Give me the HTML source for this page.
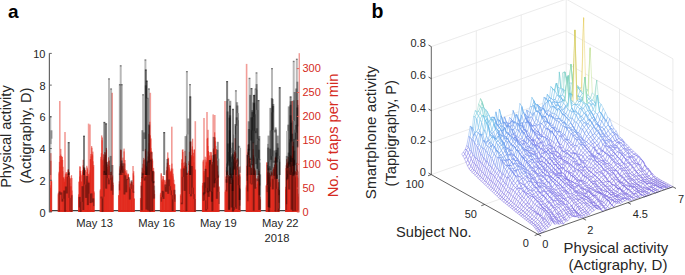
<!DOCTYPE html>
<html><head><meta charset="utf-8"><style>
html,body{margin:0;padding:0;background:#fff;width:685px;height:275px;overflow:hidden}
svg{display:block;font-family:"Liberation Sans", sans-serif}
</style></head><body>
<svg width="685" height="275" viewBox="0 0 685 275">
<rect width="685" height="275" fill="#fff"/>
<line x1="50.0" y1="210.6" x2="298.6" y2="210.6" stroke="#000" stroke-opacity="0.75" stroke-width="1.3"/>
<g fill="#e2261a" fill-opacity="0.62">
<rect x="49.78" y="187.8" width="1.2" height="24.2"/>
<rect x="49.56" y="185.2" width="1.2" height="26.8"/>
<rect x="50.29" y="153.1" width="1.2" height="58.9"/>
<rect x="50.32" y="160.8" width="1.2" height="51.2"/>
<rect x="50.91" y="181.6" width="1.2" height="30.4"/>
<rect x="50.95" y="180.7" width="1.2" height="31.3"/>
<rect x="57.70" y="194.3" width="1.2" height="17.7"/>
<rect x="57.74" y="192.8" width="1.2" height="19.2"/>
<rect x="58.53" y="171.7" width="1.2" height="40.3"/>
<rect x="58.49" y="173.4" width="1.2" height="38.6"/>
<rect x="58.88" y="172.1" width="1.2" height="39.9"/>
<rect x="58.82" y="161.9" width="1.2" height="50.1"/>
<rect x="59.36" y="166.6" width="1.2" height="45.4"/>
<rect x="59.40" y="156.0" width="1.2" height="56.0"/>
<rect x="60.17" y="154.6" width="1.2" height="57.4"/>
<rect x="60.19" y="148.9" width="1.2" height="63.1"/>
<rect x="60.56" y="160.0" width="1.2" height="52.0"/>
<rect x="60.93" y="156.0" width="1.2" height="56.0"/>
<rect x="61.57" y="156.8" width="1.2" height="55.2"/>
<rect x="61.51" y="156.9" width="1.2" height="55.1"/>
<rect x="62.06" y="160.0" width="1.2" height="52.0"/>
<rect x="62.19" y="171.2" width="1.2" height="40.8"/>
<rect x="62.45" y="166.8" width="1.2" height="45.2"/>
<rect x="62.52" y="177.3" width="1.2" height="34.7"/>
<rect x="63.13" y="177.5" width="1.2" height="34.5"/>
<rect x="63.06" y="177.6" width="1.2" height="34.4"/>
<rect x="63.76" y="182.2" width="1.2" height="29.8"/>
<rect x="63.91" y="179.2" width="1.2" height="32.8"/>
<rect x="64.23" y="181.6" width="1.2" height="30.4"/>
<rect x="64.60" y="176.5" width="1.2" height="35.5"/>
<rect x="64.86" y="174.1" width="1.2" height="37.9"/>
<rect x="64.98" y="177.1" width="1.2" height="34.9"/>
<rect x="65.36" y="172.7" width="1.2" height="39.3"/>
<rect x="65.73" y="172.1" width="1.2" height="39.9"/>
<rect x="66.38" y="173.9" width="1.2" height="38.1"/>
<rect x="66.33" y="174.0" width="1.2" height="38.0"/>
<rect x="67.01" y="175.6" width="1.2" height="36.4"/>
<rect x="66.76" y="176.4" width="1.2" height="35.6"/>
<rect x="67.48" y="171.9" width="1.2" height="40.1"/>
<rect x="67.51" y="169.5" width="1.2" height="42.5"/>
<rect x="67.85" y="169.3" width="1.2" height="42.7"/>
<rect x="67.88" y="170.7" width="1.2" height="41.3"/>
<rect x="68.73" y="172.0" width="1.2" height="40.0"/>
<rect x="68.62" y="177.3" width="1.2" height="34.7"/>
<rect x="69.13" y="176.2" width="1.2" height="35.8"/>
<rect x="69.25" y="183.2" width="1.2" height="28.8"/>
<rect x="69.62" y="178.1" width="1.2" height="33.9"/>
<rect x="69.55" y="178.8" width="1.2" height="33.2"/>
<rect x="70.36" y="186.2" width="1.2" height="25.8"/>
<rect x="70.15" y="186.5" width="1.2" height="25.5"/>
<rect x="71.23" y="178.0" width="1.2" height="34.0"/>
<rect x="70.91" y="175.2" width="1.2" height="36.8"/>
<rect x="71.39" y="190.5" width="1.2" height="21.5"/>
<rect x="71.35" y="194.7" width="1.2" height="17.3"/>
<rect x="78.04" y="194.3" width="1.2" height="17.7"/>
<rect x="77.99" y="196.8" width="1.2" height="15.2"/>
<rect x="78.51" y="181.5" width="1.2" height="30.5"/>
<rect x="78.57" y="181.9" width="1.2" height="30.1"/>
<rect x="79.17" y="166.3" width="1.2" height="45.7"/>
<rect x="79.11" y="176.5" width="1.2" height="35.5"/>
<rect x="79.67" y="166.7" width="1.2" height="45.3"/>
<rect x="79.59" y="170.8" width="1.2" height="41.2"/>
<rect x="80.09" y="173.5" width="1.2" height="38.5"/>
<rect x="80.17" y="171.0" width="1.2" height="41.0"/>
<rect x="80.70" y="181.6" width="1.2" height="30.4"/>
<rect x="81.12" y="181.5" width="1.2" height="30.5"/>
<rect x="81.30" y="175.4" width="1.2" height="36.6"/>
<rect x="81.72" y="174.8" width="1.2" height="37.2"/>
<rect x="82.02" y="171.7" width="1.2" height="40.3"/>
<rect x="82.19" y="170.1" width="1.2" height="41.9"/>
<rect x="82.50" y="165.3" width="1.2" height="46.7"/>
<rect x="82.61" y="159.8" width="1.2" height="52.2"/>
<rect x="83.28" y="169.3" width="1.2" height="42.7"/>
<rect x="83.08" y="167.1" width="1.2" height="44.9"/>
<rect x="83.79" y="168.8" width="1.2" height="43.2"/>
<rect x="84.06" y="168.3" width="1.2" height="43.7"/>
<rect x="84.42" y="170.2" width="1.2" height="41.8"/>
<rect x="84.67" y="170.2" width="1.2" height="41.8"/>
<rect x="85.08" y="176.5" width="1.2" height="35.5"/>
<rect x="85.16" y="175.6" width="1.2" height="36.4"/>
<rect x="85.66" y="178.8" width="1.2" height="33.2"/>
<rect x="85.67" y="181.5" width="1.2" height="30.5"/>
<rect x="86.20" y="165.8" width="1.2" height="46.2"/>
<rect x="86.35" y="171.9" width="1.2" height="40.1"/>
<rect x="86.74" y="167.6" width="1.2" height="44.4"/>
<rect x="87.02" y="169.4" width="1.2" height="42.6"/>
<rect x="87.30" y="181.0" width="1.2" height="31.0"/>
<rect x="87.70" y="173.8" width="1.2" height="38.2"/>
<rect x="87.89" y="185.4" width="1.2" height="26.6"/>
<rect x="87.99" y="180.6" width="1.2" height="31.4"/>
<rect x="88.47" y="174.4" width="1.2" height="37.6"/>
<rect x="88.53" y="176.5" width="1.2" height="35.5"/>
<rect x="89.40" y="172.4" width="1.2" height="39.6"/>
<rect x="89.48" y="170.3" width="1.2" height="41.7"/>
<rect x="89.96" y="159.2" width="1.2" height="52.8"/>
<rect x="89.74" y="159.2" width="1.2" height="52.8"/>
<rect x="90.41" y="156.4" width="1.2" height="55.6"/>
<rect x="90.31" y="154.0" width="1.2" height="58.0"/>
<rect x="91.04" y="146.1" width="1.2" height="65.9"/>
<rect x="91.32" y="147.8" width="1.2" height="64.2"/>
<rect x="91.65" y="154.1" width="1.2" height="57.9"/>
<rect x="91.95" y="155.4" width="1.2" height="56.6"/>
<rect x="92.42" y="161.3" width="1.2" height="50.7"/>
<rect x="92.28" y="151.6" width="1.2" height="60.4"/>
<rect x="92.74" y="166.8" width="1.2" height="45.2"/>
<rect x="93.12" y="165.0" width="1.2" height="47.0"/>
<rect x="93.38" y="192.7" width="1.2" height="19.3"/>
<rect x="93.47" y="191.4" width="1.2" height="20.6"/>
<rect x="99.78" y="189.2" width="1.2" height="22.8"/>
<rect x="99.61" y="190.5" width="1.2" height="21.5"/>
<rect x="100.64" y="158.8" width="1.2" height="53.2"/>
<rect x="100.27" y="156.8" width="1.2" height="55.2"/>
<rect x="100.80" y="153.2" width="1.2" height="58.8"/>
<rect x="101.12" y="135.4" width="1.2" height="76.6"/>
<rect x="101.77" y="137.5" width="1.2" height="74.5"/>
<rect x="101.48" y="140.2" width="1.2" height="71.8"/>
<rect x="102.08" y="159.8" width="1.2" height="52.2"/>
<rect x="102.04" y="161.5" width="1.2" height="50.5"/>
<rect x="102.80" y="154.3" width="1.2" height="57.7"/>
<rect x="102.70" y="165.3" width="1.2" height="46.7"/>
<rect x="103.58" y="157.2" width="1.2" height="54.8"/>
<rect x="103.52" y="158.9" width="1.2" height="53.1"/>
<rect x="104.03" y="152.1" width="1.2" height="59.9"/>
<rect x="104.04" y="160.2" width="1.2" height="51.8"/>
<rect x="104.37" y="154.6" width="1.2" height="57.4"/>
<rect x="104.58" y="155.0" width="1.2" height="57.0"/>
<rect x="104.99" y="154.7" width="1.2" height="57.3"/>
<rect x="105.13" y="152.4" width="1.2" height="59.6"/>
<rect x="105.79" y="147.9" width="1.2" height="64.1"/>
<rect x="105.92" y="149.8" width="1.2" height="62.2"/>
<rect x="106.31" y="161.6" width="1.2" height="50.4"/>
<rect x="106.31" y="164.4" width="1.2" height="47.6"/>
<rect x="107.18" y="168.9" width="1.2" height="43.1"/>
<rect x="106.90" y="167.0" width="1.2" height="45.0"/>
<rect x="107.35" y="170.3" width="1.2" height="41.7"/>
<rect x="107.46" y="164.6" width="1.2" height="47.4"/>
<rect x="108.10" y="161.1" width="1.2" height="50.9"/>
<rect x="108.05" y="157.3" width="1.2" height="54.7"/>
<rect x="108.84" y="160.5" width="1.2" height="51.5"/>
<rect x="108.92" y="165.9" width="1.2" height="46.1"/>
<rect x="109.61" y="178.8" width="1.2" height="33.2"/>
<rect x="109.45" y="179.7" width="1.2" height="32.3"/>
<rect x="110.12" y="172.0" width="1.2" height="40.0"/>
<rect x="110.19" y="174.4" width="1.2" height="37.6"/>
<rect x="110.70" y="171.6" width="1.2" height="40.4"/>
<rect x="110.44" y="177.7" width="1.2" height="34.3"/>
<rect x="111.22" y="177.8" width="1.2" height="34.2"/>
<rect x="111.32" y="181.4" width="1.2" height="30.6"/>
<rect x="111.79" y="177.2" width="1.2" height="34.8"/>
<rect x="111.97" y="175.4" width="1.2" height="36.6"/>
<rect x="112.43" y="185.0" width="1.2" height="27.0"/>
<rect x="112.48" y="182.6" width="1.2" height="29.4"/>
<rect x="118.30" y="195.8" width="1.2" height="16.2"/>
<rect x="117.98" y="195.0" width="1.2" height="17.0"/>
<rect x="118.69" y="181.3" width="1.2" height="30.7"/>
<rect x="118.78" y="184.2" width="1.2" height="27.8"/>
<rect x="119.29" y="166.3" width="1.2" height="45.7"/>
<rect x="119.44" y="168.5" width="1.2" height="43.5"/>
<rect x="119.96" y="149.6" width="1.2" height="62.4"/>
<rect x="119.90" y="164.0" width="1.2" height="48.0"/>
<rect x="120.42" y="150.2" width="1.2" height="61.8"/>
<rect x="120.43" y="149.8" width="1.2" height="62.2"/>
<rect x="121.16" y="163.6" width="1.2" height="48.4"/>
<rect x="121.31" y="162.9" width="1.2" height="49.1"/>
<rect x="121.80" y="166.2" width="1.2" height="45.8"/>
<rect x="121.57" y="166.2" width="1.2" height="45.8"/>
<rect x="122.36" y="157.6" width="1.2" height="54.4"/>
<rect x="122.43" y="165.9" width="1.2" height="46.1"/>
<rect x="122.90" y="172.2" width="1.2" height="39.8"/>
<rect x="123.01" y="168.5" width="1.2" height="43.5"/>
<rect x="123.48" y="151.4" width="1.2" height="60.6"/>
<rect x="123.47" y="148.6" width="1.2" height="63.4"/>
<rect x="124.35" y="160.0" width="1.2" height="52.0"/>
<rect x="124.21" y="163.5" width="1.2" height="48.5"/>
<rect x="124.49" y="169.2" width="1.2" height="42.8"/>
<rect x="124.78" y="171.1" width="1.2" height="40.9"/>
<rect x="125.44" y="177.4" width="1.2" height="34.6"/>
<rect x="125.12" y="174.3" width="1.2" height="37.7"/>
<rect x="125.96" y="172.6" width="1.2" height="39.4"/>
<rect x="126.13" y="170.2" width="1.2" height="41.8"/>
<rect x="126.66" y="178.8" width="1.2" height="33.2"/>
<rect x="126.46" y="185.2" width="1.2" height="26.8"/>
<rect x="127.32" y="173.7" width="1.2" height="38.3"/>
<rect x="127.02" y="175.3" width="1.2" height="36.7"/>
<rect x="127.72" y="173.8" width="1.2" height="38.2"/>
<rect x="127.77" y="174.8" width="1.2" height="37.2"/>
<rect x="128.41" y="179.1" width="1.2" height="32.9"/>
<rect x="128.30" y="178.2" width="1.2" height="33.8"/>
<rect x="128.98" y="187.9" width="1.2" height="24.1"/>
<rect x="128.67" y="187.4" width="1.2" height="24.6"/>
<rect x="129.41" y="183.4" width="1.2" height="28.6"/>
<rect x="129.27" y="186.8" width="1.2" height="25.2"/>
<rect x="130.31" y="184.4" width="1.2" height="27.6"/>
<rect x="130.00" y="183.7" width="1.2" height="28.3"/>
<rect x="130.57" y="180.8" width="1.2" height="31.2"/>
<rect x="130.73" y="182.0" width="1.2" height="30.0"/>
<rect x="131.29" y="185.7" width="1.2" height="26.3"/>
<rect x="131.18" y="189.5" width="1.2" height="22.5"/>
<rect x="131.65" y="182.2" width="1.2" height="29.8"/>
<rect x="131.72" y="184.4" width="1.2" height="27.6"/>
<rect x="132.63" y="173.3" width="1.2" height="38.7"/>
<rect x="132.43" y="166.0" width="1.2" height="46.0"/>
<rect x="133.00" y="175.5" width="1.2" height="36.5"/>
<rect x="133.09" y="171.2" width="1.2" height="40.8"/>
<rect x="133.71" y="198.9" width="1.2" height="13.1"/>
<rect x="133.52" y="198.2" width="1.2" height="13.8"/>
<rect x="140.24" y="199.6" width="1.2" height="12.4"/>
<rect x="139.90" y="198.0" width="1.2" height="14.0"/>
<rect x="140.56" y="185.7" width="1.2" height="26.3"/>
<rect x="140.58" y="182.0" width="1.2" height="30.0"/>
<rect x="141.42" y="178.5" width="1.2" height="33.5"/>
<rect x="141.10" y="176.8" width="1.2" height="35.2"/>
<rect x="141.67" y="167.7" width="1.2" height="44.3"/>
<rect x="141.60" y="171.9" width="1.2" height="40.1"/>
<rect x="142.65" y="168.9" width="1.2" height="43.1"/>
<rect x="142.41" y="163.8" width="1.2" height="48.2"/>
<rect x="143.09" y="157.9" width="1.2" height="54.1"/>
<rect x="142.93" y="160.2" width="1.2" height="51.8"/>
<rect x="143.36" y="170.7" width="1.2" height="41.3"/>
<rect x="143.55" y="171.0" width="1.2" height="41.0"/>
<rect x="144.29" y="164.5" width="1.2" height="47.5"/>
<rect x="144.07" y="159.3" width="1.2" height="52.7"/>
<rect x="144.80" y="148.9" width="1.2" height="63.1"/>
<rect x="144.98" y="150.8" width="1.2" height="61.2"/>
<rect x="145.18" y="160.1" width="1.2" height="51.9"/>
<rect x="145.60" y="166.1" width="1.2" height="45.9"/>
<rect x="145.90" y="173.6" width="1.2" height="38.4"/>
<rect x="145.77" y="172.2" width="1.2" height="39.8"/>
<rect x="146.82" y="167.2" width="1.2" height="44.8"/>
<rect x="146.38" y="169.8" width="1.2" height="42.2"/>
<rect x="147.37" y="162.9" width="1.2" height="49.1"/>
<rect x="147.05" y="160.4" width="1.2" height="51.6"/>
<rect x="147.58" y="156.4" width="1.2" height="55.6"/>
<rect x="147.64" y="151.5" width="1.2" height="60.5"/>
<rect x="148.60" y="143.1" width="1.2" height="68.9"/>
<rect x="148.40" y="133.9" width="1.2" height="78.1"/>
<rect x="148.82" y="125.6" width="1.2" height="86.4"/>
<rect x="149.18" y="121.8" width="1.2" height="90.2"/>
<rect x="149.79" y="135.3" width="1.2" height="76.7"/>
<rect x="149.84" y="139.4" width="1.2" height="72.6"/>
<rect x="150.41" y="148.2" width="1.2" height="63.8"/>
<rect x="150.42" y="138.4" width="1.2" height="73.6"/>
<rect x="150.59" y="151.0" width="1.2" height="61.0"/>
<rect x="150.88" y="158.3" width="1.2" height="53.7"/>
<rect x="151.49" y="151.8" width="1.2" height="60.2"/>
<rect x="151.32" y="165.2" width="1.2" height="46.8"/>
<rect x="151.84" y="158.7" width="1.2" height="53.3"/>
<rect x="152.01" y="160.6" width="1.2" height="51.4"/>
<rect x="152.48" y="171.5" width="1.2" height="40.5"/>
<rect x="152.82" y="171.1" width="1.2" height="40.9"/>
<rect x="153.33" y="171.7" width="1.2" height="40.3"/>
<rect x="152.97" y="167.9" width="1.2" height="44.1"/>
<rect x="153.60" y="190.3" width="1.2" height="21.7"/>
<rect x="153.92" y="194.1" width="1.2" height="17.9"/>
<rect x="159.93" y="192.8" width="1.2" height="19.2"/>
<rect x="159.90" y="194.6" width="1.2" height="17.4"/>
<rect x="160.60" y="173.0" width="1.2" height="39.0"/>
<rect x="160.69" y="174.3" width="1.2" height="37.7"/>
<rect x="161.42" y="180.0" width="1.2" height="32.0"/>
<rect x="161.35" y="180.4" width="1.2" height="31.6"/>
<rect x="161.86" y="181.9" width="1.2" height="30.1"/>
<rect x="161.94" y="184.5" width="1.2" height="27.5"/>
<rect x="162.25" y="176.0" width="1.2" height="36.0"/>
<rect x="162.23" y="178.8" width="1.2" height="33.2"/>
<rect x="163.09" y="179.6" width="1.2" height="32.4"/>
<rect x="162.88" y="176.2" width="1.2" height="35.8"/>
<rect x="163.36" y="185.7" width="1.2" height="26.3"/>
<rect x="163.53" y="180.0" width="1.2" height="32.0"/>
<rect x="164.29" y="184.3" width="1.2" height="27.7"/>
<rect x="164.30" y="180.5" width="1.2" height="31.5"/>
<rect x="165.04" y="187.1" width="1.2" height="24.9"/>
<rect x="164.84" y="187.4" width="1.2" height="24.6"/>
<rect x="165.29" y="181.8" width="1.2" height="30.2"/>
<rect x="165.45" y="179.7" width="1.2" height="32.3"/>
<rect x="165.82" y="171.3" width="1.2" height="40.7"/>
<rect x="165.89" y="170.0" width="1.2" height="42.0"/>
<rect x="166.72" y="162.7" width="1.2" height="49.3"/>
<rect x="166.48" y="166.7" width="1.2" height="45.3"/>
<rect x="167.44" y="157.7" width="1.2" height="54.3"/>
<rect x="167.19" y="152.4" width="1.2" height="59.6"/>
<rect x="167.88" y="158.3" width="1.2" height="53.7"/>
<rect x="167.59" y="162.9" width="1.2" height="49.1"/>
<rect x="168.44" y="173.5" width="1.2" height="38.5"/>
<rect x="168.64" y="167.4" width="1.2" height="44.6"/>
<rect x="169.18" y="169.3" width="1.2" height="42.7"/>
<rect x="169.00" y="164.9" width="1.2" height="47.1"/>
<rect x="169.59" y="171.5" width="1.2" height="40.5"/>
<rect x="169.73" y="172.1" width="1.2" height="39.9"/>
<rect x="170.01" y="174.8" width="1.2" height="37.2"/>
<rect x="170.21" y="170.9" width="1.2" height="41.1"/>
<rect x="170.82" y="168.4" width="1.2" height="43.6"/>
<rect x="170.84" y="170.3" width="1.2" height="41.7"/>
<rect x="171.22" y="171.6" width="1.2" height="40.4"/>
<rect x="171.32" y="163.6" width="1.2" height="48.4"/>
<rect x="172.16" y="175.8" width="1.2" height="36.2"/>
<rect x="172.13" y="168.6" width="1.2" height="43.4"/>
<rect x="172.42" y="177.5" width="1.2" height="34.5"/>
<rect x="172.46" y="173.7" width="1.2" height="38.3"/>
<rect x="173.30" y="179.7" width="1.2" height="32.3"/>
<rect x="172.95" y="183.2" width="1.2" height="28.8"/>
<rect x="173.95" y="184.3" width="1.2" height="27.7"/>
<rect x="174.04" y="184.3" width="1.2" height="27.7"/>
<rect x="174.52" y="195.1" width="1.2" height="16.9"/>
<rect x="174.44" y="194.0" width="1.2" height="18.0"/>
<rect x="179.86" y="194.4" width="1.2" height="17.6"/>
<rect x="180.28" y="196.0" width="1.2" height="16.0"/>
<rect x="180.55" y="168.5" width="1.2" height="43.5"/>
<rect x="180.72" y="169.3" width="1.2" height="42.7"/>
<rect x="181.21" y="159.3" width="1.2" height="52.7"/>
<rect x="181.37" y="162.9" width="1.2" height="49.1"/>
<rect x="181.82" y="149.8" width="1.2" height="62.2"/>
<rect x="181.71" y="159.2" width="1.2" height="52.8"/>
<rect x="182.29" y="152.0" width="1.2" height="60.0"/>
<rect x="182.32" y="149.3" width="1.2" height="62.7"/>
<rect x="183.32" y="167.0" width="1.2" height="45.0"/>
<rect x="183.23" y="162.7" width="1.2" height="49.3"/>
<rect x="183.57" y="166.1" width="1.2" height="45.9"/>
<rect x="183.94" y="165.7" width="1.2" height="46.3"/>
<rect x="184.50" y="161.7" width="1.2" height="50.3"/>
<rect x="184.39" y="150.8" width="1.2" height="61.2"/>
<rect x="185.02" y="165.1" width="1.2" height="46.9"/>
<rect x="184.95" y="155.9" width="1.2" height="56.1"/>
<rect x="185.55" y="172.2" width="1.2" height="39.8"/>
<rect x="185.55" y="163.2" width="1.2" height="48.8"/>
<rect x="185.95" y="172.8" width="1.2" height="39.2"/>
<rect x="185.87" y="166.8" width="1.2" height="45.2"/>
<rect x="186.64" y="175.8" width="1.2" height="36.2"/>
<rect x="186.70" y="172.7" width="1.2" height="39.3"/>
<rect x="187.33" y="179.8" width="1.2" height="32.2"/>
<rect x="187.21" y="173.5" width="1.2" height="38.5"/>
<rect x="187.91" y="173.1" width="1.2" height="38.9"/>
<rect x="187.94" y="170.9" width="1.2" height="41.1"/>
<rect x="188.53" y="163.7" width="1.2" height="48.3"/>
<rect x="188.30" y="161.2" width="1.2" height="50.8"/>
<rect x="189.28" y="163.1" width="1.2" height="48.9"/>
<rect x="188.85" y="151.8" width="1.2" height="60.2"/>
<rect x="189.75" y="141.4" width="1.2" height="70.6"/>
<rect x="189.80" y="142.0" width="1.2" height="70.0"/>
<rect x="190.11" y="148.8" width="1.2" height="63.2"/>
<rect x="190.41" y="141.5" width="1.2" height="70.5"/>
<rect x="190.79" y="155.5" width="1.2" height="56.5"/>
<rect x="191.12" y="157.2" width="1.2" height="54.8"/>
<rect x="191.36" y="155.0" width="1.2" height="57.0"/>
<rect x="191.74" y="146.4" width="1.2" height="65.6"/>
<rect x="191.95" y="149.6" width="1.2" height="62.4"/>
<rect x="192.04" y="138.7" width="1.2" height="73.3"/>
<rect x="192.79" y="152.8" width="1.2" height="59.2"/>
<rect x="192.75" y="156.2" width="1.2" height="55.8"/>
<rect x="193.16" y="167.1" width="1.2" height="44.9"/>
<rect x="193.26" y="162.3" width="1.2" height="49.7"/>
<rect x="193.72" y="149.7" width="1.2" height="62.3"/>
<rect x="193.78" y="149.4" width="1.2" height="62.6"/>
<rect x="194.30" y="169.4" width="1.2" height="42.6"/>
<rect x="194.74" y="169.7" width="1.2" height="42.3"/>
<rect x="201.98" y="182.9" width="1.2" height="29.1"/>
<rect x="201.88" y="185.5" width="1.2" height="26.5"/>
<rect x="202.53" y="161.5" width="1.2" height="50.5"/>
<rect x="202.70" y="159.8" width="1.2" height="52.2"/>
<rect x="202.97" y="171.1" width="1.2" height="40.9"/>
<rect x="203.16" y="173.0" width="1.2" height="39.0"/>
<rect x="203.84" y="171.1" width="1.2" height="40.9"/>
<rect x="203.78" y="175.6" width="1.2" height="36.4"/>
<rect x="204.63" y="156.7" width="1.2" height="55.3"/>
<rect x="204.49" y="159.6" width="1.2" height="52.4"/>
<rect x="205.25" y="168.0" width="1.2" height="44.0"/>
<rect x="204.98" y="165.7" width="1.2" height="46.3"/>
<rect x="205.82" y="162.6" width="1.2" height="49.4"/>
<rect x="205.65" y="161.8" width="1.2" height="50.2"/>
<rect x="206.28" y="160.3" width="1.2" height="51.7"/>
<rect x="206.42" y="157.5" width="1.2" height="54.5"/>
<rect x="207.05" y="137.8" width="1.2" height="74.2"/>
<rect x="206.57" y="138.7" width="1.2" height="73.3"/>
<rect x="207.32" y="146.0" width="1.2" height="66.0"/>
<rect x="207.43" y="129.8" width="1.2" height="82.2"/>
<rect x="207.80" y="151.1" width="1.2" height="60.9"/>
<rect x="207.81" y="151.3" width="1.2" height="60.7"/>
<rect x="208.72" y="162.5" width="1.2" height="49.5"/>
<rect x="208.43" y="161.7" width="1.2" height="50.3"/>
<rect x="209.02" y="155.4" width="1.2" height="56.6"/>
<rect x="209.28" y="152.1" width="1.2" height="59.9"/>
<rect x="209.91" y="158.6" width="1.2" height="53.4"/>
<rect x="209.68" y="160.7" width="1.2" height="51.3"/>
<rect x="210.34" y="151.9" width="1.2" height="60.1"/>
<rect x="210.61" y="152.4" width="1.2" height="59.6"/>
<rect x="211.15" y="158.5" width="1.2" height="53.5"/>
<rect x="210.79" y="155.5" width="1.2" height="56.5"/>
<rect x="211.64" y="171.3" width="1.2" height="40.7"/>
<rect x="211.47" y="164.0" width="1.2" height="48.0"/>
<rect x="212.14" y="164.9" width="1.2" height="47.1"/>
<rect x="212.16" y="161.9" width="1.2" height="50.1"/>
<rect x="212.85" y="149.4" width="1.2" height="62.6"/>
<rect x="212.72" y="159.7" width="1.2" height="52.3"/>
<rect x="213.23" y="148.2" width="1.2" height="63.8"/>
<rect x="213.18" y="150.3" width="1.2" height="61.7"/>
<rect x="214.18" y="137.3" width="1.2" height="74.7"/>
<rect x="214.05" y="132.3" width="1.2" height="79.7"/>
<rect x="214.63" y="141.2" width="1.2" height="70.8"/>
<rect x="214.44" y="137.6" width="1.2" height="74.4"/>
<rect x="215.20" y="145.9" width="1.2" height="66.1"/>
<rect x="215.17" y="152.3" width="1.2" height="59.7"/>
<rect x="215.87" y="149.0" width="1.2" height="63.0"/>
<rect x="215.67" y="157.3" width="1.2" height="54.7"/>
<rect x="216.43" y="160.6" width="1.2" height="51.4"/>
<rect x="216.39" y="165.3" width="1.2" height="46.7"/>
<rect x="217.06" y="171.4" width="1.2" height="40.6"/>
<rect x="216.94" y="165.8" width="1.2" height="46.2"/>
<rect x="217.63" y="175.9" width="1.2" height="36.1"/>
<rect x="217.47" y="174.6" width="1.2" height="37.4"/>
<rect x="218.41" y="186.3" width="1.2" height="25.7"/>
<rect x="218.29" y="187.1" width="1.2" height="24.9"/>
<rect x="225.01" y="189.8" width="1.2" height="22.2"/>
<rect x="224.58" y="191.7" width="1.2" height="20.3"/>
<rect x="225.64" y="177.0" width="1.2" height="35.0"/>
<rect x="225.51" y="176.2" width="1.2" height="35.8"/>
<rect x="226.07" y="176.7" width="1.2" height="35.3"/>
<rect x="226.00" y="171.7" width="1.2" height="40.3"/>
<rect x="226.42" y="180.5" width="1.2" height="31.5"/>
<rect x="226.70" y="171.6" width="1.2" height="40.4"/>
<rect x="227.02" y="170.5" width="1.2" height="41.5"/>
<rect x="227.29" y="179.3" width="1.2" height="32.7"/>
<rect x="227.78" y="175.0" width="1.2" height="37.0"/>
<rect x="227.93" y="177.1" width="1.2" height="34.9"/>
<rect x="228.51" y="176.2" width="1.2" height="35.8"/>
<rect x="228.40" y="179.5" width="1.2" height="32.5"/>
<rect x="228.98" y="175.7" width="1.2" height="36.3"/>
<rect x="228.98" y="176.4" width="1.2" height="35.6"/>
<rect x="229.75" y="167.4" width="1.2" height="44.6"/>
<rect x="229.69" y="176.7" width="1.2" height="35.3"/>
<rect x="230.12" y="174.1" width="1.2" height="37.9"/>
<rect x="230.42" y="173.4" width="1.2" height="38.6"/>
<rect x="230.86" y="185.6" width="1.2" height="26.4"/>
<rect x="230.78" y="182.9" width="1.2" height="29.1"/>
<rect x="231.58" y="179.7" width="1.2" height="32.3"/>
<rect x="231.59" y="178.9" width="1.2" height="33.1"/>
<rect x="232.15" y="178.0" width="1.2" height="34.0"/>
<rect x="231.84" y="176.5" width="1.2" height="35.5"/>
<rect x="232.64" y="166.3" width="1.2" height="45.7"/>
<rect x="232.80" y="173.3" width="1.2" height="38.7"/>
<rect x="233.29" y="161.5" width="1.2" height="50.5"/>
<rect x="233.11" y="154.4" width="1.2" height="57.6"/>
<rect x="233.82" y="152.1" width="1.2" height="59.9"/>
<rect x="233.82" y="156.5" width="1.2" height="55.5"/>
<rect x="234.50" y="138.2" width="1.2" height="73.8"/>
<rect x="234.49" y="151.3" width="1.2" height="60.7"/>
<rect x="234.93" y="153.6" width="1.2" height="58.4"/>
<rect x="234.94" y="152.7" width="1.2" height="59.3"/>
<rect x="235.54" y="160.2" width="1.2" height="51.8"/>
<rect x="235.50" y="159.6" width="1.2" height="52.4"/>
<rect x="236.11" y="176.3" width="1.2" height="35.7"/>
<rect x="236.39" y="176.8" width="1.2" height="35.2"/>
<rect x="236.76" y="158.2" width="1.2" height="53.8"/>
<rect x="236.99" y="168.4" width="1.2" height="43.6"/>
<rect x="237.27" y="159.5" width="1.2" height="52.5"/>
<rect x="237.40" y="166.9" width="1.2" height="45.1"/>
<rect x="237.86" y="178.3" width="1.2" height="33.7"/>
<rect x="237.81" y="175.5" width="1.2" height="36.5"/>
<rect x="238.65" y="176.3" width="1.2" height="35.7"/>
<rect x="238.81" y="174.6" width="1.2" height="37.4"/>
<rect x="239.29" y="166.4" width="1.2" height="45.6"/>
<rect x="239.33" y="174.3" width="1.2" height="37.7"/>
<rect x="245.81" y="185.4" width="1.2" height="26.6"/>
<rect x="245.75" y="187.5" width="1.2" height="24.5"/>
<rect x="246.63" y="174.3" width="1.2" height="37.7"/>
<rect x="246.20" y="165.8" width="1.2" height="46.2"/>
<rect x="247.14" y="168.3" width="1.2" height="43.7"/>
<rect x="247.12" y="164.2" width="1.2" height="47.8"/>
<rect x="247.42" y="152.8" width="1.2" height="59.2"/>
<rect x="247.45" y="151.7" width="1.2" height="60.3"/>
<rect x="248.32" y="156.1" width="1.2" height="55.9"/>
<rect x="248.10" y="144.1" width="1.2" height="67.9"/>
<rect x="248.92" y="159.0" width="1.2" height="53.0"/>
<rect x="248.77" y="160.4" width="1.2" height="51.6"/>
<rect x="249.21" y="158.0" width="1.2" height="54.0"/>
<rect x="249.59" y="158.7" width="1.2" height="53.3"/>
<rect x="249.87" y="166.5" width="1.2" height="45.5"/>
<rect x="249.97" y="175.6" width="1.2" height="36.4"/>
<rect x="250.81" y="172.7" width="1.2" height="39.3"/>
<rect x="250.77" y="167.7" width="1.2" height="44.3"/>
<rect x="251.20" y="173.3" width="1.2" height="38.7"/>
<rect x="251.01" y="168.2" width="1.2" height="43.8"/>
<rect x="251.98" y="168.8" width="1.2" height="43.2"/>
<rect x="251.94" y="164.0" width="1.2" height="48.0"/>
<rect x="252.54" y="142.4" width="1.2" height="69.6"/>
<rect x="252.53" y="149.1" width="1.2" height="62.9"/>
<rect x="252.86" y="155.1" width="1.2" height="56.9"/>
<rect x="253.21" y="158.4" width="1.2" height="53.6"/>
<rect x="253.37" y="169.5" width="1.2" height="42.5"/>
<rect x="253.85" y="168.1" width="1.2" height="43.9"/>
<rect x="254.20" y="169.2" width="1.2" height="42.8"/>
<rect x="254.27" y="171.2" width="1.2" height="40.8"/>
<rect x="254.79" y="173.4" width="1.2" height="38.6"/>
<rect x="254.99" y="170.3" width="1.2" height="41.7"/>
<rect x="255.51" y="178.3" width="1.2" height="33.7"/>
<rect x="255.25" y="178.8" width="1.2" height="33.2"/>
<rect x="255.88" y="187.0" width="1.2" height="25.0"/>
<rect x="256.23" y="189.0" width="1.2" height="23.0"/>
<rect x="256.76" y="183.8" width="1.2" height="28.2"/>
<rect x="256.55" y="178.6" width="1.2" height="33.4"/>
<rect x="257.04" y="181.9" width="1.2" height="30.1"/>
<rect x="257.30" y="175.8" width="1.2" height="36.2"/>
<rect x="257.85" y="178.5" width="1.2" height="33.5"/>
<rect x="257.88" y="180.4" width="1.2" height="31.6"/>
<rect x="258.54" y="170.8" width="1.2" height="41.2"/>
<rect x="258.44" y="173.2" width="1.2" height="38.8"/>
<rect x="258.88" y="183.2" width="1.2" height="28.8"/>
<rect x="258.79" y="179.3" width="1.2" height="32.7"/>
<rect x="259.83" y="199.3" width="1.2" height="12.7"/>
<rect x="259.63" y="196.7" width="1.2" height="15.3"/>
<rect x="265.70" y="185.4" width="1.2" height="26.6"/>
<rect x="265.61" y="185.6" width="1.2" height="26.4"/>
<rect x="266.32" y="162.0" width="1.2" height="50.0"/>
<rect x="266.29" y="163.1" width="1.2" height="48.9"/>
<rect x="266.97" y="174.5" width="1.2" height="37.5"/>
<rect x="266.84" y="172.5" width="1.2" height="39.5"/>
<rect x="267.41" y="171.7" width="1.2" height="40.3"/>
<rect x="267.84" y="175.4" width="1.2" height="36.6"/>
<rect x="268.40" y="172.9" width="1.2" height="39.1"/>
<rect x="268.01" y="168.2" width="1.2" height="43.8"/>
<rect x="268.80" y="172.7" width="1.2" height="39.3"/>
<rect x="268.82" y="177.0" width="1.2" height="35.0"/>
<rect x="269.30" y="181.5" width="1.2" height="30.5"/>
<rect x="269.57" y="174.4" width="1.2" height="37.6"/>
<rect x="269.95" y="182.6" width="1.2" height="29.4"/>
<rect x="269.91" y="175.4" width="1.2" height="36.6"/>
<rect x="270.47" y="179.2" width="1.2" height="32.8"/>
<rect x="270.52" y="171.3" width="1.2" height="40.7"/>
<rect x="271.42" y="172.3" width="1.2" height="39.7"/>
<rect x="271.05" y="172.8" width="1.2" height="39.2"/>
<rect x="271.71" y="178.7" width="1.2" height="33.3"/>
<rect x="271.86" y="178.7" width="1.2" height="33.3"/>
<rect x="272.49" y="169.8" width="1.2" height="42.2"/>
<rect x="272.56" y="174.8" width="1.2" height="37.2"/>
<rect x="272.85" y="169.3" width="1.2" height="42.7"/>
<rect x="272.89" y="167.3" width="1.2" height="44.7"/>
<rect x="273.54" y="172.3" width="1.2" height="39.7"/>
<rect x="273.37" y="169.0" width="1.2" height="43.0"/>
<rect x="274.43" y="166.9" width="1.2" height="45.1"/>
<rect x="274.13" y="164.9" width="1.2" height="47.1"/>
<rect x="274.90" y="158.1" width="1.2" height="53.9"/>
<rect x="274.75" y="157.3" width="1.2" height="54.7"/>
<rect x="275.29" y="158.0" width="1.2" height="54.0"/>
<rect x="275.36" y="156.5" width="1.2" height="55.5"/>
<rect x="275.92" y="164.2" width="1.2" height="47.8"/>
<rect x="275.85" y="165.1" width="1.2" height="46.9"/>
<rect x="276.60" y="174.6" width="1.2" height="37.4"/>
<rect x="276.41" y="179.7" width="1.2" height="32.3"/>
<rect x="277.33" y="182.4" width="1.2" height="29.6"/>
<rect x="277.37" y="179.4" width="1.2" height="32.6"/>
<rect x="278.03" y="182.1" width="1.2" height="29.9"/>
<rect x="277.63" y="186.9" width="1.2" height="25.1"/>
<rect x="278.55" y="190.2" width="1.2" height="21.8"/>
<rect x="278.31" y="189.9" width="1.2" height="22.1"/>
<rect x="285.10" y="186.8" width="1.2" height="25.2"/>
<rect x="285.11" y="189.5" width="1.2" height="22.5"/>
<rect x="285.46" y="168.1" width="1.2" height="43.9"/>
<rect x="285.59" y="165.3" width="1.2" height="46.7"/>
<rect x="286.05" y="163.4" width="1.2" height="48.6"/>
<rect x="286.19" y="159.2" width="1.2" height="52.8"/>
<rect x="286.97" y="163.4" width="1.2" height="48.6"/>
<rect x="286.84" y="166.3" width="1.2" height="45.7"/>
<rect x="287.27" y="161.7" width="1.2" height="50.3"/>
<rect x="287.61" y="156.9" width="1.2" height="55.1"/>
<rect x="287.77" y="169.4" width="1.2" height="42.6"/>
<rect x="287.79" y="163.3" width="1.2" height="48.7"/>
<rect x="288.52" y="170.3" width="1.2" height="41.7"/>
<rect x="288.74" y="172.7" width="1.2" height="39.3"/>
<rect x="289.41" y="162.3" width="1.2" height="49.7"/>
<rect x="289.14" y="167.6" width="1.2" height="44.4"/>
<rect x="289.94" y="155.3" width="1.2" height="56.7"/>
<rect x="289.64" y="158.3" width="1.2" height="53.7"/>
<rect x="290.43" y="164.4" width="1.2" height="47.6"/>
<rect x="290.48" y="156.2" width="1.2" height="55.8"/>
<rect x="291.17" y="164.8" width="1.2" height="47.2"/>
<rect x="291.00" y="169.9" width="1.2" height="42.1"/>
<rect x="291.71" y="155.8" width="1.2" height="56.2"/>
<rect x="291.44" y="162.2" width="1.2" height="49.8"/>
<rect x="292.10" y="145.9" width="1.2" height="66.1"/>
<rect x="292.08" y="154.1" width="1.2" height="57.9"/>
<rect x="292.87" y="146.3" width="1.2" height="65.7"/>
<rect x="292.84" y="141.8" width="1.2" height="70.2"/>
<rect x="293.59" y="160.6" width="1.2" height="51.4"/>
<rect x="293.44" y="165.7" width="1.2" height="46.3"/>
<rect x="293.92" y="159.6" width="1.2" height="52.4"/>
<rect x="293.81" y="170.6" width="1.2" height="41.4"/>
<rect x="294.72" y="181.6" width="1.2" height="30.4"/>
<rect x="294.76" y="177.8" width="1.2" height="34.2"/>
<rect x="294.96" y="171.1" width="1.2" height="40.9"/>
<rect x="295.08" y="176.7" width="1.2" height="35.3"/>
<rect x="295.56" y="172.2" width="1.2" height="39.8"/>
<rect x="295.72" y="172.3" width="1.2" height="39.7"/>
<rect x="296.42" y="169.4" width="1.2" height="42.6"/>
<rect x="296.20" y="162.8" width="1.2" height="49.2"/>
<rect x="297.20" y="178.1" width="1.2" height="33.9"/>
<rect x="297.02" y="176.4" width="1.2" height="35.6"/>
<rect x="297.80" y="196.6" width="1.2" height="15.4"/>
<rect x="297.64" y="193.7" width="1.2" height="18.3"/>
<rect x="59.00" y="101.0" width="1.6" height="111.0" fill-opacity="0.45"/>
<rect x="64.20" y="132.0" width="1.6" height="80.0" fill-opacity="0.45"/>
<rect x="87.80" y="123.6" width="1.6" height="88.4" fill-opacity="0.45"/>
<rect x="89.20" y="124.5" width="1.6" height="87.5" fill-opacity="0.45"/>
<rect x="111.40" y="92.8" width="1.6" height="119.2" fill-opacity="0.45"/>
<rect x="149.50" y="92.8" width="1.6" height="119.2" fill-opacity="0.45"/>
<rect x="171.00" y="126.7" width="1.6" height="85.3" fill-opacity="0.45"/>
<rect x="194.50" y="121.2" width="1.6" height="90.8" fill-opacity="0.45"/>
<rect x="203.20" y="118.0" width="1.6" height="94.0" fill-opacity="0.45"/>
<rect x="206.20" y="112.0" width="1.6" height="100.0" fill-opacity="0.45"/>
<rect x="212.40" y="114.4" width="1.6" height="97.6" fill-opacity="0.45"/>
<rect x="214.00" y="115.0" width="1.6" height="97.0" fill-opacity="0.45"/>
<rect x="224.20" y="101.0" width="1.6" height="111.0" fill-opacity="0.45"/>
<rect x="245.80" y="63.9" width="1.6" height="148.1" fill-opacity="0.45"/>
<rect x="296.80" y="100.0" width="1.6" height="112.0" fill-opacity="0.6"/>
<rect x="291.40" y="101.0" width="1.6" height="111.0" fill-opacity="0.6"/>
</g>
<g fill="#000" fill-opacity="0.3">
<rect x="50.30" y="130.3" width="1.4" height="13.8"/>
<rect x="51.20" y="130.3" width="1.4" height="8.4"/>
<rect x="58.50" y="191.5" width="1.4" height="19.8"/>
<rect x="59.40" y="191.5" width="1.4" height="3.2"/>
<rect x="60.30" y="192.4" width="1.4" height="2.3"/>
<rect x="61.20" y="192.4" width="1.4" height="9.2"/>
<rect x="62.10" y="198.8" width="1.4" height="2.8"/>
<rect x="63.00" y="190.5" width="1.4" height="8.3"/>
<rect x="63.90" y="190.5" width="1.4" height="21.2"/>
<rect x="64.80" y="186.5" width="1.4" height="25.2"/>
<rect x="65.70" y="186.5" width="1.4" height="7.0"/>
<rect x="66.60" y="177.0" width="1.4" height="16.5"/>
<rect x="67.50" y="172.9" width="1.4" height="4.1"/>
<rect x="68.40" y="172.9" width="1.4" height="25.0"/>
<rect x="69.30" y="197.9" width="1.4" height="13.0"/>
<rect x="70.20" y="210.9" width="1.4" height="0.8"/>
<rect x="71.10" y="195.3" width="1.4" height="16.2"/>
<rect x="78.60" y="196.9" width="1.4" height="10.6"/>
<rect x="79.50" y="196.9" width="1.4" height="15.1"/>
<rect x="80.40" y="201.8" width="1.4" height="10.2"/>
<rect x="81.30" y="186.2" width="1.4" height="15.7"/>
<rect x="82.20" y="186.2" width="1.4" height="23.8"/>
<rect x="83.10" y="167.4" width="1.4" height="42.6"/>
<rect x="84.00" y="167.4" width="1.4" height="17.0"/>
<rect x="84.90" y="184.5" width="1.4" height="13.4"/>
<rect x="85.80" y="176.0" width="1.4" height="21.9"/>
<rect x="86.70" y="176.0" width="1.4" height="29.1"/>
<rect x="87.60" y="182.6" width="1.4" height="22.5"/>
<rect x="88.50" y="182.6" width="1.4" height="11.1"/>
<rect x="89.40" y="193.7" width="1.4" height="9.4"/>
<rect x="90.30" y="193.4" width="1.4" height="9.7"/>
<rect x="91.20" y="193.4" width="1.4" height="9.1"/>
<rect x="92.10" y="198.4" width="1.4" height="4.0"/>
<rect x="93.00" y="198.4" width="1.4" height="7.7"/>
<rect x="100.50" y="196.5" width="1.4" height="2.0"/>
<rect x="101.40" y="198.5" width="1.4" height="13.5"/>
<rect x="102.30" y="196.6" width="1.4" height="15.3"/>
<rect x="103.20" y="170.9" width="1.4" height="25.7"/>
<rect x="104.10" y="170.9" width="1.4" height="1.9"/>
<rect x="105.00" y="172.8" width="1.4" height="15.8"/>
<rect x="105.90" y="162.2" width="1.4" height="26.5"/>
<rect x="106.80" y="162.2" width="1.4" height="15.9"/>
<rect x="107.70" y="178.1" width="1.4" height="6.2"/>
<rect x="108.60" y="179.7" width="1.4" height="4.6"/>
<rect x="109.50" y="155.9" width="1.4" height="23.8"/>
<rect x="110.40" y="155.9" width="1.4" height="34.7"/>
<rect x="111.30" y="165.0" width="1.4" height="25.6"/>
<rect x="112.20" y="165.0" width="1.4" height="29.8"/>
<rect x="118.80" y="173.4" width="1.4" height="17.0"/>
<rect x="119.70" y="170.3" width="1.4" height="3.1"/>
<rect x="120.60" y="160.5" width="1.4" height="9.8"/>
<rect x="121.50" y="160.5" width="1.4" height="12.2"/>
<rect x="122.40" y="163.3" width="1.4" height="9.5"/>
<rect x="123.30" y="163.3" width="1.4" height="31.2"/>
<rect x="124.20" y="175.3" width="1.4" height="19.2"/>
<rect x="125.10" y="175.3" width="1.4" height="17.0"/>
<rect x="126.00" y="179.1" width="1.4" height="13.2"/>
<rect x="126.90" y="179.1" width="1.4" height="0.8"/>
<rect x="127.80" y="177.1" width="1.4" height="2.0"/>
<rect x="128.70" y="177.1" width="1.4" height="22.5"/>
<rect x="129.60" y="188.9" width="1.4" height="10.6"/>
<rect x="130.50" y="180.3" width="1.4" height="8.6"/>
<rect x="131.40" y="180.3" width="1.4" height="4.9"/>
<rect x="132.30" y="185.1" width="1.4" height="7.5"/>
<rect x="133.20" y="191.6" width="1.4" height="1.1"/>
<rect x="140.70" y="185.7" width="1.4" height="24.7"/>
<rect x="141.60" y="173.3" width="1.4" height="37.1"/>
<rect x="142.50" y="173.3" width="1.4" height="5.0"/>
<rect x="143.40" y="178.3" width="1.4" height="2.3"/>
<rect x="144.30" y="176.4" width="1.4" height="4.2"/>
<rect x="145.20" y="176.4" width="1.4" height="33.2"/>
<rect x="146.10" y="161.5" width="1.4" height="48.1"/>
<rect x="147.00" y="161.5" width="1.4" height="48.9"/>
<rect x="147.90" y="124.6" width="1.4" height="85.8"/>
<rect x="148.80" y="124.6" width="1.4" height="86.9"/>
<rect x="149.70" y="159.6" width="1.4" height="52.0"/>
<rect x="150.60" y="159.6" width="1.4" height="11.7"/>
<rect x="151.50" y="171.3" width="1.4" height="10.1"/>
<rect x="152.40" y="181.4" width="1.4" height="1.7"/>
<rect x="153.30" y="180.9" width="1.4" height="2.3"/>
<rect x="141.15" y="130.2" width="1.4" height="47.9"/>
<rect x="142.05" y="130.2" width="1.4" height="21.0"/>
<rect x="142.95" y="132.4" width="1.4" height="18.8"/>
<rect x="143.85" y="132.4" width="1.4" height="6.5"/>
<rect x="144.75" y="85.4" width="1.4" height="53.5"/>
<rect x="145.65" y="85.4" width="1.4" height="12.8"/>
<rect x="146.55" y="97.8" width="1.4" height="0.8"/>
<rect x="147.45" y="97.8" width="1.4" height="64.7"/>
<rect x="148.35" y="161.4" width="1.4" height="1.1"/>
<rect x="149.25" y="153.6" width="1.4" height="7.8"/>
<rect x="150.15" y="152.3" width="1.4" height="1.3"/>
<rect x="151.05" y="152.3" width="1.4" height="58.8"/>
<rect x="151.95" y="170.9" width="1.4" height="40.2"/>
<rect x="152.85" y="170.9" width="1.4" height="27.7"/>
<rect x="153.75" y="185.6" width="1.4" height="13.0"/>
<rect x="160.70" y="197.2" width="1.4" height="4.5"/>
<rect x="161.60" y="190.8" width="1.4" height="6.3"/>
<rect x="162.50" y="190.8" width="1.4" height="8.1"/>
<rect x="163.40" y="191.7" width="1.4" height="7.2"/>
<rect x="164.30" y="184.5" width="1.4" height="7.2"/>
<rect x="165.20" y="184.5" width="1.4" height="7.2"/>
<rect x="166.10" y="159.0" width="1.4" height="32.8"/>
<rect x="167.00" y="159.0" width="1.4" height="34.8"/>
<rect x="167.90" y="179.5" width="1.4" height="14.3"/>
<rect x="168.80" y="179.5" width="1.4" height="6.7"/>
<rect x="169.70" y="186.2" width="1.4" height="4.2"/>
<rect x="170.60" y="190.4" width="1.4" height="4.7"/>
<rect x="171.50" y="195.1" width="1.4" height="15.8"/>
<rect x="172.40" y="199.3" width="1.4" height="11.7"/>
<rect x="173.30" y="189.8" width="1.4" height="9.5"/>
<rect x="174.20" y="189.8" width="1.4" height="12.0"/>
<rect x="180.80" y="202.6" width="1.4" height="1.7"/>
<rect x="181.70" y="176.8" width="1.4" height="27.4"/>
<rect x="182.60" y="168.4" width="1.4" height="8.5"/>
<rect x="183.50" y="168.4" width="1.4" height="22.4"/>
<rect x="184.40" y="136.1" width="1.4" height="54.8"/>
<rect x="185.30" y="136.1" width="1.4" height="75.0"/>
<rect x="186.20" y="134.5" width="1.4" height="76.5"/>
<rect x="187.10" y="118.5" width="1.4" height="16.0"/>
<rect x="188.00" y="118.5" width="1.4" height="46.5"/>
<rect x="188.90" y="165.0" width="1.4" height="29.0"/>
<rect x="189.80" y="194.1" width="1.4" height="2.3"/>
<rect x="190.70" y="166.0" width="1.4" height="30.3"/>
<rect x="191.60" y="166.0" width="1.4" height="21.6"/>
<rect x="192.50" y="187.6" width="1.4" height="6.5"/>
<rect x="193.40" y="194.1" width="1.4" height="4.9"/>
<rect x="194.30" y="199.0" width="1.4" height="12.8"/>
<rect x="202.70" y="192.5" width="1.4" height="8.5"/>
<rect x="203.60" y="192.5" width="1.4" height="1.1"/>
<rect x="204.50" y="168.9" width="1.4" height="24.7"/>
<rect x="205.40" y="168.9" width="1.4" height="19.0"/>
<rect x="206.30" y="187.9" width="1.4" height="4.4"/>
<rect x="207.20" y="191.7" width="1.4" height="0.8"/>
<rect x="208.10" y="191.1" width="1.4" height="0.8"/>
<rect x="209.00" y="160.0" width="1.4" height="31.1"/>
<rect x="209.90" y="160.0" width="1.4" height="4.5"/>
<rect x="210.80" y="164.5" width="1.4" height="37.2"/>
<rect x="211.70" y="162.1" width="1.4" height="39.6"/>
<rect x="212.60" y="136.9" width="1.4" height="25.3"/>
<rect x="213.50" y="136.9" width="1.4" height="46.4"/>
<rect x="214.40" y="179.7" width="1.4" height="3.5"/>
<rect x="215.30" y="178.2" width="1.4" height="1.5"/>
<rect x="216.20" y="149.8" width="1.4" height="28.4"/>
<rect x="217.10" y="149.8" width="1.4" height="8.8"/>
<rect x="218.00" y="158.6" width="1.4" height="19.0"/>
<rect x="203.15" y="182.4" width="1.4" height="12.9"/>
<rect x="204.05" y="182.4" width="1.4" height="18.0"/>
<rect x="204.95" y="200.4" width="1.4" height="10.1"/>
<rect x="205.85" y="209.3" width="1.4" height="1.2"/>
<rect x="206.75" y="177.2" width="1.4" height="32.1"/>
<rect x="207.65" y="177.2" width="1.4" height="19.6"/>
<rect x="208.55" y="160.0" width="1.4" height="36.9"/>
<rect x="209.45" y="160.0" width="1.4" height="31.2"/>
<rect x="210.35" y="191.1" width="1.4" height="1.0"/>
<rect x="211.25" y="192.1" width="1.4" height="18.7"/>
<rect x="212.15" y="155.1" width="1.4" height="55.7"/>
<rect x="213.05" y="155.1" width="1.4" height="32.4"/>
<rect x="213.95" y="154.2" width="1.4" height="33.3"/>
<rect x="214.85" y="154.2" width="1.4" height="26.1"/>
<rect x="215.75" y="180.2" width="1.4" height="18.6"/>
<rect x="216.65" y="141.8" width="1.4" height="57.0"/>
<rect x="217.55" y="141.8" width="1.4" height="50.0"/>
<rect x="218.45" y="191.8" width="1.4" height="12.2"/>
<rect x="225.50" y="179.2" width="1.4" height="3.5"/>
<rect x="226.40" y="100.9" width="1.4" height="81.8"/>
<rect x="227.30" y="98.9" width="1.4" height="2.0"/>
<rect x="228.20" y="98.9" width="1.4" height="110.7"/>
<rect x="229.10" y="100.8" width="1.4" height="108.9"/>
<rect x="230.00" y="100.8" width="1.4" height="77.4"/>
<rect x="230.90" y="154.4" width="1.4" height="23.8"/>
<rect x="231.80" y="154.4" width="1.4" height="57.3"/>
<rect x="232.70" y="209.9" width="1.4" height="1.8"/>
<rect x="233.60" y="207.1" width="1.4" height="2.8"/>
<rect x="234.50" y="162.9" width="1.4" height="44.2"/>
<rect x="235.40" y="161.4" width="1.4" height="1.5"/>
<rect x="236.30" y="105.5" width="1.4" height="55.9"/>
<rect x="237.20" y="105.5" width="1.4" height="64.2"/>
<rect x="238.10" y="169.7" width="1.4" height="40.3"/>
<rect x="239.00" y="187.8" width="1.4" height="22.2"/>
<rect x="225.73" y="170.5" width="1.4" height="1.0"/>
<rect x="226.63" y="111.5" width="1.4" height="60.1"/>
<rect x="227.53" y="111.5" width="1.4" height="54.0"/>
<rect x="228.43" y="117.7" width="1.4" height="47.8"/>
<rect x="229.33" y="117.7" width="1.4" height="66.4"/>
<rect x="230.23" y="156.5" width="1.4" height="27.5"/>
<rect x="231.13" y="156.5" width="1.4" height="23.4"/>
<rect x="232.03" y="179.9" width="1.4" height="30.6"/>
<rect x="232.93" y="159.1" width="1.4" height="51.4"/>
<rect x="233.83" y="150.1" width="1.4" height="9.0"/>
<rect x="234.73" y="124.5" width="1.4" height="25.5"/>
<rect x="235.63" y="117.4" width="1.4" height="7.2"/>
<rect x="236.53" y="117.4" width="1.4" height="2.8"/>
<rect x="237.43" y="120.2" width="1.4" height="46.9"/>
<rect x="238.33" y="167.1" width="1.4" height="9.4"/>
<rect x="239.23" y="176.5" width="1.4" height="29.2"/>
<rect x="225.95" y="166.9" width="1.4" height="24.6"/>
<rect x="226.85" y="143.5" width="1.4" height="23.4"/>
<rect x="227.75" y="143.5" width="1.4" height="66.4"/>
<rect x="228.65" y="130.3" width="1.4" height="79.7"/>
<rect x="229.55" y="130.3" width="1.4" height="31.8"/>
<rect x="230.45" y="162.1" width="1.4" height="45.4"/>
<rect x="231.35" y="142.6" width="1.4" height="64.9"/>
<rect x="232.25" y="142.6" width="1.4" height="16.5"/>
<rect x="233.15" y="159.1" width="1.4" height="10.6"/>
<rect x="234.05" y="157.1" width="1.4" height="12.5"/>
<rect x="234.95" y="126.0" width="1.4" height="31.2"/>
<rect x="235.85" y="102.2" width="1.4" height="23.8"/>
<rect x="236.75" y="102.2" width="1.4" height="10.9"/>
<rect x="237.65" y="113.1" width="1.4" height="72.1"/>
<rect x="238.55" y="185.2" width="1.4" height="14.8"/>
<rect x="239.45" y="189.2" width="1.4" height="10.8"/>
<rect x="226.18" y="163.5" width="1.4" height="14.0"/>
<rect x="227.08" y="161.4" width="1.4" height="2.1"/>
<rect x="227.98" y="151.8" width="1.4" height="9.6"/>
<rect x="228.88" y="115.3" width="1.4" height="36.5"/>
<rect x="229.78" y="115.3" width="1.4" height="32.5"/>
<rect x="230.68" y="147.8" width="1.4" height="5.3"/>
<rect x="231.58" y="153.1" width="1.4" height="37.9"/>
<rect x="232.48" y="168.6" width="1.4" height="22.4"/>
<rect x="233.38" y="134.5" width="1.4" height="34.2"/>
<rect x="234.28" y="124.0" width="1.4" height="10.4"/>
<rect x="235.18" y="124.0" width="1.4" height="84.8"/>
<rect x="236.08" y="166.3" width="1.4" height="42.5"/>
<rect x="236.98" y="164.4" width="1.4" height="1.9"/>
<rect x="237.88" y="145.8" width="1.4" height="18.7"/>
<rect x="238.78" y="145.8" width="1.4" height="2.0"/>
<rect x="239.68" y="147.8" width="1.4" height="25.0"/>
<rect x="246.50" y="154.6" width="1.4" height="26.2"/>
<rect x="247.40" y="148.8" width="1.4" height="5.8"/>
<rect x="248.30" y="148.8" width="1.4" height="8.4"/>
<rect x="249.20" y="157.3" width="1.4" height="2.7"/>
<rect x="250.10" y="117.4" width="1.4" height="42.6"/>
<rect x="251.00" y="117.4" width="1.4" height="47.9"/>
<rect x="251.90" y="117.1" width="1.4" height="48.2"/>
<rect x="252.80" y="103.2" width="1.4" height="13.8"/>
<rect x="253.70" y="103.2" width="1.4" height="11.0"/>
<rect x="254.60" y="114.3" width="1.4" height="18.9"/>
<rect x="255.50" y="84.1" width="1.4" height="49.0"/>
<rect x="256.40" y="84.1" width="1.4" height="97.2"/>
<rect x="257.30" y="140.6" width="1.4" height="40.7"/>
<rect x="258.20" y="136.0" width="1.4" height="4.6"/>
<rect x="259.10" y="136.0" width="1.4" height="49.5"/>
<rect x="246.73" y="155.1" width="1.4" height="20.4"/>
<rect x="247.63" y="121.3" width="1.4" height="33.8"/>
<rect x="248.53" y="121.3" width="1.4" height="45.6"/>
<rect x="249.43" y="165.0" width="1.4" height="1.9"/>
<rect x="250.33" y="161.1" width="1.4" height="3.9"/>
<rect x="251.23" y="112.1" width="1.4" height="49.1"/>
<rect x="252.13" y="112.1" width="1.4" height="31.2"/>
<rect x="253.03" y="102.4" width="1.4" height="40.9"/>
<rect x="253.93" y="102.4" width="1.4" height="28.4"/>
<rect x="254.83" y="130.8" width="1.4" height="33.4"/>
<rect x="255.73" y="128.3" width="1.4" height="35.9"/>
<rect x="256.63" y="128.3" width="1.4" height="10.6"/>
<rect x="257.53" y="138.7" width="1.4" height="0.8"/>
<rect x="258.43" y="138.7" width="1.4" height="56.5"/>
<rect x="259.32" y="162.6" width="1.4" height="32.7"/>
<rect x="246.95" y="155.0" width="1.4" height="36.4"/>
<rect x="247.85" y="129.0" width="1.4" height="26.0"/>
<rect x="248.75" y="129.0" width="1.4" height="34.4"/>
<rect x="249.65" y="163.4" width="1.4" height="20.2"/>
<rect x="250.55" y="183.6" width="1.4" height="0.8"/>
<rect x="251.45" y="110.1" width="1.4" height="74.3"/>
<rect x="252.35" y="102.3" width="1.4" height="7.8"/>
<rect x="253.25" y="94.7" width="1.4" height="7.6"/>
<rect x="254.15" y="94.7" width="1.4" height="94.0"/>
<rect x="255.05" y="144.9" width="1.4" height="43.8"/>
<rect x="255.95" y="144.9" width="1.4" height="23.8"/>
<rect x="256.85" y="158.5" width="1.4" height="10.2"/>
<rect x="257.75" y="149.7" width="1.4" height="8.7"/>
<rect x="258.65" y="149.7" width="1.4" height="10.3"/>
<rect x="259.55" y="159.4" width="1.4" height="0.8"/>
<rect x="247.18" y="144.6" width="1.4" height="56.7"/>
<rect x="248.08" y="144.6" width="1.4" height="5.9"/>
<rect x="248.98" y="94.9" width="1.4" height="55.6"/>
<rect x="249.88" y="94.9" width="1.4" height="45.6"/>
<rect x="250.78" y="130.3" width="1.4" height="10.2"/>
<rect x="251.68" y="110.2" width="1.4" height="20.2"/>
<rect x="252.58" y="110.2" width="1.4" height="100.4"/>
<rect x="253.48" y="156.7" width="1.4" height="53.9"/>
<rect x="254.38" y="88.5" width="1.4" height="68.1"/>
<rect x="255.28" y="88.5" width="1.4" height="1.2"/>
<rect x="256.18" y="89.7" width="1.4" height="20.2"/>
<rect x="257.08" y="109.9" width="1.4" height="59.1"/>
<rect x="257.98" y="168.9" width="1.4" height="41.1"/>
<rect x="258.88" y="174.4" width="1.4" height="35.6"/>
<rect x="259.77" y="174.4" width="1.4" height="35.1"/>
<rect x="266.50" y="184.0" width="1.4" height="8.1"/>
<rect x="267.40" y="135.6" width="1.4" height="48.3"/>
<rect x="268.30" y="135.6" width="1.4" height="72.2"/>
<rect x="269.20" y="107.9" width="1.4" height="99.9"/>
<rect x="270.10" y="107.9" width="1.4" height="68.4"/>
<rect x="271.00" y="156.2" width="1.4" height="20.1"/>
<rect x="271.90" y="106.0" width="1.4" height="50.2"/>
<rect x="272.80" y="106.0" width="1.4" height="23.9"/>
<rect x="273.70" y="129.9" width="1.4" height="2.5"/>
<rect x="274.60" y="127.4" width="1.4" height="5.0"/>
<rect x="275.50" y="127.4" width="1.4" height="51.6"/>
<rect x="276.40" y="143.3" width="1.4" height="35.7"/>
<rect x="277.30" y="143.3" width="1.4" height="35.9"/>
<rect x="278.20" y="179.2" width="1.4" height="16.0"/>
<rect x="266.73" y="165.0" width="1.4" height="19.7"/>
<rect x="267.62" y="184.7" width="1.4" height="22.3"/>
<rect x="268.52" y="166.2" width="1.4" height="40.8"/>
<rect x="269.42" y="166.2" width="1.4" height="4.0"/>
<rect x="270.32" y="168.5" width="1.4" height="1.6"/>
<rect x="271.22" y="112.3" width="1.4" height="56.2"/>
<rect x="272.12" y="104.0" width="1.4" height="8.4"/>
<rect x="273.02" y="104.0" width="1.4" height="71.8"/>
<rect x="273.92" y="164.1" width="1.4" height="11.6"/>
<rect x="274.82" y="129.5" width="1.4" height="34.6"/>
<rect x="275.72" y="129.5" width="1.4" height="49.1"/>
<rect x="276.62" y="135.6" width="1.4" height="43.0"/>
<rect x="277.52" y="135.6" width="1.4" height="20.3"/>
<rect x="278.42" y="155.9" width="1.4" height="46.9"/>
<rect x="266.95" y="147.6" width="1.4" height="37.4"/>
<rect x="267.85" y="147.6" width="1.4" height="64.2"/>
<rect x="268.75" y="186.8" width="1.4" height="25.0"/>
<rect x="269.65" y="130.6" width="1.4" height="56.2"/>
<rect x="270.55" y="129.9" width="1.4" height="0.8"/>
<rect x="271.45" y="99.0" width="1.4" height="30.9"/>
<rect x="272.35" y="99.0" width="1.4" height="63.7"/>
<rect x="273.25" y="150.5" width="1.4" height="12.2"/>
<rect x="274.15" y="150.5" width="1.4" height="12.1"/>
<rect x="275.05" y="152.6" width="1.4" height="10.1"/>
<rect x="275.95" y="152.6" width="1.4" height="9.8"/>
<rect x="276.85" y="147.7" width="1.4" height="14.7"/>
<rect x="277.75" y="147.7" width="1.4" height="11.4"/>
<rect x="278.65" y="159.1" width="1.4" height="51.3"/>
<rect x="267.18" y="143.9" width="1.4" height="26.4"/>
<rect x="268.07" y="161.7" width="1.4" height="8.7"/>
<rect x="268.97" y="148.7" width="1.4" height="13.0"/>
<rect x="269.87" y="148.7" width="1.4" height="11.1"/>
<rect x="270.77" y="98.0" width="1.4" height="61.8"/>
<rect x="271.67" y="98.0" width="1.4" height="91.4"/>
<rect x="272.57" y="179.2" width="1.4" height="10.1"/>
<rect x="273.47" y="160.7" width="1.4" height="18.6"/>
<rect x="274.37" y="160.7" width="1.4" height="50.8"/>
<rect x="275.27" y="149.9" width="1.4" height="61.6"/>
<rect x="276.17" y="149.9" width="1.4" height="38.9"/>
<rect x="277.07" y="188.8" width="1.4" height="22.8"/>
<rect x="277.97" y="208.6" width="1.4" height="2.9"/>
<rect x="278.87" y="161.8" width="1.4" height="46.8"/>
<rect x="285.70" y="155.9" width="1.4" height="54.1"/>
<rect x="286.60" y="155.9" width="1.4" height="12.3"/>
<rect x="287.50" y="152.6" width="1.4" height="15.5"/>
<rect x="288.40" y="152.6" width="1.4" height="11.7"/>
<rect x="289.30" y="104.8" width="1.4" height="59.6"/>
<rect x="290.20" y="104.8" width="1.4" height="57.2"/>
<rect x="291.10" y="133.7" width="1.4" height="28.3"/>
<rect x="292.00" y="133.7" width="1.4" height="32.4"/>
<rect x="292.90" y="138.9" width="1.4" height="27.1"/>
<rect x="293.80" y="138.9" width="1.4" height="26.3"/>
<rect x="294.70" y="132.5" width="1.4" height="32.7"/>
<rect x="295.60" y="124.7" width="1.4" height="7.8"/>
<rect x="296.50" y="124.7" width="1.4" height="22.7"/>
<rect x="297.40" y="104.9" width="1.4" height="42.6"/>
<rect x="285.93" y="177.4" width="1.4" height="26.8"/>
<rect x="286.82" y="165.7" width="1.4" height="11.7"/>
<rect x="287.72" y="106.4" width="1.4" height="59.3"/>
<rect x="288.62" y="106.4" width="1.4" height="60.4"/>
<rect x="289.52" y="115.3" width="1.4" height="51.5"/>
<rect x="290.42" y="115.3" width="1.4" height="94.4"/>
<rect x="291.32" y="157.9" width="1.4" height="51.8"/>
<rect x="292.22" y="157.9" width="1.4" height="18.2"/>
<rect x="293.12" y="150.7" width="1.4" height="25.4"/>
<rect x="294.02" y="150.7" width="1.4" height="60.1"/>
<rect x="294.92" y="88.5" width="1.4" height="122.3"/>
<rect x="295.82" y="88.5" width="1.4" height="82.0"/>
<rect x="296.72" y="170.5" width="1.4" height="1.0"/>
<rect x="297.62" y="171.5" width="1.4" height="38.7"/>
<rect x="286.15" y="130.9" width="1.4" height="49.4"/>
<rect x="287.05" y="124.7" width="1.4" height="6.2"/>
<rect x="287.95" y="124.7" width="1.4" height="64.8"/>
<rect x="288.85" y="142.5" width="1.4" height="47.0"/>
<rect x="289.75" y="101.2" width="1.4" height="41.3"/>
<rect x="290.65" y="101.2" width="1.4" height="40.2"/>
<rect x="291.55" y="120.3" width="1.4" height="21.1"/>
<rect x="292.45" y="100.4" width="1.4" height="19.9"/>
<rect x="293.35" y="100.4" width="1.4" height="74.0"/>
<rect x="294.25" y="129.6" width="1.4" height="44.8"/>
<rect x="295.15" y="125.0" width="1.4" height="4.6"/>
<rect x="296.05" y="107.5" width="1.4" height="17.5"/>
<rect x="296.95" y="107.5" width="1.4" height="39.1"/>
<rect x="286.38" y="170.4" width="1.4" height="8.8"/>
<rect x="287.27" y="173.9" width="1.4" height="5.3"/>
<rect x="288.17" y="161.5" width="1.4" height="12.4"/>
<rect x="289.07" y="139.2" width="1.4" height="22.3"/>
<rect x="289.97" y="122.7" width="1.4" height="16.5"/>
<rect x="290.87" y="122.7" width="1.4" height="49.5"/>
<rect x="291.77" y="172.2" width="1.4" height="39.0"/>
<rect x="292.67" y="121.1" width="1.4" height="90.1"/>
<rect x="293.57" y="92.0" width="1.4" height="29.1"/>
<rect x="294.47" y="92.0" width="1.4" height="47.5"/>
<rect x="295.37" y="132.9" width="1.4" height="6.6"/>
<rect x="296.27" y="81.7" width="1.4" height="51.2"/>
<rect x="297.17" y="81.7" width="1.4" height="44.7"/>
<rect x="49.30" y="116.0" width="2" height="59.0" fill-opacity="0.28"/>
<rect x="49.50" y="116.0" width="1.6" height="1.3" fill-opacity="0.35"/>
<rect x="67.70" y="142.0" width="2" height="33.0" fill-opacity="0.5"/>
<rect x="67.90" y="142.0" width="1.6" height="1.3" fill-opacity="0.35"/>
<rect x="83.00" y="135.7" width="2" height="39.3" fill-opacity="0.5"/>
<rect x="83.20" y="135.7" width="1.6" height="1.3" fill-opacity="0.35"/>
<rect x="103.40" y="121.9" width="2" height="53.1" fill-opacity="0.5"/>
<rect x="103.60" y="121.9" width="1.6" height="1.3" fill-opacity="0.35"/>
<rect x="105.10" y="123.3" width="2" height="51.7" fill-opacity="0.5"/>
<rect x="105.30" y="123.3" width="1.6" height="1.3" fill-opacity="0.35"/>
<rect x="108.00" y="78.3" width="2" height="96.7" fill-opacity="0.28"/>
<rect x="108.20" y="78.3" width="1.6" height="1.3" fill-opacity="0.35"/>
<rect x="110.10" y="88.4" width="2" height="86.6" fill-opacity="0.28"/>
<rect x="110.30" y="88.4" width="1.6" height="1.3" fill-opacity="0.35"/>
<rect x="118.80" y="84.1" width="2" height="90.9" fill-opacity="0.28"/>
<rect x="119.00" y="84.1" width="1.6" height="1.3" fill-opacity="0.35"/>
<rect x="119.70" y="65.2" width="2" height="109.8" fill-opacity="0.28"/>
<rect x="119.90" y="65.2" width="1.6" height="1.3" fill-opacity="0.35"/>
<rect x="120.80" y="84.1" width="2" height="90.9" fill-opacity="0.28"/>
<rect x="121.00" y="84.1" width="1.6" height="1.3" fill-opacity="0.35"/>
<rect x="142.10" y="94.2" width="2" height="80.8" fill-opacity="0.28"/>
<rect x="142.30" y="94.2" width="1.6" height="1.3" fill-opacity="0.35"/>
<rect x="144.40" y="59.4" width="2" height="115.6" fill-opacity="0.28"/>
<rect x="144.60" y="59.4" width="1.6" height="1.3" fill-opacity="0.35"/>
<rect x="144.80" y="69.5" width="2" height="105.5" fill-opacity="0.5"/>
<rect x="145.00" y="69.5" width="1.6" height="1.3" fill-opacity="0.35"/>
<rect x="145.80" y="80.6" width="2" height="94.4" fill-opacity="0.5"/>
<rect x="146.00" y="80.6" width="1.6" height="1.3" fill-opacity="0.35"/>
<rect x="147.90" y="88.4" width="2" height="86.6" fill-opacity="0.28"/>
<rect x="148.10" y="88.4" width="1.6" height="1.3" fill-opacity="0.35"/>
<rect x="163.20" y="132.0" width="2" height="43.0" fill-opacity="0.5"/>
<rect x="163.40" y="132.0" width="1.6" height="1.3" fill-opacity="0.35"/>
<rect x="185.90" y="71.0" width="2" height="104.0" fill-opacity="0.28"/>
<rect x="186.10" y="71.0" width="1.6" height="1.3" fill-opacity="0.35"/>
<rect x="189.00" y="84.0" width="2" height="91.0" fill-opacity="0.28"/>
<rect x="189.20" y="84.0" width="1.6" height="1.3" fill-opacity="0.35"/>
<rect x="189.30" y="96.4" width="2" height="78.6" fill-opacity="0.5"/>
<rect x="189.50" y="96.4" width="1.6" height="1.3" fill-opacity="0.35"/>
<rect x="226.10" y="81.0" width="2" height="94.0" fill-opacity="0.5"/>
<rect x="226.30" y="81.0" width="1.6" height="1.3" fill-opacity="0.35"/>
<rect x="229.00" y="105.7" width="2" height="69.3" fill-opacity="0.5"/>
<rect x="229.20" y="105.7" width="1.6" height="1.3" fill-opacity="0.35"/>
<rect x="232.00" y="108.8" width="2" height="66.2" fill-opacity="0.5"/>
<rect x="232.20" y="108.8" width="1.6" height="1.3" fill-opacity="0.35"/>
<rect x="234.90" y="90.2" width="2" height="84.8" fill-opacity="0.28"/>
<rect x="235.10" y="90.2" width="1.6" height="1.3" fill-opacity="0.35"/>
<rect x="248.50" y="77.8" width="2" height="97.2" fill-opacity="0.28"/>
<rect x="248.70" y="77.8" width="1.6" height="1.3" fill-opacity="0.35"/>
<rect x="250.50" y="88.0" width="2" height="87.0" fill-opacity="0.5"/>
<rect x="250.70" y="88.0" width="1.6" height="1.3" fill-opacity="0.35"/>
<rect x="253.00" y="95.0" width="2" height="80.0" fill-opacity="0.5"/>
<rect x="253.20" y="95.0" width="1.6" height="1.3" fill-opacity="0.35"/>
<rect x="255.50" y="72.3" width="2" height="102.7" fill-opacity="0.28"/>
<rect x="255.70" y="72.3" width="1.6" height="1.3" fill-opacity="0.35"/>
<rect x="257.50" y="100.0" width="2" height="75.0" fill-opacity="0.5"/>
<rect x="257.70" y="100.0" width="1.6" height="1.3" fill-opacity="0.35"/>
<rect x="271.00" y="68.0" width="2" height="107.0" fill-opacity="0.28"/>
<rect x="271.20" y="68.0" width="1.6" height="1.3" fill-opacity="0.35"/>
<rect x="278.70" y="87.1" width="2" height="87.9" fill-opacity="0.5"/>
<rect x="278.90" y="87.1" width="1.6" height="1.3" fill-opacity="0.35"/>
<rect x="289.60" y="96.4" width="2" height="78.6" fill-opacity="0.5"/>
<rect x="289.80" y="96.4" width="1.6" height="1.3" fill-opacity="0.35"/>
<rect x="292.70" y="60.8" width="2" height="114.2" fill-opacity="0.28"/>
<rect x="292.90" y="60.8" width="1.6" height="1.3" fill-opacity="0.35"/>
<rect x="295.80" y="58.7" width="2" height="116.3" fill-opacity="0.28"/>
<rect x="296.00" y="58.7" width="1.6" height="1.3" fill-opacity="0.35"/>
</g>
<path d="M431.3 174.6L566.2 127.1M566.2 127.1L672.9 186.8M431.3 142.6L566.2 95.1M566.2 95.1L672.9 154.8M431.3 110.6L566.2 63.1M566.2 63.1L672.9 122.8M431.3 78.6L566.2 31.1M566.2 31.1L672.9 90.8M431.3 46.6L566.2 -0.9M566.2 -0.9L672.9 58.8M476.3 158.8L476.3 30.8M521.2 142.9L521.2 14.9M566.2 127.1L566.2 -0.9M672.9 186.8L672.9 58.8M619.5 157.0L619.5 29.0M484.6 204.5L619.5 157.0M583.0 218.5L476.3 158.8M627.9 202.6L521.2 142.9" stroke="#e6e6e6" stroke-width="0.8" fill="none"/>
<g fill="#fff" stroke-width="0.4" stroke-linejoin="round"><path d="M564.5 85.2l1.7 1.5l2.2 -0.4l-1.7 -0.6zM552.5 88.5l1.7 2.8l2.1 1.3l-1.7 -1.7zM549.1 102.0l1.7 -15.5l2.1 2.6l-1.7 9.9zM531.9 97.4l1.7 2.7l2.0 4.7l-1.7 -3.3zM471.9 132.3l1.7 -15.7l1.6 0.1l-1.7 13.8z" stroke="#62b9e6"/>
<path d="M562.8 72.7l1.7 12.4l2.2 0.5l-1.7 -13.8zM561.1 92.7l1.7 -20.0l2.2 -0.8l-1.7 21.9zM482.2 101.5l1.7 10.6l1.6 -2.6l-1.7 -1.0zM477.1 111.9l1.7 -8.1l1.6 3.5l-1.7 4.0z" stroke="#76cdc2"/>
<path d="M559.3 71.9l1.7 20.8l2.1 1.1l-1.7 -0.6zM557.6 94.9l1.7 -23.0l2.1 21.4l-1.7 4.3z" stroke="#6fc9ce"/>
<path d="M555.9 83.6l1.7 11.3l2.1 2.7l-1.7 -10.4zM554.2 91.4l1.7 -7.8l2.1 3.6l-1.7 5.5zM550.8 86.5l1.7 2.0l2.1 2.5l-1.7 -1.9zM483.9 112.1l1.7 12.7l1.7 -2.4l-1.7 -12.9z" stroke="#64c1e4"/>
<path d="M547.3 94.3l1.7 7.7l2.1 -3.0l-1.7 -1.7zM545.6 100.4l1.7 -6.2l2.1 3.1l-1.7 4.0zM530.2 106.7l1.7 -9.3l2.0 4.1l-1.7 5.0zM519.9 103.5l1.7 4.7l1.9 9.2l-1.7 -10.8zM499.4 109.1l1.7 6.5l1.8 5.0l-1.7 -4.5zM497.6 125.8l1.7 -16.8l1.7 7.0l-1.7 11.2z" stroke="#61b1e8"/>
<path d="M543.9 97.3l1.7 3.1l2.0 0.9l-1.7 -3.2zM542.2 107.7l1.7 -10.4l2.0 0.9l-1.7 6.6zM533.6 100.1l1.7 3.8l2.0 1.2l-1.7 -0.3zM518.2 117.5l1.7 -13.9l1.9 3.0l-1.7 15.8zM495.9 111.8l1.7 14.0l1.7 1.5l-1.7 -7.8zM494.2 121.9l1.7 -10.1l1.7 7.8l-1.7 3.8zM492.5 118.8l1.7 3.1l1.7 1.5l-1.7 -5.7zM490.8 117.5l1.7 1.2l1.7 -1.1l-1.7 -0.4zM489.1 117.0l1.7 0.5l1.7 -0.3l-1.7 3.7zM487.4 120.2l1.7 -3.2l1.7 3.9l-1.7 -0.4zM485.6 124.8l1.7 -4.5l1.7 0.3l-1.7 1.9z" stroke="#60a8ea"/>
<path d="M540.5 113.4l1.7 -5.7l2.0 -3.0l-1.7 5.8zM538.8 106.1l1.7 7.3l2.0 -2.8l-1.7 -2.6zM526.8 109.9l1.7 1.9l1.9 0.2l-1.7 6.3zM525.1 117.4l1.7 -7.5l1.9 8.5l-1.7 -2.2zM509.6 117.5l1.7 2.0l1.8 1.9l-1.7 -1.9zM504.5 116.9l1.7 6.7l1.8 -0.3l-1.7 -1.4zM502.8 121.9l1.7 -5.1l1.8 5.0l-1.7 7.8z" stroke="#6096eb"/>
<path d="M537.1 105.8l1.7 0.3l2.0 1.9l-1.7 -1.9zM535.3 103.9l1.7 1.9l2.0 0.3l-1.7 -1.0zM528.5 111.7l1.7 -5.0l1.9 -0.2l-1.7 5.5zM521.6 108.2l1.7 6.9l1.9 -0.9l-1.7 3.2zM513.1 110.4l1.7 7.5l1.8 3.5l-1.7 -6.1zM511.4 119.5l1.7 -9.1l1.8 4.9l-1.7 6.1zM501.1 115.6l1.7 6.4l1.8 7.8l-1.7 -9.1zM470.2 126.2l1.7 6.1l1.6 -1.8l-1.7 -3.2zM468.5 136.6l1.7 -10.4l1.6 1.0l-1.7 9.9z" stroke="#5f9feb"/>
<path d="M523.4 115.1l1.7 2.3l1.9 -1.2l-1.7 -1.9zM516.5 117.4l1.7 0.1l1.9 4.9l-1.7 -0.3zM514.8 117.9l1.7 -0.5l1.9 4.7l-1.7 -0.7zM507.9 125.7l1.7 -8.2l1.8 2.0l-1.7 4.5zM506.2 123.6l1.7 2.1l1.8 -1.7l-1.7 -0.7z" stroke="#608deb"/>
<path d="M480.5 98.6l1.7 2.9l1.6 6.9l-1.7 -5.4zM478.8 103.8l1.7 -5.2l1.6 4.3l-1.7 4.3z" stroke="#7cd0b6"/>
<path d="M475.4 110.5l1.7 1.3l1.6 -0.7l-1.7 1.8zM473.6 116.6l1.7 -6.1l1.6 2.5l-1.7 3.6z" stroke="#69c6da"/>
<path d="M466.8 145.4l1.7 -8.8l1.5 0.6l-1.7 10.1z" stroke="#6284eb"/>
<path d="M465.1 149.4l1.7 -3.9l1.5 1.9l-1.7 2.4zM463.4 152.0l1.7 -2.6l1.5 0.3l-1.7 4.4z" stroke="#7171e7"/>
<path d="M461.7 154.1l1.7 -2.1l1.5 2.2l-1.7 2.1z" stroke="#736de5"/>
<path d="M566.7 85.7l1.7 0.6l2.2 1.1l-1.7 -2.9zM556.3 92.7l1.7 -5.5l2.1 1.4l-1.7 6.4zM485.6 109.4l1.7 12.9l1.7 -2.1l-1.7 -8.6z" stroke="#64c1e4"/>
<path d="M564.9 71.9l1.7 13.8l2.2 -1.2l-1.7 -4.0zM563.2 93.9l1.7 -21.9l2.2 8.6l-1.7 9.8zM482.1 103.0l1.7 5.4l1.6 2.5l-1.7 -3.3zM480.4 107.2l1.7 -4.3l1.6 4.6l-1.7 -0.1z" stroke="#76cdc2"/>
<path d="M561.5 93.3l1.7 0.6l2.1 -3.6l-1.7 2.5zM559.8 97.6l1.7 -4.3l2.1 -0.5l-1.7 10.0zM533.9 101.5l1.7 3.3l2.0 -0.2l-1.7 5.8zM532.2 106.5l1.7 -5.0l2.0 8.9l-1.7 -4.9zM492.5 117.2l1.7 0.4l1.7 3.7l-1.7 -3.9zM490.8 120.9l1.7 -3.7l1.7 0.2l-1.7 6.9z" stroke="#61b1e8"/>
<path d="M558.0 87.2l1.7 10.4l2.1 5.2l-1.7 -14.2zM551.1 99.0l1.7 -9.9l2.1 1.3l-1.7 9.7zM473.5 130.5l1.7 -13.8l1.6 2.4l-1.7 14.5z" stroke="#62b9e6"/>
<path d="M554.6 91.0l1.7 1.7l2.1 2.3l-1.7 -11.8zM552.9 89.2l1.7 1.9l2.1 -7.8l-1.7 7.2zM483.9 108.4l1.7 1.0l1.6 2.2l-1.7 -0.7zM477.0 113.1l1.7 -1.8l1.6 1.8l-1.7 2.9zM475.2 116.7l1.7 -3.6l1.6 2.9l-1.7 3.2z" stroke="#69c6da"/>
<path d="M549.4 97.4l1.7 1.7l2.1 1.1l-1.7 -1.6zM547.7 101.3l1.7 -4.0l2.1 1.2l-1.7 2.4zM546.0 98.1l1.7 3.2l2.0 -0.4l-1.7 0.4zM544.2 104.8l1.7 -6.6l2.0 3.2l-1.7 1.2zM535.6 104.8l1.7 0.3l2.0 6.4l-1.7 -6.9zM530.4 112.0l1.7 -5.5l1.9 -1.0l-1.7 10.3zM521.8 106.6l1.7 10.8l1.9 0.8l-1.7 -5.9zM520.1 122.3l1.7 -15.8l1.9 5.8l-1.7 2.7zM494.2 117.7l1.7 5.7l1.7 2.2l-1.7 -4.2zM489.0 120.5l1.7 0.4l1.7 3.4l-1.7 -0.6zM487.3 122.4l1.7 -1.9l1.7 3.2l-1.7 -3.5z" stroke="#60a8ea"/>
<path d="M542.5 110.6l1.7 -5.8l2.0 -2.2l-1.7 8.3zM539.1 106.1l1.7 1.9l2.0 0.0l-1.7 2.9zM537.3 105.1l1.7 1.0l2.0 4.9l-1.7 0.5zM514.9 115.3l1.7 6.1l1.8 0.7l-1.7 -7.5zM513.2 121.4l1.7 -6.1l1.8 -0.8l-1.7 7.9zM501.1 116.1l1.7 4.5l1.8 5.1l-1.7 -3.1zM499.4 127.3l1.7 -11.2l1.7 6.5l-1.7 3.2zM497.7 119.6l1.7 7.8l1.7 -1.5l-1.7 -5.9zM495.9 123.4l1.7 -3.8l1.7 0.4l-1.7 5.6zM471.8 127.3l1.7 3.2l1.6 3.1l-1.7 2.1zM470.1 137.2l1.7 -9.9l1.6 8.4l-1.7 4.0z" stroke="#5f9feb"/>
<path d="M540.8 108.0l1.7 2.6l2.0 0.3l-1.7 -2.8zM528.7 118.3l1.7 -6.3l1.9 3.8l-1.7 1.3zM518.4 122.0l1.7 0.3l1.9 -7.3l-1.7 10.9zM502.8 120.6l1.7 9.1l1.8 -4.5l-1.7 0.5z" stroke="#6096eb"/>
<path d="M527.0 116.1l1.7 2.2l1.9 -1.2l-1.7 5.6zM525.3 114.2l1.7 1.9l1.9 6.6l-1.7 -2.6zM523.5 117.4l1.7 -3.2l1.9 5.8l-1.7 -1.9zM511.5 119.5l1.7 1.9l1.8 1.1l-1.7 -0.2zM509.7 123.9l1.7 -4.5l1.8 2.8l-1.7 -0.9zM508.0 123.2l1.7 0.7l1.8 -2.5l-1.7 6.9zM506.3 121.9l1.7 1.4l1.8 5.1l-1.7 -3.1zM504.6 129.7l1.7 -7.8l1.8 3.4l-1.7 -0.0z" stroke="#608deb"/>
<path d="M516.6 121.4l1.7 0.7l1.9 3.9l-1.7 -3.9zM468.3 147.3l1.7 -10.1l1.5 2.5l-1.7 10.2z" stroke="#6284eb"/>
<path d="M478.7 111.2l1.7 -4.0l1.6 0.2l-1.7 5.6z" stroke="#6fc9ce"/>
<path d="M466.6 149.7l1.7 -2.4l1.5 2.6l-1.7 3.1z" stroke="#7171e7"/>
<path d="M464.9 154.2l1.7 -4.4l1.5 3.3l-1.7 3.9z" stroke="#736de5"/>
<path d="M463.2 156.2l1.7 -2.1l1.5 2.7l-1.7 2.3z" stroke="#7669e2"/>
<path d="M568.8 84.5l1.7 2.9l2.2 -1.8l-1.7 -21.4zM567.1 80.5l1.7 4.0l2.2 -20.4l-1.7 19.0z" stroke="#82d4aa"/>
<path d="M565.3 90.3l1.7 -9.8l2.2 2.7l-1.7 11.2zM556.7 83.2l1.7 11.8l2.1 1.0l-1.7 0.3zM554.9 90.5l1.7 -7.2l2.1 13.1l-1.7 -1.5zM485.5 110.9l1.7 0.7l1.6 3.3l-1.7 1.5zM478.5 115.9l1.7 -2.9l1.6 2.9l-1.7 3.6z" stroke="#69c6da"/>
<path d="M563.6 92.8l1.7 -2.5l2.1 4.1l-1.7 -4.2zM561.9 102.8l1.7 -10.0l2.1 -2.6l-1.7 6.9zM560.1 88.6l1.7 14.2l2.1 -5.7l-1.7 -8.3zM553.2 100.1l1.7 -9.7l2.1 4.4l-1.7 4.4z" stroke="#62b9e6"/>
<path d="M558.4 95.0l1.7 -6.4l2.1 0.2l-1.7 7.2zM487.2 111.6l1.7 8.6l1.7 3.8l-1.7 -9.1zM476.8 119.1l1.7 -3.2l1.6 3.6l-1.7 9.0z" stroke="#64c1e4"/>
<path d="M551.5 98.5l1.7 1.6l2.1 -0.9l-1.7 1.4zM548.0 101.3l1.7 -0.4l2.0 2.5l-1.7 -3.2zM546.3 102.6l1.7 -1.2l2.0 -1.0l-1.7 1.3zM475.1 133.5l1.7 -14.5l1.6 9.4l-1.7 3.5z" stroke="#61b1e8"/>
<path d="M549.7 101.0l1.7 -2.4l2.1 2.0l-1.7 2.9zM544.5 110.9l1.7 -8.3l2.0 -0.9l-1.7 9.8zM537.6 104.6l1.7 6.9l2.0 -0.1l-1.7 -1.2zM535.8 110.4l1.7 -5.8l2.0 5.6l-1.7 0.9zM534.1 105.5l1.7 4.9l2.0 0.7l-1.7 0.4zM532.4 115.8l1.7 -10.3l1.9 6.0l-1.7 1.0zM494.2 117.4l1.7 3.9l1.7 6.9l-1.7 -5.6zM492.4 124.3l1.7 -6.9l1.7 5.2l-1.7 5.6zM489.0 120.2l1.7 3.5l1.7 1.2l-1.7 -0.9z" stroke="#60a8ea"/>
<path d="M542.8 108.0l1.7 2.8l2.0 0.6l-1.7 -0.5zM530.6 117.1l1.7 -1.3l1.9 -3.2l-1.7 5.6zM520.2 125.9l1.7 -10.9l1.9 7.1l-1.7 3.5zM511.5 121.4l1.7 0.9l1.8 1.7l-1.7 -1.1zM502.9 122.6l1.7 3.1l1.8 -0.0l-1.7 -3.4zM501.1 125.8l1.7 -3.2l1.7 -0.4l-1.7 6.8zM471.6 139.7l1.7 -4.0l1.6 -2.3l-1.7 6.8z" stroke="#6096eb"/>
<path d="M541.0 111.0l1.7 -2.9l2.0 2.9l-1.7 -2.8zM539.3 111.5l1.7 -0.5l2.0 -2.9l-1.7 3.3zM523.7 112.3l1.7 5.9l1.9 3.3l-1.7 -3.8zM521.9 115.0l1.7 -2.7l1.9 5.4l-1.7 4.5zM516.7 114.6l1.7 7.5l1.8 2.1l-1.7 -4.8zM515.0 122.5l1.7 -7.9l1.8 4.9l-1.7 7.0zM499.4 120.0l1.7 5.9l1.7 3.2l-1.7 -5.9zM497.6 125.6l1.7 -5.6l1.7 3.2l-1.7 1.1zM495.9 121.4l1.7 4.2l1.7 -1.3l-1.7 3.9zM490.7 123.7l1.7 0.6l1.7 3.9l-1.7 -3.3zM473.3 135.6l1.7 -2.1l1.6 -1.6l-1.7 1.4z" stroke="#5f9feb"/>
<path d="M528.9 122.7l1.7 -5.6l1.9 1.1l-1.7 4.5zM525.4 118.2l1.7 1.9l1.9 4.0l-1.7 -2.6zM513.3 122.3l1.7 0.2l1.8 4.0l-1.7 -2.5zM509.8 128.3l1.7 -6.9l1.8 1.5l-1.7 2.7zM508.1 125.2l1.7 3.1l1.8 -2.8l-1.7 4.1zM506.3 125.2l1.7 0.0l1.8 4.4l-1.7 -1.6zM504.6 125.7l1.7 -0.5l1.8 2.8l-1.7 -2.4z" stroke="#608deb"/>
<path d="M527.2 120.1l1.7 2.6l1.9 -0.0l-1.7 1.4zM518.5 122.1l1.7 3.9l1.9 -0.3l-1.7 -1.4zM469.9 149.8l1.7 -10.2l1.5 0.5l-1.7 11.7z" stroke="#6284eb"/>
<path d="M483.8 107.5l1.7 3.3l1.6 5.5l-1.7 0.2zM482.0 107.4l1.7 0.1l1.6 9.1l-1.7 -0.4zM480.3 113.0l1.7 -5.6l1.6 8.7l-1.7 -0.3z" stroke="#6fc9ce"/>
<path d="M468.1 153.0l1.7 -3.1l1.5 2.0l-1.7 3.7z" stroke="#7171e7"/>
<path d="M466.4 156.9l1.7 -3.9l1.5 2.6l-1.7 4.6z" stroke="#736de5"/>
<path d="M464.7 159.2l1.7 -2.3l1.5 3.2l-1.7 2.5z" stroke="#7669e2"/>
<path d="M571.0 64.2l1.7 21.4l2.2 -0.3l-1.8 2.7zM569.2 83.2l1.7 -19.0l2.2 23.8l-1.8 -4.9z" stroke="#82d4aa"/>
<path d="M567.5 94.4l1.7 -11.2l2.2 -0.1l-1.8 11.5zM481.9 115.9l1.7 0.3l1.6 5.5l-1.8 -5.9zM480.1 119.5l1.7 -3.6l1.6 -0.2l-1.8 7.3z" stroke="#69c6da"/>
<path d="M565.7 90.2l1.7 4.2l2.1 0.1l-1.8 -1.1zM564.0 97.1l1.7 -6.9l2.1 3.2l-1.8 5.2zM558.8 96.3l1.7 -0.3l2.1 -0.9l-1.8 1.6zM557.0 94.8l1.7 1.5l2.1 0.3l-1.8 0.9zM488.9 114.9l1.7 9.1l1.7 -0.7l-1.8 -4.2zM478.4 128.5l1.7 -9.0l1.6 3.5l-1.8 7.8z" stroke="#62b9e6"/>
<path d="M562.3 88.8l1.7 8.3l2.1 1.5l-1.8 -8.3zM560.5 96.0l1.7 -7.2l2.1 1.4l-1.8 4.8zM487.1 116.4l1.7 -1.5l1.6 4.2l-1.8 3.7zM485.4 116.6l1.7 -0.2l1.6 6.4l-1.8 -4.1zM483.6 116.1l1.7 0.4l1.6 2.1l-1.8 3.0z" stroke="#64c1e4"/>
<path d="M555.3 99.2l1.7 -4.4l2.1 2.7l-1.8 5.4zM550.0 100.3l1.7 3.2l2.0 -1.6l-1.8 1.7zM548.3 101.7l1.7 -1.3l2.0 3.2l-1.8 4.0z" stroke="#61b1e8"/>
<path d="M553.5 100.6l1.7 -1.4l2.1 3.7l-1.8 -0.6zM551.8 103.5l1.7 -2.9l2.1 1.7l-1.8 -0.4zM546.5 111.5l1.7 -9.8l2.0 6.0l-1.8 2.7zM490.6 124.0l1.7 0.9l1.7 3.5l-1.8 -5.1zM476.6 132.0l1.7 -3.5l1.6 2.3l-1.8 2.4z" stroke="#60a8ea"/>
<path d="M544.8 110.9l1.7 0.5l2.0 -1.2l-1.8 4.6zM539.5 110.2l1.7 1.2l2.0 5.5l-1.8 -0.1zM532.6 118.2l1.7 -5.6l1.9 7.0l-1.8 3.2zM523.8 122.2l1.7 -4.5l1.9 5.3l-1.8 -0.5zM518.6 119.4l1.7 4.8l1.8 -1.7l-1.8 3.4zM516.8 126.5l1.7 -7.0l1.8 6.4l-1.8 -0.3zM513.3 122.9l1.7 1.1l1.8 2.7l-1.8 -4.9zM511.6 125.6l1.7 -2.7l1.8 -1.1l-1.8 3.1zM504.6 122.2l1.7 3.4l1.8 1.2l-1.8 0.0zM502.9 129.1l1.7 -6.8l1.7 4.6l-1.8 6.4zM501.1 123.2l1.7 5.9l1.7 4.2l-1.8 -6.3zM473.1 140.1l1.7 -6.8l1.6 3.8l-1.8 5.8z" stroke="#6096eb"/>
<path d="M543.0 108.1l1.7 2.8l2.0 4.0l-1.8 -3.2zM541.3 111.4l1.7 -3.3l2.0 3.6l-1.8 5.2zM537.8 111.1l1.7 -0.9l2.0 6.7l-1.8 -3.5zM536.0 111.5l1.7 -0.4l2.0 2.3l-1.8 -1.8zM534.3 112.6l1.7 -1.0l1.9 0.0l-1.8 8.0zM499.4 124.3l1.7 -1.1l1.7 3.8l-1.8 -1.3zM497.6 128.2l1.7 -3.9l1.7 1.3l-1.8 2.4zM495.9 122.7l1.7 5.6l1.7 -0.2l-1.8 -3.0zM494.1 128.2l1.7 -5.6l1.7 2.4l-1.8 5.3zM492.4 124.9l1.7 3.3l1.7 2.1l-1.8 -2.0zM474.9 133.3l1.7 -1.4l1.6 1.3l-1.8 3.9z" stroke="#5f9feb"/>
<path d="M530.8 122.7l1.7 -4.5l1.9 4.5l-1.8 4.7zM529.1 124.1l1.7 -1.4l1.9 4.7l-1.8 -3.3zM527.3 121.5l1.7 2.6l1.9 0.1l-1.8 -1.3zM508.1 128.0l1.7 1.6l1.8 0.1l-1.8 0.2zM471.4 151.9l1.7 -11.7l1.5 2.7l-1.8 11.7z" stroke="#6284eb"/>
<path d="M525.6 117.7l1.7 3.8l1.9 1.3l-1.8 0.1zM522.1 125.6l1.7 -3.5l1.9 0.3l-1.8 7.4zM520.3 124.2l1.7 1.4l1.9 4.2l-1.8 -7.4zM515.1 124.0l1.7 2.5l1.8 -0.9l-1.8 1.2zM509.8 129.7l1.7 -4.1l1.8 -0.6l-1.8 4.8zM506.3 125.7l1.7 2.4l1.8 1.9l-1.8 -3.1z" stroke="#608deb"/>
<path d="M469.7 155.5l1.7 -3.7l1.5 2.7l-1.8 4.5z" stroke="#7171e7"/>
<path d="M467.9 160.1l1.7 -4.6l1.5 3.6l-1.8 4.6z" stroke="#7669e2"/>
<path d="M466.2 162.7l1.7 -2.5l1.5 3.5l-1.8 2.4z" stroke="#7465df"/>
<path d="M573.2 88.0l1.8 -2.7l2.2 4.6l-1.8 -1.4zM562.6 95.0l1.8 -4.8l2.1 0.6l-1.8 7.1zM483.5 115.7l1.8 5.9l1.6 6.8l-1.8 -8.5zM481.7 123.0l1.8 -7.3l1.6 4.3l-1.8 10.8z" stroke="#64c1e4"/>
<path d="M571.4 83.0l1.8 4.9l2.2 0.5l-1.8 -5.6z" stroke="#6fc9ce"/>
<path d="M569.6 94.5l1.8 -11.5l2.2 -0.2l-1.8 12.9z" stroke="#69c6da"/>
<path d="M567.9 93.4l1.8 1.1l2.1 1.3l-1.8 -1.4zM560.8 96.6l1.8 -1.6l2.1 2.9l-1.8 3.3zM559.1 97.5l1.8 -0.9l2.1 4.6l-1.8 -3.3zM490.5 119.1l1.8 4.2l1.7 -0.7l-1.8 -3.4zM488.8 122.8l1.8 -3.7l1.6 0.1l-1.8 4.4zM487.0 118.7l1.8 4.1l1.6 0.8l-1.8 2.7zM485.2 121.7l1.8 -3.0l1.6 7.6l-1.8 2.2z" stroke="#62b9e6"/>
<path d="M566.1 98.6l1.8 -5.2l2.1 1.0l-1.8 -18.9zM564.4 90.2l1.8 8.3l2.1 -23.1l-1.8 15.3z" stroke="#76cdc2"/>
<path d="M557.3 102.9l1.8 -5.4l2.1 0.3l-1.8 4.7zM492.3 123.3l1.8 5.1l1.7 0.9l-1.8 -6.7zM480.0 130.8l1.8 -7.8l1.6 7.9l-1.8 7.1z" stroke="#61b1e8"/>
<path d="M555.6 102.3l1.8 0.6l2.1 -0.3l-1.8 0.6zM553.8 101.9l1.8 0.4l2.1 0.9l-1.8 2.6zM552.1 103.6l1.8 -1.7l2.0 4.0l-1.8 1.1zM550.3 107.6l1.8 -4.0l2.0 3.3l-1.8 -0.4z" stroke="#60a8ea"/>
<path d="M548.5 110.3l1.8 -2.7l2.0 -1.1l-1.8 5.7zM538.0 111.6l1.8 1.8l2.0 3.9l-1.8 -4.2zM536.2 119.5l1.8 -8.0l1.9 1.6l-1.8 7.3zM501.1 125.6l1.8 1.3l1.7 1.1l-1.8 3.2zM499.3 128.1l1.8 -2.4l1.7 5.7l-1.8 -1.2zM497.6 125.1l1.8 3.0l1.7 2.0l-1.8 -2.9zM495.8 130.4l1.8 -5.3l1.7 2.1l-1.8 2.6zM494.0 128.4l1.8 2.0l1.7 -0.6l-1.8 -0.5zM478.2 133.2l1.8 -2.4l1.6 7.1l-1.8 -4.0zM476.5 137.1l1.8 -3.9l1.6 0.8l-1.8 10.1z" stroke="#5f9feb"/>
<path d="M546.8 114.9l1.8 -4.6l2.0 2.0l-1.8 4.3zM545.0 111.7l1.8 3.2l2.0 1.7l-1.8 -2.6zM543.3 116.9l1.8 -5.2l2.0 2.2l-1.8 3.1zM539.7 113.4l1.8 3.5l2.0 -0.2l-1.8 0.7zM515.1 121.9l1.8 4.9l1.8 4.6l-1.8 -8.0zM513.4 125.0l1.8 -3.1l1.8 1.4l-1.8 5.2zM506.3 126.9l1.8 -0.0l1.8 0.7l-1.8 -2.0zM504.6 133.3l1.8 -6.4l1.7 -1.3l-1.8 10.1zM502.8 127.0l1.8 6.3l1.7 2.3l-1.8 -7.5z" stroke="#6096eb"/>
<path d="M541.5 116.8l1.8 0.1l2.0 0.2l-1.8 -0.4zM534.5 122.7l1.8 -3.2l1.9 1.0l-1.8 4.7zM525.7 122.5l1.8 0.5l1.9 2.6l-1.8 -3.9zM523.9 129.9l1.8 -7.4l1.9 -0.8l-1.8 7.9zM522.2 122.5l1.8 7.4l1.9 -0.3l-1.8 1.5zM520.4 125.9l1.8 -3.4l1.8 8.6l-1.8 -5.4zM518.7 125.6l1.8 0.3l1.8 -0.2l-1.8 4.9zM511.6 129.8l1.8 -4.8l1.8 3.5l-1.8 0.7zM509.9 129.9l1.8 -0.2l1.8 -0.6l-1.8 3.8zM508.1 126.8l1.8 3.1l1.8 3.0l-1.8 -5.4zM474.7 142.9l1.8 -5.8l1.6 7.0l-1.8 1.5z" stroke="#608deb"/>
<path d="M532.7 127.4l1.8 -4.7l1.9 2.5l-1.8 0.4zM531.0 124.1l1.8 3.3l1.9 -1.8l-1.8 0.7zM529.2 122.9l1.8 1.3l1.9 2.2l-1.8 -0.5zM527.4 123.0l1.8 -0.1l1.9 3.0l-1.8 -0.3zM516.9 126.7l1.8 -1.2l1.8 4.9l-1.8 0.8z" stroke="#6284eb"/>
<path d="M472.9 154.6l1.8 -11.7l1.5 2.7l-1.8 11.6z" stroke="#687dea"/>
<path d="M471.2 159.1l1.8 -4.5l1.5 2.6l-1.8 4.6z" stroke="#736de5"/>
<path d="M469.4 163.7l1.8 -4.6l1.5 2.7l-1.8 4.8z" stroke="#7669e2"/>
<path d="M467.7 166.1l1.8 -2.4l1.5 2.9l-1.8 2.5z" stroke="#7465df"/>
<path d="M575.3 88.4l1.8 1.4l2.2 -1.9l-1.8 -2.1z" stroke="#69c6da"/>
<path d="M573.5 82.9l1.8 5.6l2.2 -2.6l-1.8 1.8z" stroke="#6fc9ce"/>
<path d="M571.8 95.8l1.8 -12.9l2.2 4.7l-1.8 -23.3zM570.0 94.4l1.8 1.4l2.1 -31.5l-1.8 30.1z" stroke="#89d5a1"/>
<path d="M568.2 75.5l1.8 18.9l2.1 0.0l-1.8 4.8zM566.5 90.8l1.8 -15.3l2.1 23.7l-1.8 -5.2z" stroke="#76cdc2"/>
<path d="M564.7 97.9l1.8 -7.1l2.1 3.2l-1.8 4.2zM485.1 120.0l1.8 8.5l1.6 2.5l-1.8 -8.6zM483.3 130.9l1.8 -10.8l1.6 2.3l-1.8 7.7z" stroke="#64c1e4"/>
<path d="M562.9 101.2l1.8 -3.3l2.1 0.3l-1.8 1.5zM561.2 97.9l1.8 3.3l2.1 -1.4l-1.8 1.3zM559.4 102.6l1.8 -4.7l2.1 3.2l-1.8 0.3zM557.6 103.2l1.8 -0.6l2.1 -1.2l-1.8 6.0zM493.9 122.5l1.8 6.7l1.7 4.7l-1.8 -5.2zM488.6 126.3l1.8 -2.7l1.6 7.0l-1.8 1.5z" stroke="#61b1e8"/>
<path d="M555.9 105.9l1.8 -2.6l2.1 4.1l-1.8 -2.6zM554.1 106.9l1.8 -1.1l2.0 -1.1l-1.8 3.5zM552.3 106.5l1.8 0.4l2.0 1.3l-1.8 -0.9zM550.6 112.3l1.8 -5.7l2.0 0.8l-1.8 6.3zM486.9 128.5l1.8 -2.2l1.6 5.8l-1.8 -1.1zM481.6 137.9l1.8 -7.1l1.6 -0.8l-1.8 5.5z" stroke="#60a8ea"/>
<path d="M548.8 116.6l1.8 -4.3l2.0 1.3l-1.8 0.5zM547.0 113.9l1.8 2.6l2.0 -2.5l-1.8 1.7zM545.2 117.1l1.8 -3.1l2.0 1.9l-1.8 5.5zM543.5 116.7l1.8 0.4l2.0 4.3l-1.8 -4.8zM541.7 117.3l1.8 -0.7l2.0 -0.1l-1.8 1.6zM538.2 120.5l1.8 -7.3l1.9 4.3l-1.8 6.4zM516.9 123.3l1.8 8.0l1.8 1.2l-1.8 -8.8zM515.2 128.5l1.8 -5.2l1.8 0.5l-1.8 6.6zM508.1 125.5l1.8 2.0l1.8 1.7l-1.8 1.1zM506.3 135.6l1.8 -10.1l1.7 4.9l-1.8 6.8zM504.6 128.1l1.8 7.5l1.7 1.6l-1.8 -4.0z" stroke="#6096eb"/>
<path d="M539.9 113.2l1.8 4.2l2.0 0.8l-1.8 -0.6zM502.8 131.3l1.8 -3.2l1.7 5.1l-1.8 -5.7zM501.0 130.1l1.8 1.2l1.7 -3.8l-1.8 8.0zM499.2 127.2l1.8 2.9l1.7 5.4l-1.8 -5.5zM497.5 129.8l1.8 -2.6l1.7 2.8l-1.8 1.1zM495.7 129.3l1.8 0.5l1.7 1.3l-1.8 2.9zM479.8 134.0l1.8 4.0l1.6 -2.4l-1.8 -1.0zM478.0 144.1l1.8 -10.1l1.6 0.5l-1.8 10.0z" stroke="#5f9feb"/>
<path d="M536.4 125.3l1.8 -4.7l1.9 3.4l-1.8 1.0zM527.6 121.6l1.8 3.9l1.9 7.0l-1.8 -8.6zM525.8 129.5l1.8 -7.9l1.9 2.4l-1.8 7.5zM520.5 130.5l1.8 -4.9l1.8 4.2l-1.8 1.0zM513.4 129.2l1.8 -0.7l1.8 1.9l-1.8 3.3zM511.6 133.0l1.8 -3.8l1.8 4.4l-1.8 0.3zM509.9 127.6l1.8 5.4l1.8 1.0l-1.8 -4.7z" stroke="#608deb"/>
<path d="M534.6 125.7l1.8 -0.4l1.9 -0.4l-1.8 2.4zM531.1 125.9l1.8 0.5l1.9 2.6l-1.8 3.6zM529.3 125.6l1.8 0.3l1.9 6.7l-1.8 0.0zM522.2 125.6l1.8 5.4l1.8 0.8l-1.8 -2.0zM518.7 131.3l1.8 -0.8l1.8 0.3l-1.8 1.8zM476.2 145.6l1.8 -1.5l1.6 0.5l-1.8 2.8z" stroke="#6284eb"/>
<path d="M532.9 126.4l1.8 -0.7l1.9 1.6l-1.8 1.8zM524.0 131.0l1.8 -1.5l1.9 2.0l-1.8 0.3zM474.5 157.2l1.8 -11.6l1.5 1.8l-1.8 10.6z" stroke="#687dea"/>
<path d="M492.2 119.2l1.8 3.4l1.7 6.3l-1.8 -4.6zM490.4 123.6l1.8 -4.4l1.6 5.0l-1.8 6.4z" stroke="#62b9e6"/>
<path d="M472.7 161.8l1.8 -4.6l1.5 0.8l-1.8 5.7z" stroke="#736de5"/>
<path d="M470.9 166.6l1.8 -4.8l1.5 1.9l-1.8 5.0z" stroke="#7465df"/>
<path d="M469.2 169.0l1.8 -2.5l1.5 2.0l-1.8 2.4z" stroke="#7260dc"/>
<path d="M577.5 85.8l1.8 2.1l2.2 -0.5l-1.8 2.5zM575.7 87.6l1.8 -1.8l2.2 4.1l-1.8 -2.4z" stroke="#69c6da"/>
<path d="M573.9 64.3l1.8 23.3l2.2 -0.2l-1.8 11.2zM572.1 94.4l1.8 -30.1l2.1 34.3l-1.8 -2.6z" stroke="#89d5a1"/>
<path d="M570.4 99.2l1.8 -4.8l2.1 1.6l-1.8 4.2zM561.5 101.4l1.8 -0.3l2.1 -1.3l-1.8 3.3zM486.7 122.4l1.8 8.6l1.6 4.2l-1.8 -8.9zM484.9 130.1l1.8 -7.7l1.6 4.0l-1.8 9.8z" stroke="#62b9e6"/>
<path d="M568.6 94.0l1.8 5.2l2.1 1.0l-1.8 -6.4zM566.8 98.3l1.8 -4.2l2.1 -0.2l-1.8 6.0z" stroke="#64c1e4"/>
<path d="M565.0 99.8l1.8 -1.5l2.1 1.6l-1.8 -23.1zM563.2 101.1l1.8 -1.3l2.1 -23.1l-1.8 23.1z" stroke="#7cd0b6"/>
<path d="M559.7 107.3l1.8 -6.0l2.1 1.7l-1.8 4.0zM493.8 124.2l1.8 4.6l1.7 0.5l-1.8 -0.1zM492.0 130.6l1.8 -6.4l1.6 5.0l-1.8 2.9z" stroke="#61b1e8"/>
<path d="M557.9 104.7l1.8 2.6l2.1 -0.2l-1.8 0.0zM556.1 108.2l1.8 -3.5l2.0 2.4l-1.8 4.3zM554.3 107.3l1.8 0.9l2.0 3.2l-1.8 -1.8zM552.6 113.6l1.8 -6.3l2.0 2.3l-1.8 4.2zM495.6 128.8l1.8 5.2l1.7 0.8l-1.8 -5.4zM490.3 132.1l1.8 -1.5l1.6 1.5l-1.8 1.0zM488.5 131.0l1.8 1.1l1.6 1.0l-1.8 2.2zM483.1 135.6l1.8 -5.5l1.6 6.1l-1.8 6.7z" stroke="#60a8ea"/>
<path d="M550.8 114.1l1.8 -0.5l2.0 0.2l-1.8 5.0zM549.0 115.8l1.8 -1.7l2.0 4.7l-1.8 -2.9zM547.2 121.4l1.8 -5.5l2.0 0.1l-1.8 7.0zM543.7 118.1l1.8 -1.6l2.0 4.9l-1.8 0.5zM541.9 117.5l1.8 0.6l2.0 3.8l-1.8 -0.8zM540.1 123.9l1.8 -6.4l1.9 3.6l-1.8 2.5zM518.7 123.8l1.8 8.8l1.8 1.5l-1.8 -5.5zM517.0 130.3l1.8 -6.6l1.8 4.8l-1.8 1.4zM502.7 135.5l1.8 -8.0l1.7 5.4l-1.8 3.4zM500.9 130.0l1.8 5.5l1.7 0.9l-1.8 -3.7zM499.2 131.0l1.8 -1.1l1.7 2.7l-1.8 4.3zM497.4 133.9l1.8 -2.9l1.7 5.9l-1.8 -2.2z" stroke="#6096eb"/>
<path d="M545.4 116.5l1.8 4.8l2.0 1.6l-1.8 -1.5zM538.3 124.9l1.8 -1.0l1.9 -0.3l-1.8 1.7zM529.4 124.1l1.8 8.6l1.9 2.3l-1.8 -6.3zM527.6 131.5l1.8 -7.5l1.9 4.6l-1.8 6.8zM515.2 133.6l1.8 -3.3l1.8 -0.4l-1.8 7.2zM511.6 129.3l1.8 4.7l1.8 1.3l-1.8 -0.8zM509.8 130.4l1.8 -1.1l1.8 5.1l-1.8 0.4zM508.1 137.2l1.8 -6.8l1.7 4.3l-1.8 0.9zM506.3 133.2l1.8 4.0l1.7 -1.5l-1.8 -3.3z" stroke="#608deb"/>
<path d="M536.5 127.2l1.8 -2.4l1.9 0.5l-1.8 6.4zM524.1 129.8l1.8 2.0l1.8 4.5l-1.8 -5.9zM522.3 130.8l1.8 -1.0l1.8 0.6l-1.8 3.8zM520.5 132.6l1.8 -1.8l1.8 3.4l-1.8 -0.1zM513.4 133.9l1.8 -0.3l1.8 3.5l-1.8 -1.9zM477.8 147.4l1.8 -2.8l1.6 2.4l-1.8 4.1z" stroke="#6284eb"/>
<path d="M534.8 129.0l1.8 -1.8l1.9 4.6l-1.8 -0.6zM533.0 132.6l1.8 -3.6l1.9 2.2l-1.8 1.1zM525.9 131.8l1.8 -0.3l1.9 3.9l-1.8 0.9zM476.0 158.0l1.8 -10.6l1.5 3.7l-1.8 8.7z" stroke="#687dea"/>
<path d="M531.2 132.6l1.8 -0.0l1.9 -0.4l-1.8 2.7z" stroke="#6e76e8"/>
<path d="M504.5 127.5l1.8 5.7l1.7 -0.8l-1.8 0.6zM481.4 134.5l1.8 1.0l1.6 7.2l-1.8 -2.2zM479.6 144.6l1.8 -10.0l1.6 6.0l-1.8 6.4z" stroke="#5f9feb"/>
<path d="M474.2 163.6l1.8 -5.7l1.5 1.8l-1.8 5.2z" stroke="#736de5"/>
<path d="M472.5 168.6l1.8 -5.0l1.5 1.3l-1.8 5.1z" stroke="#7465df"/>
<path d="M470.7 171.0l1.8 -2.4l1.5 1.4l-1.8 2.4z" stroke="#7260dc"/>
<path d="M579.7 89.9l1.8 -2.5l2.2 -69.8l-1.8 73.9z" stroke="#e4c74c"/>
<path d="M577.9 87.4l1.8 2.4l2.2 1.7l-1.8 -0.8zM576.1 98.6l1.8 -11.2l2.2 3.2l-1.8 5.3z" stroke="#69c6da"/>
<path d="M574.3 96.0l1.8 2.6l2.1 -2.6l-1.8 0.0zM572.5 100.2l1.8 -4.2l2.1 -0.0l-1.8 4.5zM563.5 103.1l1.8 -3.3l2.1 4.2l-1.8 1.8z" stroke="#62b9e6"/>
<path d="M570.7 93.8l1.8 6.4l2.1 0.3l-1.8 -5.0zM568.9 99.8l1.8 -6.0l2.1 1.8l-1.8 4.8z" stroke="#64c1e4"/>
<path d="M567.1 76.7l1.8 23.1l2.1 0.5l-1.8 2.1zM565.3 99.8l1.8 -23.1l2.1 25.8l-1.8 1.5z" stroke="#7cd0b6"/>
<path d="M561.7 107.1l1.8 -4.0l2.1 2.7l-1.8 3.8zM488.3 126.3l1.8 8.9l1.6 0.4l-1.8 -1.1zM486.5 136.1l1.8 -9.8l1.6 8.3l-1.8 5.3z" stroke="#61b1e8"/>
<path d="M559.9 107.1l1.8 -0.0l2.1 2.5l-1.8 0.2zM558.2 111.4l1.8 -4.3l2.0 2.7l-1.8 0.6zM556.4 109.6l1.8 1.8l2.0 -1.0l-1.8 -1.9zM554.6 113.8l1.8 -4.2l2.0 -1.0l-1.8 6.5zM497.3 129.3l1.8 5.4l1.7 0.8l-1.8 -2.1zM495.5 129.2l1.8 0.1l1.7 4.1l-1.8 -0.7zM493.7 132.0l1.8 -2.9l1.6 3.5l-1.8 4.9z" stroke="#60a8ea"/>
<path d="M552.8 118.8l1.8 -5.0l2.0 1.2l-1.8 3.4zM551.0 115.9l1.8 2.9l2.0 -0.3l-1.8 -1.5zM549.2 122.9l1.8 -7.0l2.0 1.1l-1.8 6.5zM506.2 132.9l1.8 -0.6l1.7 2.8l-1.8 -1.3zM504.4 136.3l1.8 -3.4l1.7 0.9l-1.8 6.4zM502.6 132.7l1.8 3.7l1.7 3.9l-1.8 -0.8zM500.8 136.9l1.8 -4.3l1.7 6.7l-1.8 -3.3zM499.0 134.7l1.8 2.2l1.7 -0.8l-1.8 -0.7zM482.9 140.5l1.8 2.2l1.6 -0.4l-1.8 -1.3zM481.1 147.0l1.8 -6.4l1.6 0.6l-1.8 7.1z" stroke="#6096eb"/>
<path d="M547.4 121.4l1.8 1.5l2.0 0.5l-1.8 0.6zM545.6 121.9l1.8 -0.5l2.0 2.7l-1.8 -1.8zM543.8 121.1l1.8 0.8l2.0 0.4l-1.8 3.3zM542.0 123.6l1.8 -2.5l1.9 4.5l-1.8 0.8zM520.5 128.6l1.8 5.5l1.8 4.8l-1.8 -7.3zM518.7 129.9l1.8 -1.4l1.8 3.0l-1.8 2.4zM517.0 137.1l1.8 -7.2l1.8 4.1l-1.8 3.5zM508.0 132.4l1.8 3.3l1.7 3.7l-1.8 -4.2z" stroke="#608deb"/>
<path d="M540.2 125.4l1.8 -1.7l1.9 2.8l-1.8 5.5zM538.5 131.8l1.8 -6.4l1.9 6.6l-1.8 5.7zM531.3 128.6l1.8 6.3l1.9 1.2l-1.8 -6.1zM529.5 135.4l1.8 -6.8l1.9 1.5l-1.8 6.6zM525.9 130.5l1.8 5.9l1.8 1.0l-1.8 -1.1zM524.1 134.2l1.8 -3.8l1.8 5.7l-1.8 2.1zM515.2 135.2l1.8 1.9l1.8 0.3l-1.8 1.6zM513.4 134.4l1.8 0.8l1.8 3.9l-1.8 -2.0zM511.6 134.8l1.8 -0.4l1.8 2.7l-1.8 1.5zM509.8 135.7l1.8 -0.9l1.7 3.9l-1.8 0.8zM479.3 151.1l1.8 -4.1l1.6 1.2l-1.8 5.4z" stroke="#6284eb"/>
<path d="M536.7 131.2l1.8 0.6l1.9 5.8l-1.8 -5.6zM534.9 132.2l1.8 -1.1l1.9 0.8l-1.8 1.5zM533.1 135.0l1.8 -2.7l1.9 1.2l-1.8 2.8zM522.3 134.1l1.8 0.1l1.8 4.1l-1.8 0.6z" stroke="#687dea"/>
<path d="M527.7 136.4l1.8 -0.9l1.9 1.3l-1.8 0.6zM477.5 159.8l1.8 -8.7l1.5 2.5l-1.8 7.5z" stroke="#6e76e8"/>
<path d="M491.9 133.1l1.8 -1.0l1.6 5.5l-1.8 -1.3zM490.1 135.2l1.8 -2.2l1.6 3.1l-1.8 -0.5zM484.7 142.8l1.8 -6.7l1.6 3.8l-1.8 2.5z" stroke="#5f9feb"/>
<path d="M475.8 165.0l1.8 -5.2l1.5 1.4l-1.8 5.6z" stroke="#736de5"/>
<path d="M474.0 170.0l1.8 -5.1l1.5 1.8l-1.8 4.8z" stroke="#7465df"/>
<path d="M472.2 172.5l1.8 -2.4l1.5 1.5l-1.8 2.4z" stroke="#7260dc"/>
<path d="M581.8 91.5l1.8 -73.9l2.2 72.2l-1.8 3.7z" stroke="#e4c74c"/>
<path d="M580.0 90.7l1.8 0.8l2.2 2.0l-1.8 0.0zM578.2 96.0l1.8 -5.3l2.2 2.8l-1.8 3.3z" stroke="#69c6da"/>
<path d="M576.4 96.0l1.8 -0.0l2.1 0.8l-1.8 -0.4zM574.6 100.6l1.8 -4.5l2.1 0.3l-1.8 3.0z" stroke="#64c1e4"/>
<path d="M572.8 95.6l1.8 5.0l2.1 -1.2l-1.8 -69.4zM571.0 100.4l1.8 -4.8l2.1 -65.7l-1.8 71.5z" stroke="#d5cb59"/>
<path d="M569.2 102.5l1.8 -2.1l2.1 1.1l-1.8 1.6z" stroke="#62b9e6"/>
<path d="M567.4 104.0l1.8 -1.5l2.1 0.5l-1.8 2.8zM565.6 105.8l1.8 -1.8l2.1 1.8l-1.8 0.4zM563.8 109.6l1.8 -3.8l2.1 0.3l-1.8 0.3z" stroke="#61b1e8"/>
<path d="M562.0 109.8l1.8 -0.2l2.1 -3.2l-1.8 6.4zM558.4 108.6l1.8 1.9l2.0 3.5l-1.8 -3.7zM556.6 115.1l1.8 -6.5l2.0 1.7l-1.8 7.2zM489.9 134.6l1.8 1.1l1.6 2.4l-1.8 -0.6z" stroke="#60a8ea"/>
<path d="M560.2 110.5l1.8 -0.6l2.0 3.0l-1.8 1.1zM498.9 133.4l1.8 2.1l1.7 0.6l-1.8 2.6zM497.1 132.7l1.8 0.7l1.7 5.3l-1.8 -4.4zM495.3 137.5l1.8 -4.9l1.6 1.5l-1.8 7.7zM493.5 136.2l1.8 1.3l1.6 4.4l-1.8 -3.6zM491.7 135.7l1.8 0.5l1.6 2.1l-1.8 -0.3zM488.1 139.9l1.8 -5.3l1.6 2.9l-1.8 2.7z" stroke="#5f9feb"/>
<path d="M554.8 118.5l1.8 -3.4l2.0 2.4l-1.8 1.4zM553.0 117.0l1.8 1.5l2.0 0.3l-1.8 1.4zM551.2 123.5l1.8 -6.5l2.0 3.2l-1.8 5.4zM507.9 133.8l1.8 1.3l1.7 1.2l-1.8 -0.7zM506.1 140.3l1.8 -6.4l1.7 1.8l-1.8 5.0zM502.5 136.1l1.8 3.3l1.7 -3.0l-1.8 0.1zM500.7 135.5l1.8 0.7l1.7 0.3l-1.8 -0.4zM486.3 142.4l1.8 -2.5l1.6 0.3l-1.8 0.6zM484.5 141.2l1.8 1.3l1.6 -1.6l-1.8 4.1zM482.7 148.2l1.8 -7.1l1.6 3.8l-1.8 3.6z" stroke="#6096eb"/>
<path d="M549.4 124.1l1.8 -0.6l2.0 2.2l-1.8 -0.0zM544.0 126.4l1.8 -0.8l1.9 3.1l-1.8 0.1zM542.2 131.9l1.8 -5.5l1.9 2.3l-1.8 4.8zM533.2 130.1l1.8 6.1l1.9 -0.7l-1.8 -1.9zM531.4 136.7l1.8 -6.6l1.9 3.5l-1.8 5.8zM518.7 137.5l1.8 -3.5l1.8 4.2l-1.8 0.9zM515.1 137.1l1.8 2.0l1.8 1.2l-1.8 0.6zM513.3 138.6l1.8 -1.5l1.8 3.8l-1.8 -3.7zM511.5 139.4l1.8 -0.8l1.7 -1.5l-1.8 3.4zM480.9 153.6l1.8 -5.4l1.6 0.3l-1.8 8.1z" stroke="#6284eb"/>
<path d="M547.6 122.3l1.8 1.8l2.0 1.5l-1.8 -1.1zM545.8 125.6l1.8 -3.3l2.0 2.2l-1.8 4.2zM522.3 131.6l1.8 7.3l1.8 -0.6l-1.8 -5.8zM520.5 134.0l1.8 -2.4l1.8 1.0l-1.8 5.7zM509.7 135.1l1.8 4.2l1.7 1.1l-1.8 -4.2zM504.3 139.4l1.8 0.8l1.7 0.4l-1.8 -4.2z" stroke="#608deb"/>
<path d="M540.4 137.6l1.8 -5.7l1.9 1.6l-1.8 1.8zM529.5 137.3l1.8 -0.6l1.9 2.7l-1.8 0.2zM479.1 161.2l1.8 -7.5l1.5 3.0l-1.8 5.2z" stroke="#6e76e8"/>
<path d="M538.6 131.9l1.8 5.6l1.9 -2.2l-1.8 -0.6zM536.8 133.5l1.8 -1.5l1.9 2.8l-1.8 0.2zM535.0 136.2l1.8 -2.8l1.9 1.5l-1.8 0.6zM527.7 136.2l1.8 1.1l1.8 2.4l-1.8 -2.7zM525.9 138.3l1.8 -2.1l1.8 0.8l-1.8 6.5zM524.1 138.9l1.8 -0.6l1.8 5.2l-1.8 -5.2zM516.9 139.1l1.8 -1.6l1.8 1.6l-1.8 1.2z" stroke="#687dea"/>
<path d="M477.3 166.8l1.8 -5.6l1.5 0.7l-1.8 6.8z" stroke="#736de5"/>
<path d="M475.5 171.6l1.8 -4.8l1.5 1.9l-1.8 4.5z" stroke="#7465df"/>
<path d="M473.7 173.9l1.8 -2.4l1.5 1.6l-1.8 2.2z" stroke="#7260dc"/>
<path d="M584.0 93.5l1.8 -3.7l2.2 -0.2l-1.8 3.3zM582.2 93.5l1.8 -0.0l2.2 -0.5l-1.8 1.0zM567.7 106.1l1.8 -0.4l2.1 0.7l-1.8 -13.6zM565.9 106.5l1.8 -0.3l2.1 -13.2l-1.8 16.6z" stroke="#69c6da"/>
<path d="M580.4 96.8l1.8 -3.3l2.2 0.5l-1.8 4.2zM578.5 96.3l1.8 0.4l2.1 1.4l-1.8 1.3zM576.7 99.3l1.8 -3.0l2.1 3.2l-1.8 -0.4z" stroke="#64c1e4"/>
<path d="M574.9 29.9l1.8 69.4l2.1 -0.2l-1.8 1.3zM573.1 101.4l1.8 -71.5l2.1 70.5l-1.8 4.1z" stroke="#d5cb59"/>
<path d="M571.3 103.0l1.8 -1.6l2.1 3.1l-1.8 0.1z" stroke="#62b9e6"/>
<path d="M569.5 105.8l1.8 -2.8l2.1 1.6l-1.8 1.9z" stroke="#61b1e8"/>
<path d="M564.0 112.8l1.8 -6.4l2.1 3.0l-1.8 4.1zM560.4 110.3l1.8 3.7l2.0 0.5l-1.8 0.3zM558.6 117.4l1.8 -7.2l2.0 4.5l-1.8 4.7zM491.5 137.5l1.8 0.6l1.6 2.0l-1.8 -3.4zM489.7 140.2l1.8 -2.7l1.6 -0.9l-1.8 7.0z" stroke="#60a8ea"/>
<path d="M562.2 114.0l1.8 -1.1l2.0 0.8l-1.8 0.8zM498.8 134.2l1.8 4.4l1.7 3.6l-1.8 -4.4zM496.9 141.9l1.8 -7.7l1.7 3.6l-1.8 4.1zM495.1 138.4l1.8 3.6l1.6 -0.0l-1.8 -3.9zM493.3 138.1l1.8 0.3l1.6 -0.3l-1.8 2.0zM487.9 140.8l1.8 -0.6l1.6 3.4l-1.8 -1.1z" stroke="#5f9feb"/>
<path d="M556.8 118.8l1.8 -1.4l2.0 2.0l-1.8 -1.0zM555.0 120.2l1.8 -1.4l2.0 -0.4l-1.8 2.3zM509.6 135.6l1.8 0.7l1.7 1.8l-1.8 -0.4zM506.0 136.4l1.8 4.2l1.7 1.6l-1.8 -1.5zM504.2 136.5l1.8 -0.1l1.7 4.3l-1.8 -2.0zM502.4 136.1l1.8 0.4l1.7 2.2l-1.8 -1.0zM500.6 138.6l1.8 -2.6l1.7 1.5l-1.8 4.6zM486.1 144.9l1.8 -4.1l1.6 1.6l-1.8 4.0z" stroke="#6096eb"/>
<path d="M553.2 125.6l1.8 -5.4l2.0 0.5l-1.8 7.2zM549.5 124.5l1.8 1.1l2.0 2.4l-1.8 -0.4zM547.7 128.7l1.8 -4.2l2.0 3.1l-1.8 2.0zM522.3 138.2l1.8 -5.7l1.8 3.7l-1.8 4.4zM511.4 136.4l1.8 4.2l1.7 2.1l-1.8 -4.4zM507.8 140.6l1.8 -5.0l1.7 2.2l-1.8 4.4zM484.2 148.6l1.8 -3.6l1.6 1.5l-1.8 4.1z" stroke="#608deb"/>
<path d="M551.3 125.6l1.8 0.0l2.0 2.4l-1.8 -0.0zM545.9 128.8l1.8 -0.1l1.9 0.9l-1.8 -0.6zM544.1 133.6l1.8 -4.8l1.9 0.2l-1.8 6.8zM524.1 132.5l1.8 5.8l1.8 4.3l-1.8 -6.3zM515.1 137.2l1.8 3.7l1.8 3.2l-1.8 -4.6zM513.3 140.5l1.8 -3.4l1.8 2.2l-1.8 3.2zM482.4 156.7l1.8 -8.1l1.6 1.9l-1.8 7.5z" stroke="#6284eb"/>
<path d="M542.3 135.3l1.8 -1.8l1.9 2.2l-1.8 5.0zM540.5 134.7l1.8 0.6l1.9 5.4l-1.8 -3.5zM531.4 139.7l1.8 -0.2l1.9 0.4l-1.8 2.1zM527.8 143.5l1.8 -6.5l1.8 2.9l-1.8 6.6zM526.0 138.3l1.8 5.2l1.8 3.0l-1.8 -3.9zM480.6 161.8l1.8 -5.2l1.6 1.3l-1.8 6.5z" stroke="#6e76e8"/>
<path d="M538.6 134.9l1.8 -0.2l1.9 2.6l-1.8 -1.2zM536.8 135.5l1.8 -0.6l1.9 1.2l-1.8 3.0zM535.0 133.7l1.8 1.9l1.9 3.6l-1.8 -1.4zM533.2 139.4l1.8 -5.8l1.9 4.1l-1.8 2.1zM529.6 137.0l1.8 2.7l1.9 2.2l-1.8 -1.9zM520.5 139.1l1.8 -0.9l1.8 2.4l-1.8 0.1zM518.7 140.3l1.8 -1.2l1.8 1.7l-1.8 1.0zM516.9 140.9l1.8 -0.6l1.8 1.5l-1.8 2.3z" stroke="#687dea"/>
<path d="M478.8 168.6l1.8 -6.8l1.5 2.6l-1.8 5.3z" stroke="#736de5"/>
<path d="M477.0 173.2l1.8 -4.5l1.5 1.1l-1.8 4.9z" stroke="#7465df"/>
<path d="M475.2 175.4l1.8 -2.2l1.5 1.5l-1.8 2.2z" stroke="#7260dc"/>
<path d="M586.2 93.0l1.8 -3.3l2.2 -41.9l-1.8 47.5z" stroke="#aed675"/>
<path d="M584.3 94.0l1.8 -1.0l2.2 2.3l-1.8 0.7zM569.7 92.9l1.8 13.6l2.1 5.4l-1.8 -3.8zM567.9 109.5l1.8 -16.6l2.1 15.2l-1.8 2.9z" stroke="#69c6da"/>
<path d="M582.5 98.2l1.8 -4.2l2.2 1.9l-1.8 7.2z" stroke="#64c1e4"/>
<path d="M580.7 99.6l1.8 -1.3l2.1 4.9l-1.8 -3.1zM578.9 99.1l1.8 0.4l2.1 0.4l-1.8 1.0zM577.0 100.4l1.8 -1.3l2.1 1.9l-1.8 0.5zM575.2 104.5l1.8 -4.1l2.1 1.1l-1.8 3.0zM573.4 104.6l1.8 -0.1l2.1 -0.1l-1.8 0.3z" stroke="#62b9e6"/>
<path d="M571.6 106.5l1.8 -1.9l2.1 0.1l-1.8 7.2z" stroke="#61b1e8"/>
<path d="M566.1 113.6l1.8 -4.1l2.1 1.6l-1.8 5.4zM494.9 140.1l1.8 -2.0l1.7 -2.0l-1.8 3.6zM493.1 136.6l1.8 3.4l1.7 -0.4l-1.8 -0.9zM491.3 143.6l1.8 -7.0l1.6 2.1l-1.8 5.8z" stroke="#60a8ea"/>
<path d="M564.3 114.5l1.8 -0.8l2.1 2.8l-1.8 1.8zM562.4 114.7l1.8 -0.3l2.0 3.8l-1.8 -3.2zM560.6 119.4l1.8 -4.7l2.0 0.4l-1.8 5.9zM496.8 138.0l1.8 3.9l1.7 4.8l-1.8 -10.7z" stroke="#5f9feb"/>
<path d="M558.8 118.4l1.8 1.0l2.0 1.6l-1.8 -0.5zM557.0 120.7l1.8 -2.3l2.0 2.1l-1.8 1.2zM505.9 138.6l1.8 2.0l1.7 1.5l-1.8 -3.5zM504.1 137.6l1.8 1.0l1.7 -0.0l-1.8 2.7zM502.2 142.2l1.8 -4.6l1.7 3.7l-1.8 3.1zM500.4 137.8l1.8 4.4l1.7 2.2l-1.8 -3.8zM498.6 141.9l1.8 -4.1l1.7 2.8l-1.8 6.1zM489.5 142.5l1.8 1.1l1.6 1.0l-1.8 2.1zM487.6 146.4l1.8 -4.0l1.6 4.2l-1.8 0.6z" stroke="#6096eb"/>
<path d="M555.1 128.0l1.8 -7.2l2.0 1.0l-1.8 6.8zM513.2 138.2l1.8 4.4l1.8 0.9l-1.8 -3.8zM511.4 137.8l1.8 0.4l1.8 1.5l-1.8 1.9zM509.5 142.2l1.8 -4.4l1.7 3.8l-1.8 2.5zM507.7 140.7l1.8 1.5l1.7 1.8l-1.8 -1.9zM485.8 150.5l1.8 -4.1l1.6 0.9l-1.8 6.3z" stroke="#608deb"/>
<path d="M553.3 127.9l1.8 0.0l2.0 0.5l-1.8 3.3zM551.5 127.5l1.8 0.4l2.0 3.9l-1.8 -3.9zM549.7 129.6l1.8 -2.0l2.0 0.4l-1.8 7.7zM547.8 129.0l1.8 0.6l2.0 6.1l-1.8 -4.8zM546.0 135.8l1.8 -6.8l2.0 1.9l-1.8 5.6zM525.9 136.2l1.8 6.3l1.8 2.6l-1.8 -6.6zM524.1 140.7l1.8 -4.4l1.8 2.3l-1.8 3.0zM516.8 139.4l1.8 4.6l1.8 4.3l-1.8 -6.7zM515.0 142.6l1.8 -3.2l1.8 2.2l-1.8 1.8zM484.0 158.0l1.8 -7.5l1.6 3.1l-1.8 8.1z" stroke="#6284eb"/>
<path d="M544.2 140.8l1.8 -5.0l1.9 0.7l-1.8 6.4zM542.4 137.3l1.8 3.5l1.9 2.1l-1.8 -5.4zM536.9 137.7l1.8 1.4l1.9 -0.3l-1.8 0.1zM535.1 139.8l1.8 -2.1l1.9 1.2l-1.8 4.4zM533.2 141.9l1.8 -2.1l1.9 3.5l-1.8 2.1zM531.4 140.0l1.8 1.9l1.9 3.5l-1.8 -5.5zM529.6 146.5l1.8 -6.6l1.9 -0.1l-1.8 10.5zM527.8 142.6l1.8 3.9l1.9 3.9l-1.8 -5.3z" stroke="#6e76e8"/>
<path d="M540.5 136.1l1.8 1.2l1.9 0.2l-1.8 -1.1zM538.7 139.1l1.8 -3.0l1.9 0.3l-1.8 2.4zM522.3 140.8l1.8 -0.1l1.8 0.8l-1.8 -0.3zM520.5 141.7l1.8 -1.0l1.8 0.4l-1.8 3.6zM518.7 144.0l1.8 -2.3l1.8 3.1l-1.8 3.5z" stroke="#687dea"/>
<path d="M482.2 164.4l1.8 -6.5l1.6 3.7l-1.8 3.9z" stroke="#7171e7"/>
<path d="M480.3 169.7l1.8 -5.3l1.6 1.1l-1.8 6.2z" stroke="#736de5"/>
<path d="M478.5 174.7l1.8 -4.9l1.6 2.0l-1.8 4.4z" stroke="#7465df"/>
<path d="M476.7 176.9l1.8 -2.2l1.6 1.5l-1.8 2.2z" stroke="#7260dc"/>
<path d="M588.3 95.2l1.8 -47.5l2.2 45.1l-1.8 5.6z" stroke="#aed675"/>
<path d="M586.5 95.9l1.8 -0.7l2.2 3.2l-1.8 0.4zM584.6 103.1l1.8 -7.2l2.2 3.0l-1.8 3.1zM579.1 101.5l1.8 -0.5l2.1 -0.4l-1.8 0.5zM577.3 104.5l1.8 -3.0l2.1 -0.4l-1.8 4.1z" stroke="#64c1e4"/>
<path d="M582.8 100.0l1.8 3.1l2.1 -1.2l-1.8 -24.8zM581.0 101.0l1.8 -1.0l2.1 -22.9l-1.8 23.5z" stroke="#82d4aa"/>
<path d="M575.5 104.8l1.8 -0.3l2.1 0.8l-1.8 1.4z" stroke="#62b9e6"/>
<path d="M573.6 111.9l1.8 -7.2l2.1 1.9l-1.8 3.7zM571.8 108.1l1.8 3.8l2.1 -1.6l-1.8 1.8zM570.0 111.0l1.8 -2.9l2.1 4.0l-1.8 -0.6z" stroke="#61b1e8"/>
<path d="M568.1 116.4l1.8 -5.4l2.1 0.5l-1.8 6.9zM496.6 139.6l1.8 -3.6l1.7 3.5l-1.8 1.7zM494.8 138.7l1.8 0.9l1.7 1.6l-1.8 0.9z" stroke="#60a8ea"/>
<path d="M566.3 118.3l1.8 -1.8l2.1 2.1l-1.8 2.1zM564.5 115.1l1.8 3.2l2.0 2.3l-1.8 -3.3zM562.6 121.0l1.8 -5.9l2.0 2.1l-1.8 4.7zM498.4 136.0l1.8 10.7l1.7 2.2l-1.8 -9.4zM492.9 144.6l1.8 -5.8l1.6 3.4l-1.8 6.7z" stroke="#5f9feb"/>
<path d="M560.8 120.5l1.8 0.5l2.0 0.9l-1.8 1.0zM559.0 121.7l1.8 -1.2l2.0 2.5l-1.8 1.5zM507.6 138.6l1.8 3.5l1.7 4.4l-1.8 -4.5zM505.8 141.3l1.8 -2.7l1.7 3.4l-1.8 -0.0zM503.9 144.4l1.8 -3.1l1.7 0.7l-1.8 6.0zM502.1 140.6l1.8 3.8l1.7 3.5l-1.8 -5.6zM500.3 146.7l1.8 -6.1l1.7 1.7l-1.8 6.5zM491.1 146.7l1.8 -2.1l1.6 4.3l-1.8 -4.4zM489.3 147.3l1.8 -0.6l1.6 -2.2l-1.8 4.6z" stroke="#6096eb"/>
<path d="M557.1 128.5l1.8 -6.8l2.0 2.8l-1.8 6.3zM514.9 139.7l1.8 3.8l1.8 2.6l-1.8 -5.4zM513.1 141.6l1.8 -1.9l1.8 0.9l-1.8 2.8zM511.3 144.1l1.8 -2.5l1.7 1.8l-1.8 2.2zM509.4 142.1l1.8 1.9l1.7 1.6l-1.8 0.9zM487.4 153.6l1.8 -6.3l1.6 1.8l-1.8 6.2z" stroke="#608deb"/>
<path d="M555.3 131.8l1.8 -3.3l2.0 2.4l-1.8 1.0zM553.5 127.9l1.8 3.9l2.0 0.0l-1.8 -1.4zM551.6 135.6l1.8 -7.7l2.0 2.4l-1.8 4.0zM549.8 130.8l1.8 4.8l2.0 -1.3l-1.8 -3.3zM548.0 136.5l1.8 -5.6l2.0 0.2l-1.8 7.8zM527.8 138.5l1.8 6.6l1.8 0.8l-1.8 -5.9zM525.9 141.5l1.8 -3.0l1.8 1.5l-1.8 3.6zM516.8 143.5l1.8 -1.8l1.8 3.2l-1.8 1.2z" stroke="#6284eb"/>
<path d="M546.1 142.9l1.8 -6.4l1.9 2.4l-1.8 5.8zM544.3 137.5l1.8 5.4l1.9 1.8l-1.8 -6.4zM538.8 138.9l1.8 -0.1l1.9 2.9l-1.8 0.6zM537.0 143.3l1.8 -4.4l1.9 3.5l-1.8 1.0zM535.1 145.4l1.8 -2.1l1.9 0.1l-1.8 3.4zM533.3 139.9l1.8 5.5l1.9 1.4l-1.8 -1.4zM531.4 150.4l1.8 -10.5l1.9 5.5l-1.8 5.0z" stroke="#6e76e8"/>
<path d="M542.5 136.4l1.8 1.1l1.9 0.7l-1.8 -1.1zM540.6 138.9l1.8 -2.4l1.9 0.7l-1.8 4.7zM524.1 141.2l1.8 0.3l1.8 2.2l-1.8 -0.9zM522.3 144.8l1.8 -3.6l1.8 1.6l-1.8 0.2zM520.4 148.3l1.8 -3.5l1.8 -1.8l-1.8 6.4zM518.6 141.6l1.8 6.7l1.8 1.1l-1.8 -4.6zM485.6 161.7l1.8 -8.1l1.6 1.7l-1.8 5.5z" stroke="#687dea"/>
<path d="M529.6 145.1l1.8 5.3l1.9 -0.0l-1.8 -4.4zM483.8 165.6l1.8 -3.9l1.6 -0.8l-1.8 6.8z" stroke="#7171e7"/>
<path d="M481.9 171.8l1.8 -6.2l1.6 2.1l-1.8 5.9z" stroke="#736de5"/>
<path d="M480.1 176.2l1.8 -4.4l1.6 1.8l-1.8 4.1z" stroke="#7465df"/>
<path d="M478.2 178.4l1.8 -2.2l1.6 1.5l-1.8 2.1z" stroke="#7260dc"/>
<path d="M590.5 98.4l1.8 -5.6l2.2 2.3l-1.9 5.3z" stroke="#69c6da"/>
<path d="M588.6 98.9l1.8 -0.4l2.2 2.0l-1.9 0.5zM586.8 101.9l1.8 -3.1l2.2 2.0l-1.9 2.0zM581.3 101.1l1.8 -0.5l2.1 3.0l-1.9 -0.9zM579.4 105.3l1.8 -4.1l2.1 1.6l-1.9 5.2z" stroke="#64c1e4"/>
<path d="M585.0 77.1l1.8 24.8l2.1 0.9l-1.9 1.7zM583.1 100.6l1.8 -23.5l2.1 27.4l-1.9 -0.9z" stroke="#82d4aa"/>
<path d="M577.6 106.6l1.8 -1.4l2.1 2.7l-1.9 0.8z" stroke="#62b9e6"/>
<path d="M575.7 110.3l1.8 -3.7l2.1 2.1l-1.9 6.3zM572.0 111.5l1.8 0.6l2.1 -0.5l-1.9 2.2z" stroke="#61b1e8"/>
<path d="M573.9 112.1l1.8 -1.8l2.1 4.6l-1.9 -3.4zM570.2 118.5l1.8 -6.9l2.1 2.2l-1.9 4.2zM498.3 141.2l1.8 -1.7l1.7 1.6l-1.9 1.7z" stroke="#60a8ea"/>
<path d="M568.3 120.6l1.8 -2.1l2.1 -0.5l-1.9 6.3zM566.5 117.2l1.8 3.3l2.0 3.7l-1.9 -4.9zM564.7 122.0l1.8 -4.7l2.0 2.1l-1.9 5.6zM500.1 139.5l1.8 9.4l1.7 0.9l-1.9 -8.6zM496.4 142.2l1.8 -0.9l1.7 1.6l-1.9 2.6zM494.6 148.9l1.8 -6.7l1.6 3.2l-1.9 5.2zM490.9 149.1l1.8 -4.6l1.6 1.5l-1.9 4.9z" stroke="#5f9feb"/>
<path d="M562.8 123.0l1.8 -1.0l2.0 3.0l-1.9 -2.4zM561.0 124.5l1.8 -1.5l2.0 -0.4l-1.9 3.6zM507.5 141.9l1.8 0.0l1.7 1.9l-1.9 3.3zM503.8 142.3l1.8 5.6l1.7 3.3l-1.9 -3.7zM501.9 148.9l1.8 -6.5l1.7 5.1l-1.9 2.3zM492.7 144.5l1.8 4.4l1.6 1.7l-1.9 -4.6z" stroke="#6096eb"/>
<path d="M559.1 130.8l1.8 -6.3l2.0 1.7l-1.9 6.2zM516.7 140.6l1.8 5.4l1.8 0.1l-1.9 -2.0zM514.9 143.4l1.8 -2.8l1.8 3.5l-1.9 2.3zM509.3 142.0l1.8 4.5l1.7 2.2l-1.9 -4.8zM505.6 147.9l1.8 -6.0l1.7 5.2l-1.9 4.0zM489.0 155.3l1.8 -6.2l1.6 1.8l-1.9 5.7z" stroke="#608deb"/>
<path d="M557.3 131.8l1.8 -1.0l2.0 1.6l-1.9 -1.1zM555.4 130.4l1.8 1.4l2.0 -0.5l-1.9 2.8zM553.6 134.4l1.8 -4.0l2.0 3.7l-1.9 2.8zM551.7 131.1l1.8 3.3l2.0 2.6l-1.9 -2.5zM549.9 138.8l1.8 -7.8l2.0 3.4l-1.9 6.5zM527.8 143.7l1.8 -3.6l1.8 2.8l-1.9 3.6zM518.5 146.1l1.8 -1.2l1.8 2.3l-1.9 -0.9zM513.0 145.6l1.8 -2.2l1.7 3.0l-1.9 2.5zM511.2 146.5l1.8 -0.9l1.7 3.4l-1.9 -0.3z" stroke="#6284eb"/>
<path d="M548.1 144.7l1.8 -5.8l1.9 2.1l-1.9 4.9zM546.2 138.3l1.8 6.4l1.9 1.1l-1.9 -6.4zM540.7 142.4l1.8 -0.6l1.9 0.2l-1.9 0.8zM538.8 143.4l1.8 -1.0l1.9 0.4l-1.9 -0.6zM537.0 146.8l1.8 -3.4l1.9 -1.2l-1.9 7.0zM535.1 145.4l1.8 1.4l1.9 2.4l-1.9 -4.4zM533.3 150.4l1.8 -5.0l1.9 -0.7l-1.9 6.8z" stroke="#6e76e8"/>
<path d="M544.4 137.1l1.8 1.1l1.9 1.2l-1.9 -0.9zM542.5 141.8l1.8 -4.7l1.9 1.4l-1.9 3.5zM529.6 140.0l1.8 5.9l1.8 3.9l-1.9 -7.1zM525.9 142.8l1.8 0.9l1.8 2.7l-1.9 0.4zM524.1 143.0l1.8 -0.2l1.8 4.0l-1.9 0.4zM522.2 149.5l1.8 -6.4l1.8 4.2l-1.9 2.1zM520.4 144.9l1.8 4.6l1.8 -0.2l-1.9 -2.2zM487.2 160.9l1.8 -5.5l1.6 1.4l-1.9 8.2z" stroke="#687dea"/>
<path d="M531.5 146.0l1.8 4.4l1.9 1.1l-1.9 -1.6zM485.3 167.7l1.8 -6.8l1.6 4.0l-1.9 3.7z" stroke="#7171e7"/>
<path d="M483.5 173.6l1.8 -5.9l1.6 0.9l-1.9 6.3z" stroke="#736de5"/>
<path d="M481.7 177.7l1.8 -4.1l1.6 1.3l-1.9 4.5z" stroke="#7465df"/>
<path d="M479.8 179.8l1.8 -2.1l1.6 1.7l-1.9 2.0z" stroke="#7260dc"/>
<path d="M592.7 100.4l1.9 -5.3l2.2 -15.0l-1.9 21.9z" stroke="#7cd0b6"/>
<path d="M590.8 100.9l1.9 -0.5l2.2 1.6l-1.9 2.5zM588.9 102.8l1.9 -2.0l2.2 3.6l-1.9 -0.4zM587.1 104.6l1.9 -1.7l2.1 1.2l-1.9 4.1zM585.2 103.6l1.9 0.9l2.1 3.6l-1.9 -3.5zM581.5 108.0l1.9 -5.2l2.1 2.4l-1.9 3.2z" stroke="#62b9e6"/>
<path d="M583.4 102.7l1.9 0.9l2.1 0.9l-1.9 0.6z" stroke="#64c1e4"/>
<path d="M579.7 108.7l1.9 -0.8l2.1 0.4l-1.9 0.7zM577.8 115.0l1.9 -6.3l2.1 0.3l-1.9 5.4zM574.1 113.8l1.9 -2.2l2.1 1.9l-1.9 1.1z" stroke="#61b1e8"/>
<path d="M576.0 111.6l1.9 3.4l2.1 -0.5l-1.9 -0.9zM572.2 118.0l1.9 -4.2l2.1 0.9l-1.9 7.3z" stroke="#60a8ea"/>
<path d="M570.4 124.3l1.9 -6.3l2.1 3.9l-1.9 3.5zM568.5 119.4l1.9 4.9l2.0 1.2l-1.9 -2.6zM564.8 122.6l1.9 2.4l2.0 0.4l-1.9 2.9zM563.0 126.2l1.9 -3.6l2.0 5.6l-1.9 -1.6zM496.2 150.6l1.9 -5.2l1.6 1.0l-1.9 5.0zM494.3 146.0l1.9 4.6l1.6 0.7l-1.9 -0.4zM492.5 151.0l1.9 -4.9l1.6 4.9l-1.9 3.1z" stroke="#6096eb"/>
<path d="M566.7 124.9l1.9 -5.6l2.0 3.4l-1.9 2.5zM501.8 141.2l1.9 8.6l1.7 2.8l-1.9 -7.5zM499.9 142.8l1.9 -1.7l1.7 3.9l-1.9 0.3zM498.1 145.4l1.9 -2.6l1.7 2.6l-1.9 0.9z" stroke="#5f9feb"/>
<path d="M561.1 132.4l1.9 -6.2l2.0 0.5l-1.9 7.5zM518.5 144.1l1.9 2.0l1.8 1.5l-1.9 -3.5zM516.6 146.5l1.9 -2.3l1.8 -0.0l-1.9 3.0zM511.0 143.9l1.9 4.8l1.7 -1.9l-1.9 -1.1zM509.2 147.2l1.9 -3.3l1.7 1.8l-1.9 5.3zM505.5 147.5l1.9 3.7l1.7 -1.9l-1.9 -1.4zM503.6 149.8l1.9 -2.3l1.7 0.4l-1.9 4.7zM490.6 156.7l1.9 -5.7l1.6 3.1l-1.9 4.5z" stroke="#608deb"/>
<path d="M559.3 131.3l1.9 1.1l2.0 1.8l-1.9 0.9zM557.4 134.1l1.9 -2.8l2.0 3.7l-1.9 1.1zM520.3 146.2l1.9 0.9l1.8 0.6l-1.9 -0.1zM514.7 149.0l1.9 -2.5l1.7 0.7l-1.9 5.1zM512.9 148.6l1.9 0.3l1.7 3.2l-1.9 -5.5zM507.3 151.2l1.9 -4.0l1.7 3.8l-1.9 -1.7z" stroke="#6284eb"/>
<path d="M555.6 137.0l1.9 -2.8l2.0 2.1l-1.9 5.0zM553.7 134.4l1.9 2.5l2.0 4.2l-1.9 -4.7zM551.8 140.9l1.9 -6.5l2.0 2.0l-1.9 5.7zM546.3 138.5l1.9 0.9l1.9 3.5l-1.9 2.1zM544.4 142.0l1.9 -3.5l1.9 6.5l-1.9 1.0zM531.4 142.8l1.9 7.1l1.8 1.6l-1.9 -7.3zM529.6 146.4l1.9 -3.6l1.8 1.3l-1.9 4.3zM527.7 146.8l1.9 -0.4l1.8 2.0l-1.9 -0.8zM525.9 147.2l1.9 -0.4l1.8 0.8l-1.9 1.5zM524.0 149.3l1.9 -2.1l1.8 1.9l-1.9 0.9zM522.2 147.1l1.9 2.2l1.8 0.7l-1.9 -2.3zM488.8 164.9l1.9 -8.2l1.6 1.8l-1.9 7.9z" stroke="#687dea"/>
<path d="M550.0 145.8l1.9 -4.9l1.9 1.2l-1.9 6.3zM533.3 149.9l1.9 1.6l1.9 0.1l-1.9 -0.1zM486.9 168.6l1.9 -3.7l1.6 1.5l-1.9 3.8z" stroke="#7171e7"/>
<path d="M548.1 139.4l1.9 6.4l1.9 2.6l-1.9 -5.5zM542.6 142.8l1.9 -0.8l1.9 4.0l-1.9 0.3zM540.7 142.2l1.9 0.6l1.9 3.4l-1.9 -0.9zM538.9 149.2l1.9 -7.0l1.9 3.2l-1.9 5.4zM537.0 144.7l1.9 4.4l1.9 1.6l-1.9 -4.3zM535.2 151.5l1.9 -6.8l1.9 1.8l-1.9 5.1z" stroke="#6e76e8"/>
<path d="M485.1 174.9l1.9 -6.3l1.6 1.6l-1.9 6.7z" stroke="#736de5"/>
<path d="M483.2 179.3l1.9 -4.5l1.6 2.0l-1.9 4.0z" stroke="#7465df"/>
<path d="M481.4 181.3l1.9 -2.0l1.6 1.5l-1.9 1.9z" stroke="#7260dc"/>
<path d="M594.8 102.0l1.9 -21.9l2.2 22.1l-1.9 5.3z" stroke="#7cd0b6"/>
<path d="M593.0 104.5l1.9 -2.5l2.2 5.5l-1.9 -2.1zM591.1 104.1l1.9 0.4l2.2 0.9l-1.9 4.4zM589.2 108.1l1.9 -4.1l2.1 5.7l-1.9 2.1zM587.4 104.6l1.9 3.5l2.1 3.8l-1.9 -1.3zM585.5 105.2l1.9 -0.6l2.1 6.0l-1.9 0.0zM583.6 108.4l1.9 -3.2l2.1 5.4l-1.9 2.0z" stroke="#62b9e6"/>
<path d="M581.8 109.1l1.9 -0.7l2.1 4.2l-1.9 0.7zM579.9 114.5l1.9 -5.4l2.1 4.2l-1.9 3.4z" stroke="#61b1e8"/>
<path d="M578.0 113.5l1.9 0.9l2.1 2.3l-1.9 -0.5zM576.2 114.6l1.9 -1.1l2.1 2.7l-1.9 3.7zM574.3 121.9l1.9 -7.3l2.1 5.3l-1.9 2.2z" stroke="#60a8ea"/>
<path d="M572.4 125.5l1.9 -3.5l2.1 0.2l-1.9 6.6zM570.6 122.8l1.9 2.6l2.0 3.3l-1.9 -2.6zM568.7 125.3l1.9 -2.5l2.0 3.4l-1.9 1.9zM503.4 145.1l1.9 7.5l1.7 1.2l-1.9 -5.3zM497.8 151.3l1.9 -5.0l1.6 4.1l-1.9 3.0zM496.0 150.9l1.9 0.4l1.6 2.1l-1.9 -2.2zM494.1 154.0l1.9 -3.1l1.6 0.3l-1.9 5.2z" stroke="#6096eb"/>
<path d="M566.8 128.2l1.9 -2.9l2.0 2.8l-1.9 -0.3zM565.0 126.6l1.9 1.6l2.0 -0.3l-1.9 1.1zM563.1 134.2l1.9 -7.5l2.0 2.3l-1.9 5.7zM520.2 144.1l1.9 3.5l1.8 1.4l-1.9 -0.4zM518.4 147.1l1.9 -3.0l1.8 4.5l-1.9 1.8zM512.8 145.7l1.9 1.1l1.7 3.8l-1.9 -4.1zM510.9 151.0l1.9 -5.3l1.7 0.8l-1.9 4.1zM509.0 149.3l1.9 1.7l1.7 -0.4l-1.9 0.3zM507.2 147.9l1.9 1.4l1.7 1.6l-1.9 -0.0zM505.3 152.6l1.9 -4.7l1.7 2.9l-1.9 3.0z" stroke="#608deb"/>
<path d="M561.2 135.0l1.9 -0.9l2.0 0.5l-1.9 1.4zM559.4 136.2l1.9 -1.1l2.0 1.0l-1.9 0.4zM557.5 141.2l1.9 -5.0l2.0 0.3l-1.9 8.1zM555.7 136.5l1.9 4.7l2.0 3.5l-1.9 -3.5zM553.8 142.1l1.9 -5.7l2.0 4.6l-1.9 3.7zM533.3 144.1l1.9 7.3l1.8 -0.4l-1.9 -4.4zM531.4 148.4l1.9 -4.3l1.8 2.5l-1.9 1.7zM529.5 147.6l1.9 0.8l1.8 -0.1l-1.9 2.1zM527.7 149.1l1.9 -1.5l1.8 2.8l-1.9 0.3zM525.8 150.0l1.9 -0.9l1.8 1.6l-1.9 -0.0zM523.9 147.7l1.9 2.3l1.8 0.7l-1.9 -0.8zM490.4 166.4l1.9 -7.9l1.6 3.8l-1.9 5.1z" stroke="#687dea"/>
<path d="M551.9 148.4l1.9 -6.3l1.9 2.6l-1.9 4.9zM550.1 142.9l1.9 5.5l1.9 1.2l-1.9 -2.5zM544.5 146.3l1.9 -0.3l1.9 1.7l-1.9 0.7zM535.1 151.5l1.9 0.1l1.9 1.9l-1.9 -2.5zM488.5 170.2l1.9 -3.8l1.6 1.0l-1.9 6.1z" stroke="#7171e7"/>
<path d="M548.2 145.0l1.9 -2.1l1.9 4.2l-1.9 -2.2zM546.3 146.0l1.9 -1.0l1.9 -0.1l-1.9 2.8zM542.6 145.4l1.9 0.9l1.9 2.2l-1.9 1.1zM540.7 150.8l1.9 -5.4l1.9 4.2l-1.9 -0.7zM538.9 146.5l1.9 4.3l1.9 -2.0l-1.9 0.0zM537.0 151.6l1.9 -5.1l1.9 2.4l-1.9 4.6z" stroke="#6e76e8"/>
<path d="M522.1 147.6l1.9 0.1l1.8 2.2l-1.9 -0.9zM516.5 152.2l1.9 -5.1l1.7 3.3l-1.9 1.5zM514.6 146.8l1.9 5.5l1.7 -0.3l-1.9 -1.4zM492.2 158.5l1.9 -4.5l1.6 2.4l-1.9 5.9z" stroke="#6284eb"/>
<path d="M501.6 145.4l1.9 -0.3l1.7 3.4l-1.9 -1.6zM499.7 146.3l1.9 -0.9l1.7 1.5l-1.9 3.5z" stroke="#5f9feb"/>
<path d="M486.6 176.9l1.9 -6.7l1.6 3.3l-1.9 4.3z" stroke="#736de5"/>
<path d="M484.8 180.9l1.9 -4.0l1.6 0.9l-1.9 4.5z" stroke="#7465df"/>
<path d="M482.9 182.8l1.9 -1.9l1.6 1.4l-1.9 2.0z" stroke="#7260dc"/>
<path d="M597.0 107.5l1.9 -5.3l2.2 1.9l-1.9 6.7z" stroke="#62b9e6"/>
<path d="M595.1 105.4l1.9 2.1l2.2 3.3l-1.9 -15.7zM593.2 109.8l1.9 -4.4l2.2 -10.3l-1.9 17.7z" stroke="#69c6da"/>
<path d="M591.4 111.9l1.9 -2.1l2.1 3.0l-1.9 2.8zM583.9 113.3l1.9 -0.7l2.1 4.5l-1.9 -2.6zM582.0 116.7l1.9 -3.4l2.1 1.1l-1.9 4.7zM580.1 116.2l1.9 0.5l2.1 2.4l-1.9 1.2zM578.2 119.9l1.9 -3.7l2.1 4.0l-1.9 0.7z" stroke="#60a8ea"/>
<path d="M589.5 110.6l1.9 1.3l2.1 3.7l-1.9 -2.7zM587.6 110.6l1.9 -0.0l2.1 2.3l-1.9 0.2zM585.7 112.5l1.9 -2.0l2.1 2.5l-1.9 3.9z" stroke="#61b1e8"/>
<path d="M576.4 122.1l1.9 -2.2l2.1 1.0l-1.9 4.1z" stroke="#5f9feb"/>
<path d="M574.5 128.7l1.9 -6.6l2.1 2.9l-1.9 6.4zM505.1 148.5l1.9 5.3l1.7 1.0l-1.9 -2.7zM503.2 147.0l1.9 1.6l1.7 3.5l-1.9 -0.5zM501.4 150.5l1.9 -3.5l1.7 4.6l-1.9 1.7zM499.5 153.4l1.9 -3.0l1.6 2.8l-1.9 1.8zM497.6 151.2l1.9 2.2l1.6 1.7l-1.9 0.3zM495.7 156.4l1.9 -5.2l1.6 4.2l-1.9 2.3z" stroke="#6096eb"/>
<path d="M572.6 126.2l1.9 2.6l2.0 2.7l-1.9 -1.9zM570.7 128.1l1.9 -1.9l2.0 3.3l-1.9 0.8zM568.9 127.8l1.9 0.3l2.0 2.2l-1.9 -0.6zM567.0 128.9l1.9 -1.1l2.0 1.8l-1.9 2.1zM565.1 134.7l1.9 -5.7l2.0 2.9l-1.9 7.6zM514.5 146.5l1.9 4.1l1.7 1.3l-1.9 -1.6zM512.6 150.6l1.9 -4.1l1.7 3.8l-1.9 5.0zM508.9 150.8l1.9 0.0l1.7 3.4l-1.9 -1.0zM507.0 153.8l1.9 -3.0l1.7 2.4l-1.9 1.6z" stroke="#608deb"/>
<path d="M563.2 136.1l1.9 -1.4l2.0 4.8l-1.9 -0.3zM561.4 136.5l1.9 -0.4l2.0 3.1l-1.9 1.3zM559.5 144.6l1.9 -8.1l2.0 4.0l-1.9 4.0zM535.1 146.7l1.9 4.4l1.8 4.7l-1.9 -7.5zM533.2 148.3l1.9 -1.7l1.8 1.6l-1.9 4.5zM531.4 150.4l1.9 -2.1l1.8 4.5l-1.9 -1.5zM527.6 150.7l1.9 0.0l1.8 2.3l-1.9 -0.3zM525.7 149.9l1.9 0.8l1.8 2.0l-1.9 -1.6zM523.9 149.0l1.9 0.9l1.8 1.2l-1.9 0.4zM518.2 152.0l1.9 -1.5l1.7 1.6l-1.9 3.6z" stroke="#687dea"/>
<path d="M557.6 141.1l1.9 3.5l2.0 -0.1l-1.9 0.3zM555.7 144.8l1.9 -3.7l2.0 3.7l-1.9 1.9zM550.1 144.9l1.9 2.2l1.9 0.1l-1.9 2.1zM548.2 147.7l1.9 -2.8l1.9 4.4l-1.9 -0.6zM540.7 148.9l1.9 -0.0l1.9 2.6l-1.9 -1.5zM529.5 150.7l1.9 -0.3l1.8 0.9l-1.9 1.8zM492.0 167.4l1.9 -5.1l1.6 3.9l-1.9 4.1z" stroke="#6e76e8"/>
<path d="M553.9 149.7l1.9 -4.9l1.9 1.9l-1.9 3.5zM552.0 147.1l1.9 2.5l1.9 0.5l-1.9 -2.9zM546.4 148.5l1.9 -0.7l1.9 1.0l-1.9 0.7zM544.5 149.5l1.9 -1.1l1.9 1.0l-1.9 2.3zM542.6 148.8l1.9 0.7l1.9 2.2l-1.9 -0.3zM538.9 153.5l1.9 -4.6l1.9 1.1l-1.9 5.1zM537.0 151.0l1.9 2.5l1.9 1.6l-1.9 0.7zM490.1 173.5l1.9 -6.1l1.6 2.9l-1.9 3.2z" stroke="#7171e7"/>
<path d="M522.0 148.6l1.9 0.4l1.8 2.4l-1.9 -1.7zM520.1 150.4l1.9 -1.8l1.8 1.2l-1.9 2.3zM516.4 150.6l1.9 1.4l1.7 3.7l-1.9 -3.8zM510.7 150.8l1.9 -0.3l1.7 4.7l-1.9 -1.0zM493.8 162.3l1.9 -5.9l1.6 1.4l-1.9 8.4z" stroke="#6284eb"/>
<path d="M488.2 177.7l1.9 -4.3l1.6 0.0l-1.9 6.4z" stroke="#7669e2"/>
<path d="M486.3 182.3l1.9 -4.5l1.6 2.1l-1.9 3.9z" stroke="#7465df"/>
<path d="M484.5 184.3l1.9 -2.0l1.6 1.5l-1.9 1.9z" stroke="#7260dc"/>
<path d="M599.2 110.8l1.9 -6.7l2.2 4.3l-1.9 6.1z" stroke="#62b9e6"/>
<path d="M597.3 95.1l1.9 15.7l2.2 3.7l-1.9 -3.0zM595.4 112.8l1.9 -17.7l2.2 16.4l-1.9 2.8z" stroke="#69c6da"/>
<path d="M593.5 115.6l1.9 -2.8l2.1 1.5l-1.9 6.2zM591.6 112.9l1.9 2.7l2.1 4.9l-1.9 -3.6zM589.7 113.1l1.9 -0.2l2.1 4.0l-1.9 0.9zM587.8 117.0l1.9 -3.9l2.1 4.7l-1.9 2.2zM586.0 114.4l1.9 2.6l2.1 3.1l-1.9 -0.1zM584.1 119.1l1.9 -4.7l2.1 5.5l-1.9 2.8z" stroke="#60a8ea"/>
<path d="M582.2 120.3l1.9 -1.2l2.1 3.7l-1.9 0.2zM580.3 120.9l1.9 -0.7l2.1 2.8l-1.9 1.7zM578.4 125.0l1.9 -4.1l2.1 3.8l-1.9 4.1z" stroke="#5f9feb"/>
<path d="M576.5 131.5l1.9 -6.4l2.1 3.8l-1.9 4.4zM574.6 129.5l1.9 1.9l2.0 1.7l-1.9 -0.3zM572.8 130.3l1.9 -0.8l2.0 3.4l-1.9 -1.0zM570.9 129.7l1.9 0.6l2.0 1.5l-1.9 1.2zM569.0 131.8l1.9 -2.1l2.0 3.3l-1.9 0.7zM516.2 150.3l1.9 1.6l1.7 3.5l-1.9 -5.3zM514.3 155.2l1.9 -5.0l1.7 -0.2l-1.9 7.2zM508.7 154.8l1.9 -1.6l1.7 2.3l-1.9 -1.1zM506.8 152.1l1.9 2.7l1.7 -0.3l-1.9 2.3zM504.9 151.5l1.9 0.5l1.7 4.6l-1.9 -2.5zM503.0 153.3l1.9 -1.7l1.7 2.6l-1.9 2.6zM501.1 155.1l1.9 -1.8l1.6 3.5l-1.9 0.5zM499.2 155.5l1.9 -0.3l1.6 2.1l-1.9 0.6zM497.3 157.7l1.9 -2.3l1.6 2.3l-1.9 -0.4z" stroke="#608deb"/>
<path d="M567.1 139.4l1.9 -7.6l2.0 1.9l-1.9 6.5zM523.7 149.8l1.9 1.7l1.8 1.6l-1.9 1.5zM521.9 152.1l1.9 -2.3l1.8 4.8l-1.9 1.2zM518.1 151.9l1.9 3.8l1.7 1.1l-1.9 -1.4zM512.4 154.3l1.9 1.0l1.7 2.0l-1.9 -1.8zM510.5 153.2l1.9 1.0l1.7 1.2l-1.9 0.1zM495.5 166.2l1.9 -8.4l1.6 -0.3l-1.9 10.3z" stroke="#6284eb"/>
<path d="M565.2 139.1l1.9 0.3l2.0 0.7l-1.9 -0.1zM563.3 140.5l1.9 -1.3l2.0 0.9l-1.9 1.1zM535.1 152.8l1.9 -4.5l1.8 3.8l-1.9 1.5zM527.5 151.1l1.9 1.6l1.8 1.3l-1.9 -1.3zM525.6 151.5l1.9 -0.4l1.8 1.6l-1.9 0.4zM520.0 155.7l1.9 -3.6l1.7 3.7l-1.9 1.0z" stroke="#687dea"/>
<path d="M561.4 144.5l1.9 -4.0l2.0 0.7l-1.9 6.3zM546.4 151.7l1.9 -2.3l1.9 3.5l-1.9 -3.2zM544.5 151.4l1.9 0.3l1.9 -2.0l-1.9 3.6zM542.6 149.9l1.9 1.5l1.9 1.9l-1.9 -1.2zM540.7 155.1l1.9 -5.1l1.9 2.1l-1.9 1.2zM536.9 148.3l1.9 7.5l1.8 -1.0l-1.9 -2.7zM533.2 151.3l1.9 1.5l1.8 0.8l-1.9 -0.1zM531.3 153.0l1.9 -1.8l1.8 2.2l-1.9 0.8zM529.4 152.7l1.9 0.3l1.8 1.2l-1.9 -0.3zM493.6 170.3l1.9 -4.1l1.6 1.5l-1.9 4.3z" stroke="#6e76e8"/>
<path d="M559.6 144.8l1.9 -0.3l2.0 2.9l-1.9 0.7zM557.7 146.7l1.9 -1.9l2.0 3.4l-1.9 -1.3zM555.8 150.2l1.9 -3.5l1.9 0.2l-1.9 5.8zM553.9 147.3l1.9 2.9l1.9 2.5l-1.9 -0.8zM552.0 149.4l1.9 -2.1l1.9 4.5l-1.9 -0.2zM550.1 148.7l1.9 0.6l1.9 2.3l-1.9 -0.2zM548.2 149.4l1.9 -0.7l1.9 2.8l-1.9 1.4zM538.8 155.7l1.9 -0.7l1.9 -1.8l-1.9 1.4zM491.7 173.5l1.9 -3.2l1.6 1.8l-1.9 3.4z" stroke="#7171e7"/>
<path d="M489.8 179.9l1.9 -6.4l1.6 2.0l-1.9 5.7z" stroke="#7669e2"/>
<path d="M487.9 183.8l1.9 -3.9l1.6 1.3l-1.9 4.1z" stroke="#7465df"/>
<path d="M486.0 185.7l1.9 -1.9l1.6 1.5l-1.9 1.9z" stroke="#7260dc"/>
<path d="M601.3 114.5l1.9 -6.1l2.2 3.9l-1.9 7.3z" stroke="#61b1e8"/>
<path d="M599.4 111.5l1.9 3.0l2.2 5.1l-1.9 -6.0zM597.5 114.3l1.9 -2.8l2.2 2.1l-1.9 6.3z" stroke="#60a8ea"/>
<path d="M595.6 120.5l1.9 -6.2l2.1 5.6l-1.9 4.2zM593.7 116.9l1.9 3.6l2.1 3.6l-1.9 -3.3zM591.8 117.8l1.9 -0.9l2.1 3.9l-1.9 -1.0zM589.9 120.1l1.9 -2.2l2.1 2.0l-1.9 4.0zM588.1 119.9l1.9 0.1l2.1 3.7l-1.9 -3.7zM586.2 122.8l1.9 -2.8l2.1 0.1l-1.9 4.1zM584.3 123.0l1.9 -0.2l2.1 1.4l-1.9 -0.2z" stroke="#5f9feb"/>
<path d="M582.4 124.7l1.9 -1.7l2.1 1.0l-1.9 3.5zM580.5 128.8l1.9 -4.1l2.1 2.8l-1.9 1.5z" stroke="#6096eb"/>
<path d="M578.6 133.2l1.9 -4.4l2.1 0.2l-1.9 5.6zM574.8 131.8l1.9 1.0l2.0 2.5l-1.9 -1.6zM572.9 133.0l1.9 -1.2l2.0 1.9l-1.9 1.9zM517.9 150.1l1.9 5.3l1.7 0.3l-1.9 -2.5zM516.0 157.3l1.9 -7.2l1.7 3.1l-1.9 6.0zM506.5 154.2l1.9 2.5l1.7 4.3l-1.9 -1.6zM504.6 156.7l1.9 -2.6l1.7 5.3l-1.9 0.2zM502.7 157.3l1.9 -0.5l1.6 3.0l-1.9 0.6zM500.9 157.8l1.9 -0.6l1.6 3.1l-1.9 -0.1zM499.0 157.4l1.9 0.4l1.6 2.4l-1.9 -0.3z" stroke="#608deb"/>
<path d="M576.7 132.9l1.9 0.3l2.0 1.4l-1.9 0.8zM571.0 133.7l1.9 -0.7l2.0 2.7l-1.9 -0.6zM569.1 140.2l1.9 -6.5l2.0 1.4l-1.9 6.7zM514.1 155.5l1.9 1.8l1.7 1.9l-1.9 -1.6zM512.2 155.6l1.9 -0.1l1.7 2.0l-1.9 1.7zM510.3 154.5l1.9 1.1l1.7 3.7l-1.9 -0.3zM508.4 156.7l1.9 -2.3l1.7 4.5l-1.9 2.1zM497.1 167.7l1.9 -10.3l1.6 2.5l-1.9 10.7z" stroke="#6284eb"/>
<path d="M567.2 140.0l1.9 0.1l2.0 1.6l-1.9 1.0zM565.3 141.1l1.9 -1.1l2.0 2.8l-1.9 0.6zM531.2 154.0l1.9 0.3l1.8 1.7l-1.9 -1.9zM529.3 152.7l1.9 1.3l1.8 0.1l-1.9 1.5zM527.4 153.1l1.9 -0.4l1.8 2.9l-1.9 0.5zM525.5 154.6l1.9 -1.5l1.8 3.0l-1.9 -1.0zM523.6 155.7l1.9 -1.2l1.8 0.5l-1.9 1.7zM521.7 156.8l1.9 -1.0l1.7 1.1l-1.9 2.0zM519.8 155.4l1.9 1.4l1.7 2.1l-1.9 -3.2z" stroke="#687dea"/>
<path d="M563.4 147.5l1.9 -6.3l2.0 2.3l-1.9 7.3zM548.2 149.7l1.9 3.2l1.9 0.8l-1.9 -0.8zM546.3 153.3l1.9 -3.6l1.9 3.2l-1.9 2.1zM544.5 152.1l1.9 1.2l1.9 1.7l-1.9 -2.6zM542.6 153.3l1.9 -1.2l1.9 0.2l-1.9 0.5zM540.7 154.7l1.9 -1.4l1.9 -0.5l-1.9 3.8zM538.8 152.0l1.9 2.7l1.8 1.9l-1.9 -0.2zM536.9 153.6l1.9 -1.5l1.8 4.3l-1.9 4.1zM535.0 153.5l1.9 0.1l1.8 6.9l-1.9 -2.8zM533.1 154.3l1.9 -0.8l1.8 4.2l-1.9 -1.7zM495.2 172.0l1.9 -4.3l1.6 2.9l-1.9 2.9z" stroke="#6e76e8"/>
<path d="M561.5 148.2l1.9 -0.7l2.0 3.2l-1.9 1.1zM559.6 146.9l1.9 1.3l2.0 3.6l-1.9 -1.1zM557.7 152.6l1.9 -5.8l1.9 3.8l-1.9 4.1zM552.0 151.5l1.9 0.2l1.9 4.1l-1.9 -2.2zM550.1 152.9l1.9 -1.4l1.9 2.1l-1.9 0.2z" stroke="#7171e7"/>
<path d="M555.8 151.8l1.9 0.8l1.9 2.1l-1.9 -2.7zM553.9 151.7l1.9 0.2l1.9 0.3l-1.9 3.7zM493.3 175.4l1.9 -3.4l1.6 1.5l-1.9 3.0z" stroke="#736de5"/>
<path d="M491.4 181.2l1.9 -5.7l1.6 1.1l-1.9 5.9z" stroke="#7669e2"/>
<path d="M489.5 185.3l1.9 -4.1l1.6 1.3l-1.9 4.4z" stroke="#7465df"/>
<path d="M487.6 187.2l1.9 -1.9l1.6 1.5l-1.9 1.9z" stroke="#7260dc"/>
<path d="M603.5 119.6l1.9 -7.3l2.2 4.8l-1.9 5.7zM601.6 113.6l1.9 6.0l2.2 3.2l-1.9 -5.3zM599.7 119.9l1.9 -6.3l2.2 3.8l-1.9 3.4z" stroke="#60a8ea"/>
<path d="M597.8 124.1l1.9 -4.2l2.1 1.0l-1.9 5.5zM595.9 120.8l1.9 3.3l2.1 2.3l-1.9 -1.7zM586.3 124.0l1.9 0.2l2.1 1.2l-1.9 3.0zM584.4 127.5l1.9 -3.5l2.1 4.4l-1.9 1.8z" stroke="#6096eb"/>
<path d="M594.0 119.8l1.9 1.0l2.1 3.8l-1.9 -0.7zM592.1 123.8l1.9 -4.0l2.1 4.1l-1.9 2.9zM590.1 120.0l1.9 3.7l2.1 3.1l-1.9 -3.5zM588.2 124.2l1.9 -4.1l2.1 3.3l-1.9 2.1z" stroke="#5f9feb"/>
<path d="M582.5 129.0l1.9 -1.5l2.1 2.7l-1.9 3.3zM580.6 134.6l1.9 -5.6l2.1 4.5l-1.9 5.9zM500.6 160.0l1.9 0.3l1.6 3.8l-1.9 -3.2z" stroke="#608deb"/>
<path d="M578.7 135.4l1.9 -0.8l2.0 4.8l-1.9 -2.2zM576.8 133.7l1.9 1.6l2.0 1.7l-1.9 0.1zM574.9 135.7l1.9 -1.9l2.0 3.4l-1.9 0.3zM573.0 135.1l1.9 0.6l2.0 1.9l-1.9 1.4zM571.1 141.8l1.9 -6.7l2.0 3.8l-1.9 5.5zM519.6 153.2l1.9 2.5l1.7 1.4l-1.9 -0.2zM517.7 159.1l1.9 -6.0l1.7 3.8l-1.9 7.2zM513.9 159.3l1.9 -1.7l1.7 1.1l-1.9 2.1zM512.0 158.9l1.9 0.3l1.7 1.4l-1.9 -1.2zM510.1 161.1l1.9 -2.1l1.7 0.6l-1.9 3.0zM508.2 159.5l1.9 1.6l1.7 1.5l-1.9 -2.8zM506.3 159.7l1.9 -0.2l1.7 0.2l-1.9 1.0zM504.4 160.4l1.9 -0.6l1.6 0.9l-1.9 0.1zM502.5 160.3l1.9 0.1l1.6 0.4l-1.9 3.3zM498.7 170.7l1.9 -10.7l1.6 0.9l-1.9 10.1z" stroke="#6284eb"/>
<path d="M569.2 142.8l1.9 -1.0l2.0 2.6l-1.9 0.7zM567.3 143.4l1.9 -0.6l2.0 2.3l-1.9 1.8zM565.4 150.7l1.9 -7.3l2.0 3.4l-1.9 3.3zM546.3 152.3l1.9 2.6l1.9 1.2l-1.9 -2.6zM544.4 152.8l1.9 -0.5l1.9 1.2l-1.9 1.3zM542.5 156.6l1.9 -3.8l1.9 2.1l-1.9 3.4zM534.9 156.0l1.9 1.7l1.8 1.6l-1.9 -3.3z" stroke="#6e76e8"/>
<path d="M563.5 151.8l1.9 -1.1l2.0 -0.5l-1.9 1.7zM561.6 150.7l1.9 1.1l2.0 0.1l-1.9 -0.5zM559.7 154.8l1.9 -4.1l1.9 0.7l-1.9 4.4zM552.0 153.7l1.9 -0.2l1.9 1.8l-1.9 1.0zM550.1 152.9l1.9 0.8l1.9 2.6l-1.9 -3.3zM548.2 155.0l1.9 -2.1l1.9 0.1l-1.9 3.2zM540.6 156.4l1.9 0.2l1.8 1.7l-1.9 -1.2zM538.7 160.4l1.9 -4.1l1.8 0.6l-1.9 0.9zM536.8 157.7l1.9 2.8l1.8 -2.6l-1.9 1.4zM496.8 173.6l1.9 -2.9l1.6 0.3l-1.9 4.3z" stroke="#7171e7"/>
<path d="M557.8 152.1l1.9 2.7l1.9 1.0l-1.9 -1.6zM555.8 155.8l1.9 -3.7l1.9 2.1l-1.9 2.7zM553.9 153.6l1.9 2.2l1.9 1.1l-1.9 -1.6zM494.9 176.6l1.9 -3.0l1.6 1.7l-1.9 4.5z" stroke="#736de5"/>
<path d="M533.0 154.1l1.9 1.9l1.8 0.1l-1.9 -1.4zM531.1 155.6l1.9 -1.5l1.8 0.6l-1.9 2.0zM529.2 156.1l1.9 -0.5l1.8 1.1l-1.9 -0.5zM527.3 155.1l1.9 1.0l1.8 0.0l-1.9 1.3zM525.4 156.8l1.9 -1.7l1.8 2.3l-1.9 2.5zM523.4 158.9l1.9 -2.0l1.7 3.0l-1.9 2.1zM521.5 155.6l1.9 3.2l1.7 3.1l-1.9 -4.9zM515.8 157.5l1.9 1.6l1.7 5.0l-1.9 -5.5z" stroke="#687dea"/>
<path d="M493.0 182.5l1.9 -5.9l1.6 3.2l-1.9 4.3z" stroke="#7669e2"/>
<path d="M491.0 186.8l1.9 -4.4l1.6 1.6l-1.9 4.3z" stroke="#7465df"/>
<path d="M489.1 188.7l1.9 -1.9l1.6 1.5l-1.9 1.8z" stroke="#7260dc"/>
<path d="M605.7 122.8l1.9 -5.7l2.2 1.6l-1.9 6.7zM603.7 117.5l1.9 5.3l2.2 2.6l-1.9 -5.5zM601.8 120.9l1.9 -3.4l2.2 2.5l-1.9 5.5zM590.3 125.4l1.9 -2.1l2.1 4.2l-1.9 0.7z" stroke="#5f9feb"/>
<path d="M599.9 126.4l1.9 -5.5l2.1 4.6l-1.9 1.9zM596.1 123.9l1.9 0.7l2.1 3.4l-1.9 -2.9zM594.2 126.8l1.9 -2.9l2.1 1.2l-1.9 4.0zM592.2 123.3l1.9 3.5l2.1 2.3l-1.9 -1.7zM588.4 128.4l1.9 -3.0l2.1 2.9l-1.9 2.6z" stroke="#6096eb"/>
<path d="M598.0 124.7l1.9 1.7l2.1 1.0l-1.9 0.7zM586.5 130.2l1.9 -1.8l2.1 2.4l-1.9 3.6zM584.6 133.5l1.9 -3.3l2.1 4.2l-1.9 2.0z" stroke="#608deb"/>
<path d="M582.7 139.3l1.9 -5.9l2.1 2.9l-1.9 4.2zM578.8 137.2l1.9 -0.1l2.0 2.9l-1.9 0.4zM576.9 137.5l1.9 -0.3l2.0 3.2l-1.9 -1.1zM575.0 138.9l1.9 -1.4l2.0 1.7l-1.9 0.4zM521.4 156.9l1.9 0.2l1.7 3.6l-1.9 -3.1zM519.4 164.1l1.9 -7.2l1.7 0.7l-1.9 7.5zM515.6 160.7l1.9 -2.1l1.7 3.2l-1.9 -1.3zM513.7 159.5l1.9 1.2l1.7 -0.2l-1.9 0.7zM511.8 162.5l1.9 -3.0l1.7 1.7l-1.9 3.1zM509.9 159.7l1.9 2.8l1.7 1.8l-1.9 -2.3zM507.9 160.7l1.9 -1.0l1.7 2.3l-1.9 3.6zM506.0 160.7l1.9 -0.1l1.6 4.9l-1.9 -0.2zM504.1 164.0l1.9 -3.3l1.6 4.7l-1.9 -0.2zM502.2 160.8l1.9 3.2l1.6 1.2l-1.9 2.0zM500.3 170.9l1.9 -10.1l1.6 6.3l-1.9 7.4z" stroke="#6284eb"/>
<path d="M580.7 137.1l1.9 2.2l2.0 1.2l-1.9 -0.6zM573.1 144.4l1.9 -5.5l2.0 0.8l-1.9 6.3zM534.8 154.7l1.9 1.4l1.8 2.7l-1.9 -0.3zM532.8 156.7l1.9 -2.0l1.8 3.8l-1.9 0.5zM530.9 156.1l1.9 0.5l1.8 2.3l-1.9 0.6zM529.0 157.4l1.9 -1.3l1.8 3.4l-1.9 -0.0zM527.1 159.9l1.9 -2.5l1.8 2.1l-1.9 1.7zM523.3 157.1l1.9 4.9l1.7 1.4l-1.9 -2.7zM517.5 158.6l1.9 5.5l1.7 0.9l-1.9 -3.3z" stroke="#687dea"/>
<path d="M571.2 145.1l1.9 -0.7l2.0 1.6l-1.9 0.5zM569.3 146.8l1.9 -1.8l2.0 1.4l-1.9 2.7zM548.2 153.6l1.9 2.6l1.9 1.8l-1.9 -0.1zM546.3 154.8l1.9 -1.3l1.9 4.3l-1.9 0.2zM540.5 157.9l1.9 -0.9l1.8 0.6l-1.9 3.7zM536.7 156.0l1.9 3.3l1.8 2.1l-1.9 -2.6zM525.2 162.0l1.9 -2.1l1.7 1.3l-1.9 2.1z" stroke="#6e76e8"/>
<path d="M567.3 150.2l1.9 -3.3l2.0 2.3l-1.9 2.0zM565.4 151.9l1.9 -1.7l2.0 0.9l-1.9 1.6zM563.5 151.4l1.9 0.5l2.0 0.7l-1.9 1.1zM561.6 155.7l1.9 -4.4l1.9 2.4l-1.9 3.0zM552.0 153.0l1.9 3.3l1.9 2.4l-1.9 -2.0zM550.1 156.2l1.9 -3.2l1.9 3.7l-1.9 1.2zM544.3 158.2l1.9 -3.4l1.9 3.2l-1.9 3.7zM542.4 157.0l1.9 1.2l1.8 3.5l-1.9 -4.1zM538.6 159.3l1.9 -1.4l1.8 3.5l-1.9 0.1zM498.4 175.2l1.9 -4.3l1.6 3.7l-1.9 3.7z" stroke="#7171e7"/>
<path d="M559.7 154.2l1.9 1.6l1.9 1.0l-1.9 1.2zM557.8 156.9l1.9 -2.7l1.9 3.8l-1.9 -1.7zM555.8 155.3l1.9 1.6l1.9 -0.7l-1.9 1.6zM553.9 156.3l1.9 -1.0l1.9 2.5l-1.9 0.9zM496.4 179.8l1.9 -4.5l1.6 3.0l-1.9 2.7z" stroke="#736de5"/>
<path d="M494.5 184.0l1.9 -4.3l1.6 1.2l-1.9 4.4z" stroke="#7669e2"/>
<path d="M492.6 188.3l1.9 -4.3l1.6 1.3l-1.9 4.4z" stroke="#7465df"/>
<path d="M490.7 190.2l1.9 -1.8l1.6 1.4l-1.9 1.9z" stroke="#7260dc"/>
<path d="M607.8 125.4l1.9 -6.7l2.2 6.2l-1.9 2.6zM605.9 119.9l1.9 5.5l2.2 2.1l-1.9 -2.7zM598.2 125.2l1.9 2.9l2.1 3.2l-1.9 -2.2zM596.3 129.2l1.9 -4.0l2.1 3.9l-1.9 1.4zM594.3 127.5l1.9 1.7l2.1 1.3l-1.9 0.3zM592.4 128.2l1.9 -0.7l2.1 3.3l-1.9 3.2z" stroke="#6096eb"/>
<path d="M604.0 125.5l1.9 -5.5l2.2 4.8l-1.9 2.4z" stroke="#5f9feb"/>
<path d="M602.0 127.4l1.9 -1.9l2.1 1.7l-1.9 1.8zM600.1 128.0l1.9 -0.7l2.1 1.6l-1.9 2.3zM590.5 130.8l1.9 -2.6l2.1 5.7l-1.9 1.2zM588.6 134.4l1.9 -3.6l2.1 4.4l-1.9 1.7z" stroke="#608deb"/>
<path d="M586.6 136.4l1.9 -2.0l2.1 2.5l-1.9 1.5zM578.9 139.2l1.9 1.1l2.0 2.5l-1.9 -1.0zM577.0 139.7l1.9 -0.4l2.0 2.7l-1.9 1.9zM523.1 157.6l1.9 3.1l1.7 0.4l-1.9 -0.7zM521.1 165.1l1.9 -7.5l1.7 2.8l-1.9 6.8zM517.3 160.5l1.9 1.3l1.7 1.1l-1.9 0.6zM515.4 161.2l1.9 -0.7l1.7 3.0l-1.9 0.6zM513.4 164.3l1.9 -3.1l1.7 2.9l-1.9 -0.4zM511.5 162.0l1.9 2.3l1.7 -0.6l-1.9 1.0zM509.6 165.6l1.9 -3.6l1.7 2.7l-1.9 1.0zM507.7 165.4l1.9 0.2l1.6 0.1l-1.9 0.2zM505.7 165.2l1.9 0.2l1.6 0.5l-1.9 0.2zM503.8 167.1l1.9 -2.0l1.6 0.9l-1.9 3.4z" stroke="#6284eb"/>
<path d="M584.7 140.6l1.9 -4.2l2.1 2.1l-1.9 3.4zM582.8 140.0l1.9 0.6l2.0 1.3l-1.9 0.7zM580.9 140.4l1.9 -0.4l2.0 2.6l-1.9 0.4zM575.1 146.0l1.9 -6.3l2.0 4.1l-1.9 1.7zM530.8 159.5l1.9 0.0l1.8 3.1l-1.9 -3.1zM528.9 161.2l1.9 -1.7l1.8 0.0l-1.9 1.8zM525.0 160.7l1.9 2.7l1.7 0.4l-1.9 -2.7zM519.2 161.8l1.9 3.3l1.7 2.0l-1.9 -4.2zM501.9 174.6l1.9 -7.4l1.6 2.3l-1.9 4.6z" stroke="#687dea"/>
<path d="M573.2 146.4l1.9 -0.5l2.0 -0.4l-1.9 3.3zM571.2 149.1l1.9 -2.7l2.0 2.4l-1.9 2.7zM538.5 158.8l1.9 2.6l1.8 0.1l-1.9 0.5zM536.6 158.4l1.9 0.3l1.8 3.2l-1.9 -0.7zM534.6 159.0l1.9 -0.5l1.8 2.9l-1.9 -0.0zM532.7 159.5l1.9 -0.6l1.8 2.3l-1.9 1.4zM526.9 163.3l1.9 -2.1l1.7 0.1l-1.9 2.4z" stroke="#6e76e8"/>
<path d="M569.3 151.1l1.9 -2.0l2.0 2.5l-1.9 1.7zM567.4 152.7l1.9 -1.6l2.0 2.2l-1.9 1.6zM565.4 153.7l1.9 -1.1l2.0 2.2l-1.9 -1.1zM563.5 156.7l1.9 -3.0l1.9 0.0l-1.9 2.9zM553.9 156.7l1.9 2.0l1.9 1.9l-1.9 -1.0zM552.0 157.9l1.9 -1.2l1.9 2.9l-1.9 -0.7zM550.0 157.9l1.9 0.1l1.9 1.0l-1.9 2.4zM548.1 158.0l1.9 -0.2l1.9 3.4l-1.9 -2.1zM546.2 161.7l1.9 -3.7l1.9 1.2l-1.9 2.8zM544.3 157.6l1.9 4.1l1.8 0.2l-1.9 -2.5zM542.3 161.3l1.9 -3.7l1.8 1.8l-1.9 4.9zM540.4 161.4l1.9 -0.1l1.8 2.9l-1.9 -2.8zM500.0 178.2l1.9 -3.7l1.6 -0.5l-1.9 4.1z" stroke="#7171e7"/>
<path d="M561.6 158.0l1.9 -1.2l1.9 -0.1l-1.9 3.8zM559.7 156.2l1.9 1.7l1.9 2.6l-1.9 -1.9zM557.7 157.8l1.9 -1.6l1.9 2.4l-1.9 -0.2zM555.8 158.7l1.9 -0.9l1.9 0.6l-1.9 2.2zM498.0 181.0l1.9 -2.7l1.6 -0.1l-1.9 4.7z" stroke="#736de5"/>
<path d="M496.1 185.4l1.9 -4.4l1.6 1.8l-1.9 4.5z" stroke="#7669e2"/>
<path d="M494.2 189.7l1.9 -4.4l1.6 2.0l-1.9 3.9z" stroke="#7465df"/>
<path d="M492.3 191.7l1.9 -1.9l1.6 1.5l-1.9 1.9z" stroke="#7260dc"/>
<path d="M610.0 127.5l1.9 -2.6l2.2 3.9l-1.9 0.5zM608.1 124.8l1.9 2.7l2.2 1.8l-1.9 -0.8zM604.2 129.0l1.9 -1.8l2.1 3.5l-1.9 2.9zM602.2 131.3l1.9 -2.3l2.1 4.6l-1.9 0.8zM600.3 129.1l1.9 2.2l2.1 3.2l-1.9 -0.8zM598.4 130.5l1.9 -1.4l2.1 4.6l-1.9 1.4zM596.4 130.8l1.9 -0.3l2.1 4.6l-1.9 -2.6zM594.5 134.0l1.9 -3.2l2.1 1.7l-1.9 2.9z" stroke="#608deb"/>
<path d="M606.1 127.2l1.9 -2.4l2.2 3.8l-1.9 2.2z" stroke="#6096eb"/>
<path d="M592.6 135.2l1.9 -1.2l2.1 1.5l-1.9 3.3zM590.6 136.9l1.9 -1.7l2.1 3.5l-1.9 1.1zM588.7 138.4l1.9 -1.5l2.1 3.0l-1.9 2.3zM524.8 160.3l1.9 0.7l1.7 2.4l-1.9 -1.5zM515.1 163.7l1.9 0.4l1.7 1.3l-1.9 0.7zM513.2 164.7l1.9 -1.0l1.7 2.4l-1.9 2.3zM509.3 165.9l1.9 -0.2l1.6 2.8l-1.9 0.7zM507.4 166.1l1.9 -0.2l1.6 3.3l-1.9 -1.1zM505.4 169.5l1.9 -3.4l1.6 2.1l-1.9 2.9z" stroke="#6284eb"/>
<path d="M586.8 141.9l1.9 -3.4l2.1 3.8l-1.9 1.6zM584.8 142.6l1.9 -0.7l2.0 1.9l-1.9 1.8zM582.9 142.9l1.9 -0.4l2.0 3.1l-1.9 0.1zM580.9 141.9l1.9 1.0l2.0 2.8l-1.9 -0.8zM579.0 143.8l1.9 -1.9l2.0 3.0l-1.9 -0.6zM577.1 145.5l1.9 -1.7l2.0 0.5l-1.9 3.8zM532.5 159.5l1.9 3.1l1.8 0.5l-1.9 -0.5zM530.6 161.4l1.9 -1.8l1.8 3.1l-1.9 0.0zM528.7 163.8l1.9 -2.4l1.7 1.3l-1.9 2.9zM526.7 161.1l1.9 2.7l1.7 1.8l-1.9 -2.1zM522.9 167.1l1.9 -6.8l1.7 1.6l-1.9 6.2zM520.9 162.9l1.9 4.2l1.7 1.1l-1.9 -2.8zM519.0 163.4l1.9 -0.6l1.7 2.6l-1.9 -1.1zM517.0 164.1l1.9 -0.6l1.7 0.9l-1.9 1.0zM511.2 165.7l1.9 -1.0l1.7 3.7l-1.9 0.1zM503.5 174.1l1.9 -4.6l1.6 1.6l-1.9 4.8z" stroke="#687dea"/>
<path d="M575.1 148.9l1.9 -3.3l2.0 2.5l-1.9 5.1zM538.3 161.3l1.9 0.7l1.8 2.4l-1.9 0.1zM536.4 161.3l1.9 0.0l1.8 3.2l-1.9 -2.2zM534.5 162.7l1.9 -1.4l1.8 1.0l-1.9 0.8z" stroke="#6e76e8"/>
<path d="M573.2 151.6l1.9 -2.7l2.0 4.3l-1.9 1.4zM571.3 153.3l1.9 -1.7l2.0 2.9l-1.9 -1.5zM569.3 154.9l1.9 -1.6l2.0 -0.3l-1.9 3.3zM567.4 153.8l1.9 1.1l2.0 1.5l-1.9 -0.7zM565.5 156.7l1.9 -2.9l1.9 1.9l-1.9 2.0zM553.8 158.9l1.9 0.7l1.9 3.4l-1.9 -1.5zM551.9 161.3l1.9 -2.4l1.9 2.6l-1.9 1.7zM550.0 159.2l1.9 2.1l1.9 1.9l-1.9 -2.8zM548.0 161.9l1.9 -2.8l1.9 1.2l-1.9 4.6zM546.1 159.4l1.9 2.5l1.8 3.0l-1.9 -2.2zM544.2 164.3l1.9 -4.9l1.8 3.3l-1.9 2.9zM542.2 161.5l1.9 2.8l1.8 1.3l-1.9 -3.3zM540.3 162.0l1.9 -0.5l1.8 0.8l-1.9 2.1zM501.6 178.2l1.9 -4.1l1.6 1.8l-1.9 5.2z" stroke="#7171e7"/>
<path d="M563.5 160.5l1.9 -3.8l1.9 1.0l-1.9 3.7zM561.6 158.6l1.9 1.9l1.9 0.8l-1.9 -1.3zM559.6 158.4l1.9 0.2l1.9 1.5l-1.9 -1.4zM557.7 160.6l1.9 -2.2l1.9 0.2l-1.9 3.5zM555.8 159.6l1.9 1.0l1.9 1.6l-1.9 0.8zM499.6 182.8l1.9 -4.7l1.6 2.9l-1.9 2.8z" stroke="#736de5"/>
<path d="M497.7 187.3l1.9 -4.5l1.6 1.0l-1.9 5.5z" stroke="#7669e2"/>
<path d="M495.7 191.2l1.9 -3.9l1.6 2.0l-1.9 3.5z" stroke="#7465df"/>
<path d="M493.8 193.1l1.9 -1.9l1.6 1.7l-1.9 1.7z" stroke="#7260dc"/>
<path d="M612.2 129.3l1.9 -0.5l2.2 2.3l-2.0 1.7zM606.3 133.6l1.9 -2.9l2.1 3.5l-2.0 2.3zM604.4 134.5l1.9 -0.8l2.1 2.9l-2.0 0.5zM602.4 133.7l1.9 0.8l2.1 2.5l-2.0 -0.9zM600.5 135.1l1.9 -1.4l2.1 2.4l-2.0 0.7zM594.6 138.7l1.9 -3.3l2.1 2.4l-2.0 3.1zM516.8 166.1l1.9 -0.7l1.7 1.4l-2.0 -0.6zM514.8 168.4l1.9 -2.3l1.7 0.1l-2.0 4.2z" stroke="#6284eb"/>
<path d="M610.2 128.5l1.9 0.8l2.2 3.5l-2.0 -0.5zM608.3 130.7l1.9 -2.2l2.2 3.7l-2.0 2.0zM598.5 132.5l1.9 2.6l2.1 1.7l-2.0 -0.5zM596.6 135.4l1.9 -2.9l2.1 3.8l-2.0 1.6z" stroke="#608deb"/>
<path d="M592.7 139.9l1.9 -1.1l2.1 2.2l-2.0 2.1zM590.7 142.2l1.9 -2.3l2.1 3.1l-2.0 0.6zM588.8 143.8l1.9 -1.6l2.1 1.4l-2.0 1.8zM581.0 144.3l1.9 0.6l2.0 1.5l-2.0 1.8zM579.1 148.1l1.9 -3.8l2.0 4.0l-2.0 2.3zM532.3 162.6l1.9 -0.0l1.8 1.8l-2.0 2.2zM528.5 163.4l1.9 2.1l1.7 2.2l-2.0 -2.1zM526.5 161.9l1.9 1.5l1.7 2.2l-2.0 -0.1zM524.6 168.2l1.9 -6.2l1.7 3.6l-2.0 3.2zM522.6 165.4l1.9 2.8l1.7 0.5l-2.0 -2.5zM520.7 164.3l1.9 1.1l1.7 0.8l-2.0 1.9zM518.7 165.4l1.9 -1.0l1.7 3.8l-2.0 -1.4zM512.9 168.5l1.9 -0.1l1.7 2.0l-2.0 0.6zM510.9 169.2l1.9 -0.7l1.6 2.4l-2.0 0.4zM509.0 168.2l1.9 1.1l1.6 2.1l-2.0 -1.2zM507.0 171.1l1.9 -2.9l1.6 1.9l-2.0 4.5z" stroke="#687dea"/>
<path d="M586.9 145.6l1.9 -1.8l2.0 1.6l-2.0 2.4zM584.9 145.7l1.9 -0.1l2.0 2.1l-2.0 1.8zM583.0 144.9l1.9 0.8l2.0 3.9l-2.0 -3.2zM577.1 153.2l1.9 -5.1l2.0 2.5l-2.0 4.0zM538.2 162.3l1.9 2.2l1.8 2.5l-2.0 -2.9zM536.2 163.1l1.9 -0.8l1.8 1.8l-2.0 2.2zM534.3 162.6l1.9 0.5l1.8 3.2l-2.0 -1.9zM530.4 165.5l1.9 -2.9l1.7 4.0l-2.0 1.1zM505.1 175.9l1.9 -4.8l1.6 3.5l-2.0 3.5z" stroke="#6e76e8"/>
<path d="M575.2 154.5l1.9 -1.4l2.0 1.4l-2.0 0.2zM573.2 153.0l1.9 1.5l2.0 0.3l-2.0 -1.9zM571.3 156.4l1.9 -3.3l2.0 -0.1l-2.0 5.9zM569.3 155.7l1.9 0.7l2.0 2.4l-2.0 -2.0zM567.4 157.6l1.9 -2.0l1.9 1.1l-2.0 1.7zM551.8 160.4l1.9 2.8l1.9 1.8l-2.0 -0.6zM549.9 164.9l1.9 -4.6l1.9 4.1l-2.0 1.6zM547.9 162.7l1.9 2.2l1.8 1.0l-2.0 -2.5zM546.0 165.6l1.9 -2.9l1.8 0.7l-2.0 7.0zM544.0 162.3l1.9 3.3l1.8 4.8l-2.0 -6.8zM542.1 164.4l1.9 -2.1l1.8 1.3l-2.0 3.3zM540.1 164.5l1.9 -0.1l1.8 2.5l-2.0 0.0zM503.2 181.1l1.9 -5.2l1.6 2.2l-2.0 5.1z" stroke="#7171e7"/>
<path d="M565.4 161.4l1.9 -3.7l1.9 0.8l-2.0 5.2zM563.5 160.1l1.9 1.3l1.9 2.3l-2.0 -2.8zM561.5 158.7l1.9 1.4l1.9 0.9l-2.0 1.0zM559.6 162.2l1.9 -3.5l1.9 3.3l-2.0 2.6zM557.7 163.0l1.9 -0.8l1.9 2.3l-2.0 1.1zM555.7 161.5l1.9 1.5l1.9 2.6l-2.0 -1.7zM553.8 163.2l1.9 -1.7l1.9 2.4l-2.0 1.1zM501.2 183.8l1.9 -2.8l1.6 2.2l-2.0 2.6z" stroke="#736de5"/>
<path d="M499.3 189.4l1.9 -5.5l1.6 2.0l-2.0 4.7z" stroke="#7669e2"/>
<path d="M497.3 192.9l1.9 -3.5l1.6 1.2l-2.0 3.7z" stroke="#7465df"/>
<path d="M495.4 194.6l1.9 -1.7l1.6 1.4l-2.0 1.8z" stroke="#7260dc"/>
<path d="M614.3 132.8l2.0 -1.7l2.2 5.1l-2.0 -1.9zM612.4 132.3l2.0 0.5l2.2 1.5l-2.0 0.1zM610.4 134.2l2.0 -2.0l2.2 2.1l-2.0 1.8zM608.5 136.5l2.0 -2.3l2.1 1.9l-2.0 2.9zM602.6 136.8l2.0 -0.7l2.1 4.4l-2.0 0.2zM600.6 136.3l2.0 0.5l2.1 3.9l-2.0 -1.2zM598.7 137.9l2.0 -1.6l2.1 3.2l-2.0 0.8zM596.7 141.0l2.0 -3.1l2.1 2.4l-2.0 4.1zM518.4 166.2l2.0 0.6l1.7 2.6l-2.0 -0.2zM516.5 170.4l2.0 -4.2l1.7 2.9l-2.0 0.7z" stroke="#6284eb"/>
<path d="M606.5 137.0l2.0 -0.5l2.1 2.5l-2.0 0.9zM604.5 136.1l2.0 0.9l2.1 2.9l-2.0 0.6zM594.8 143.0l2.0 -2.1l2.1 3.4l-2.0 0.6zM528.2 165.6l2.0 0.1l1.7 2.8l-2.0 -1.1zM526.3 168.7l2.0 -3.2l1.7 1.7l-2.0 3.9zM524.3 166.3l2.0 2.5l1.7 2.5l-2.0 -1.2zM522.4 168.2l2.0 -1.9l1.7 3.8l-2.0 -1.3zM520.4 166.7l2.0 1.4l1.7 0.6l-2.0 0.6zM514.5 171.0l2.0 -0.6l1.7 -0.6l-2.0 1.0zM512.6 171.3l2.0 -0.4l1.6 -0.2l-2.0 3.6zM510.6 170.1l2.0 1.2l1.6 3.0l-2.0 -2.6zM508.7 174.6l2.0 -4.5l1.6 1.6l-2.0 5.0z" stroke="#687dea"/>
<path d="M592.8 143.6l2.0 -0.6l2.1 2.0l-2.0 3.2zM590.8 145.4l2.0 -1.8l2.1 4.6l-2.0 -0.9zM588.9 147.8l2.0 -2.4l2.0 2.0l-2.0 5.2zM585.0 146.4l2.0 3.2l2.0 1.6l-2.0 -2.4zM583.0 148.3l2.0 -1.8l2.0 2.3l-2.0 1.7zM581.1 150.6l2.0 -2.3l2.0 2.2l-2.0 2.5zM540.0 164.1l2.0 2.9l1.8 1.2l-2.0 -2.4zM538.0 166.3l2.0 -2.2l1.8 1.7l-2.0 2.6zM536.1 164.4l2.0 1.9l1.8 2.1l-2.0 -1.6zM534.1 166.6l2.0 -2.2l1.8 2.3l-2.0 0.4zM532.1 167.7l2.0 -1.1l1.7 0.5l-2.0 1.3zM530.2 165.6l2.0 2.1l1.7 0.7l-2.0 -0.0zM506.7 178.1l2.0 -3.5l1.6 2.1l-2.0 0.6z" stroke="#6e76e8"/>
<path d="M586.9 149.6l2.0 -1.8l2.0 4.8l-2.0 -1.4zM579.1 154.6l2.0 -4.0l2.0 2.3l-2.0 2.2zM577.1 154.8l2.0 -0.2l2.0 0.6l-2.0 1.8zM575.2 152.9l2.0 1.9l2.0 2.1l-2.0 -0.4zM573.2 158.8l2.0 -5.9l2.0 3.6l-2.0 2.1zM571.3 156.8l2.0 2.0l2.0 -0.2l-2.0 -0.4zM569.3 158.5l2.0 -1.7l1.9 1.4l-2.0 2.4zM549.8 163.4l2.0 2.5l1.8 3.0l-2.0 -3.5zM547.8 170.4l2.0 -7.0l1.8 2.1l-2.0 3.0zM545.8 163.6l2.0 6.8l1.8 -1.9l-2.0 -2.2zM543.9 166.9l2.0 -3.3l1.8 2.7l-2.0 2.0zM541.9 167.0l2.0 -0.0l1.8 1.4l-2.0 -0.2zM504.7 183.2l2.0 -5.1l1.6 -0.7l-2.0 6.5z" stroke="#7171e7"/>
<path d="M567.4 163.7l2.0 -5.2l1.9 2.0l-2.0 4.7zM565.4 160.9l2.0 2.8l1.9 1.5l-2.0 -3.5zM563.5 161.9l2.0 -1.0l1.9 0.8l-2.0 1.1zM561.5 164.5l2.0 -2.6l1.9 0.9l-2.0 1.4zM559.5 165.6l2.0 -1.1l1.9 -0.3l-2.0 5.1zM557.6 163.9l2.0 1.7l1.9 3.8l-2.0 -4.4zM555.6 165.0l2.0 -1.1l1.9 1.0l-2.0 3.2zM553.7 164.4l2.0 0.6l1.9 3.2l-2.0 -3.9zM551.7 166.0l2.0 -1.6l1.9 -0.2l-2.0 4.8zM502.8 185.9l2.0 -2.6l1.6 0.7l-2.0 4.0z" stroke="#736de5"/>
<path d="M500.8 190.6l2.0 -4.7l1.6 2.0l-2.0 4.7z" stroke="#7669e2"/>
<path d="M498.9 194.3l2.0 -3.7l1.6 2.0l-2.0 3.3zM496.9 196.1l2.0 -1.8l1.6 1.7l-2.0 1.6z" stroke="#7260dc"/>
<path d="M616.5 134.3l2.0 1.9l2.2 1.7l-2.0 0.8zM614.5 134.4l2.0 -0.1l2.2 4.3l-2.0 1.5zM612.6 136.2l2.0 -1.8l2.2 5.8l-2.0 0.5zM610.6 139.0l2.0 -2.9l2.1 4.5l-2.0 1.7zM608.6 139.9l2.0 -0.9l2.1 3.3l-2.0 -1.6zM606.7 140.5l2.0 -0.6l2.1 0.9l-2.0 1.2zM604.7 140.7l2.0 -0.2l2.1 1.5l-2.0 1.9zM602.7 139.5l2.0 1.2l2.1 3.2l-2.0 -1.4zM600.8 140.3l2.0 -0.8l2.1 2.9l-2.0 2.5zM598.8 144.4l2.0 -4.1l2.1 4.6l-2.0 4.5zM529.9 167.3l2.0 1.1l1.7 2.0l-2.0 -0.0zM524.0 168.8l2.0 1.3l1.7 0.3l-2.0 2.0zM522.1 169.3l2.0 -0.6l1.7 3.6l-2.0 -1.1zM520.1 169.1l2.0 0.2l1.7 2.0l-2.0 1.6zM518.1 169.8l2.0 -0.7l1.7 3.7l-2.0 0.8zM516.2 170.7l2.0 -1.0l1.7 3.9l-2.0 2.5zM514.2 174.3l2.0 -3.6l1.6 5.4l-2.0 0.3zM512.2 171.7l2.0 2.6l1.6 2.1l-2.0 -2.1zM510.3 176.8l2.0 -5.0l1.6 2.6l-2.0 4.0z" stroke="#687dea"/>
<path d="M596.8 145.1l2.0 -0.6l2.1 5.0l-2.0 -1.3zM594.9 148.2l2.0 -3.2l2.1 3.1l-2.0 3.1zM592.9 147.4l2.0 0.9l2.1 3.0l-2.0 -2.0zM590.9 152.6l2.0 -5.2l2.0 1.9l-2.0 5.2zM587.0 148.7l2.0 2.4l2.0 2.3l-2.0 -1.9zM585.0 150.5l2.0 -1.7l2.0 2.9l-2.0 0.9zM583.1 152.9l2.0 -2.5l2.0 2.0l-2.0 2.2zM539.8 168.4l2.0 -2.6l1.8 3.1l-2.0 0.9zM537.8 166.8l2.0 1.6l1.8 1.3l-2.0 -0.8zM535.8 167.1l2.0 -0.4l1.8 2.2l-2.0 -0.6zM533.9 168.4l2.0 -1.3l1.8 1.2l-2.0 3.6zM531.9 168.4l2.0 0.0l1.7 3.5l-2.0 -1.5zM528.0 171.2l2.0 -3.9l1.7 3.2l-2.0 1.5zM526.0 170.0l2.0 1.2l1.7 0.7l-2.0 -1.6zM508.3 177.4l2.0 -0.6l1.6 1.5l-2.0 1.8z" stroke="#6e76e8"/>
<path d="M589.0 151.2l2.0 1.4l2.0 1.9l-2.0 -1.0zM581.1 155.1l2.0 -2.2l2.0 1.8l-2.0 1.5zM579.1 156.9l2.0 -1.8l2.0 1.0l-2.0 4.8zM577.2 156.5l2.0 0.4l2.0 4.1l-2.0 -2.6zM575.2 158.6l2.0 -2.1l2.0 1.9l-2.0 3.1zM573.2 158.1l2.0 0.4l2.0 2.8l-2.0 0.2zM571.3 160.5l2.0 -2.4l1.9 3.5l-2.0 -0.3zM549.6 168.5l2.0 -3.0l1.8 2.3l-2.0 4.2zM547.7 166.3l2.0 2.2l1.8 3.6l-2.0 -4.1zM545.7 168.4l2.0 -2.0l1.8 1.6l-2.0 2.2zM543.7 168.2l2.0 0.2l1.8 1.7l-2.0 3.0zM541.7 165.8l2.0 2.4l1.8 5.0l-2.0 -4.3zM506.3 183.9l2.0 -6.5l1.6 2.7l-2.0 6.6z" stroke="#7171e7"/>
<path d="M569.3 165.2l2.0 -4.7l1.9 0.9l-2.0 6.0zM567.3 161.7l2.0 3.5l1.9 2.2l-2.0 -3.9zM565.4 162.9l2.0 -1.1l1.9 1.7l-2.0 -0.2zM563.4 164.2l2.0 -1.4l1.9 0.3l-2.0 2.5zM561.4 169.4l2.0 -5.1l1.9 1.5l-2.0 4.3zM559.5 164.9l2.0 4.4l1.9 0.6l-2.0 -1.9zM557.5 168.2l2.0 -3.2l1.9 3.1l-2.0 1.4zM555.5 164.3l2.0 3.9l1.9 1.3l-2.0 -1.7zM553.6 169.0l2.0 -4.8l1.9 3.5l-2.0 3.2zM551.6 165.5l2.0 3.5l1.8 2.0l-2.0 -3.1zM504.4 187.9l2.0 -4.0l1.6 2.7l-2.0 3.3z" stroke="#736de5"/>
<path d="M502.4 192.6l2.0 -4.7l1.6 2.0l-2.0 4.2z" stroke="#7669e2"/>
<path d="M500.4 196.0l2.0 -3.3l1.6 1.5l-2.0 3.2zM498.5 197.6l2.0 -1.6l1.6 1.4l-2.0 1.7z" stroke="#7260dc"/>
<path d="M618.7 138.7l2.0 -0.8l2.2 1.6l-2.0 0.4zM608.8 142.0l2.0 -1.2l2.1 4.3l-2.0 0.7zM604.8 142.5l2.0 1.4l2.1 2.1l-2.0 0.5zM602.8 144.9l2.0 -2.5l2.1 4.0l-2.0 -0.8zM525.7 172.3l2.0 -2.0l1.8 3.5l-2.0 -0.6zM523.8 171.3l2.0 1.1l1.8 0.9l-2.0 -0.2zM521.8 172.9l2.0 -1.6l1.8 1.7l-2.0 1.1zM519.8 173.6l2.0 -0.8l1.8 1.3l-2.0 1.8zM513.9 174.3l2.0 2.1l1.8 1.0l-2.0 -1.5zM511.9 178.3l2.0 -4.0l1.8 1.6l-2.0 5.7z" stroke="#687dea"/>
<path d="M616.7 140.2l2.0 -1.5l2.2 1.3l-2.0 2.1zM614.7 140.7l2.0 -0.5l2.2 1.9l-2.0 0.4zM612.7 142.3l2.0 -1.7l2.2 1.8l-2.0 3.0zM610.8 140.8l2.0 1.6l2.1 3.1l-2.0 -0.4zM606.8 143.9l2.0 -1.9l2.1 3.8l-2.0 0.2zM600.9 149.4l2.0 -4.5l2.1 0.8l-2.0 4.8zM598.9 148.1l2.0 1.3l2.1 1.1l-2.0 0.6zM587.0 152.4l2.0 -0.9l2.1 3.0l-2.0 1.2zM537.6 168.4l2.0 0.6l1.9 2.8l-2.0 1.6zM535.6 172.0l2.0 -3.6l1.9 5.0l-2.0 0.2zM533.6 170.5l2.0 1.5l1.9 1.6l-2.0 -1.4zM531.7 170.4l2.0 0.0l1.9 1.7l-2.0 -0.6zM529.7 171.9l2.0 -1.5l1.8 1.1l-2.0 3.0zM527.7 170.3l2.0 1.6l1.8 2.7l-2.0 -0.7zM517.8 176.1l2.0 -2.5l1.8 2.3l-2.0 0.8zM515.9 176.4l2.0 -0.3l1.8 0.6l-2.0 0.6zM509.9 180.1l2.0 -1.8l1.8 3.2l-2.0 1.0z" stroke="#6e76e8"/>
<path d="M596.9 151.2l2.0 -3.1l2.1 3.1l-2.0 2.7zM594.9 149.2l2.0 2.0l2.1 2.6l-2.0 -0.5zM593.0 154.4l2.0 -5.2l2.1 4.2l-2.0 2.9zM591.0 153.4l2.0 1.0l2.1 1.9l-2.0 -0.1zM589.0 151.6l2.0 1.9l2.1 2.8l-2.0 -1.6zM585.1 154.7l2.0 -2.2l2.1 3.3l-2.0 1.4zM583.1 156.1l2.0 -1.5l2.0 2.5l-2.0 3.3zM581.1 161.0l2.0 -4.8l2.0 4.4l-2.0 0.3zM549.5 168.0l2.0 4.1l1.9 -0.0l-2.0 -2.2zM547.5 170.1l2.0 -2.2l1.9 1.9l-2.0 2.1zM543.5 168.9l2.0 4.3l1.9 1.3l-2.0 -4.7zM541.6 169.7l2.0 -0.9l1.9 0.9l-2.0 4.6zM539.6 168.9l2.0 0.8l1.9 4.6l-2.0 -2.7zM507.9 186.7l2.0 -6.6l1.8 2.4l-2.0 6.0z" stroke="#7171e7"/>
<path d="M579.1 158.4l2.0 2.6l2.0 -0.2l-2.0 1.3zM577.1 161.4l2.0 -3.1l2.0 3.8l-2.0 2.8zM575.2 161.7l2.0 -0.2l2.0 3.5l-2.0 -1.0zM573.2 161.4l2.0 0.3l2.0 2.2l-2.0 0.2zM571.2 167.3l2.0 -6.0l2.0 2.7l-2.0 5.2zM569.2 163.4l2.0 3.9l2.0 1.9l-2.0 -4.5zM567.3 163.2l2.0 0.2l2.0 1.3l-2.0 1.2zM565.3 165.7l2.0 -2.5l2.0 2.7l-2.0 3.3zM561.3 168.1l2.0 1.9l2.0 2.2l-2.0 -4.6zM559.3 169.5l2.0 -1.4l2.0 -0.5l-2.0 4.4zM557.4 167.8l2.0 1.7l2.0 2.5l-2.0 -3.7zM555.4 171.0l2.0 -3.2l1.9 0.4l-2.0 3.8zM553.4 167.8l2.0 3.1l1.9 1.0l-2.0 -2.7zM551.4 172.1l2.0 -4.2l1.9 1.5l-2.0 2.7zM545.5 173.1l2.0 -3.0l1.9 1.8l-2.0 2.5z" stroke="#736de5"/>
<path d="M563.3 169.9l2.0 -4.3l2.0 3.5l-2.0 2.9zM506.0 190.0l2.0 -3.3l1.8 1.8l-2.0 3.7z" stroke="#7669e2"/>
<path d="M504.0 194.2l2.0 -4.2l1.8 2.3l-2.0 3.3z" stroke="#7465df"/>
<path d="M502.0 197.4l2.0 -3.2l1.7 1.4l-2.0 3.3zM500.0 199.0l2.0 -1.7l1.7 1.4l-2.0 1.6z" stroke="#7260dc"/>
<path d="M620.8 140.0l2.0 -0.4l2.2 3.3l-2.0 -1.8zM618.8 142.1l2.0 -2.1l2.2 1.1l-2.0 2.1zM616.9 142.4l2.0 -0.4l2.2 1.1l-2.0 -0.2zM614.9 145.5l2.0 -3.0l2.2 0.6l-2.0 2.7zM612.9 145.0l2.0 0.4l2.1 0.3l-2.0 2.1zM610.9 145.8l2.0 -0.7l2.1 2.8l-2.0 -1.0zM608.9 146.0l2.0 -0.2l2.1 1.1l-2.0 1.3zM606.9 146.5l2.0 -0.5l2.1 2.2l-2.0 -1.1zM605.0 145.7l2.0 0.8l2.1 0.6l-2.0 3.0zM603.0 150.6l2.0 -4.8l2.1 4.4l-2.0 3.1zM535.5 172.2l2.0 1.4l1.9 1.9l-2.0 -1.4zM533.5 171.6l2.0 0.6l1.9 1.8l-2.0 -1.0zM531.5 174.6l2.0 -3.0l1.8 1.4l-2.0 2.2zM529.5 173.9l2.0 0.7l1.8 0.6l-2.0 1.8zM527.6 173.2l2.0 0.6l1.8 3.1l-2.0 -2.7zM521.6 175.9l2.0 -1.8l1.8 2.0l-2.0 2.3zM519.6 176.7l2.0 -0.8l1.8 2.5l-2.0 0.3zM517.6 177.3l2.0 -0.6l1.8 2.0l-2.0 2.9zM513.7 181.5l2.0 -5.7l1.8 4.4l-2.0 3.1z" stroke="#6e76e8"/>
<path d="M601.0 151.2l2.0 -0.6l2.1 2.7l-2.0 -2.5zM599.0 153.9l2.0 -2.7l2.1 -0.5l-2.0 4.0zM597.0 153.4l2.0 0.5l2.1 0.8l-2.0 -0.8zM595.0 156.3l2.0 -2.9l2.1 0.4l-2.0 3.5zM591.1 154.6l2.0 1.6l2.1 0.8l-2.0 -1.6zM589.1 155.8l2.0 -1.2l2.1 0.7l-2.0 0.8zM587.1 157.2l2.0 -1.4l2.1 0.3l-2.0 3.3zM585.1 160.5l2.0 -3.3l2.0 2.2l-2.0 1.4zM549.4 171.9l2.0 -2.1l1.9 2.3l-2.0 0.1zM545.4 169.7l2.0 4.7l1.9 -0.4l-2.0 -2.4zM543.4 174.3l2.0 -4.6l1.9 1.9l-2.0 3.3zM541.5 171.7l2.0 2.7l1.9 0.6l-2.0 -2.5zM539.5 173.3l2.0 -1.6l1.9 0.7l-2.0 2.2zM537.5 173.6l2.0 -0.2l1.9 1.3l-2.0 0.8zM511.7 182.5l2.0 -1.0l1.8 1.8l-2.0 2.1zM509.7 188.5l2.0 -6.0l1.8 2.9l-2.0 3.8z" stroke="#7171e7"/>
<path d="M593.0 156.2l2.0 0.1l2.1 1.1l-2.0 -0.4zM583.1 160.8l2.0 -0.3l2.0 0.3l-2.0 3.1zM581.1 162.1l2.0 -1.3l2.0 3.1l-2.0 -1.6zM579.2 164.9l2.0 -2.8l2.0 0.2l-2.0 2.2zM577.2 163.8l2.0 1.0l2.0 -0.4l-2.0 0.9zM575.2 164.1l2.0 -0.2l2.0 1.6l-2.0 -0.2zM573.2 169.3l2.0 -5.2l2.0 1.2l-2.0 4.9zM571.2 164.7l2.0 4.5l2.0 0.9l-2.0 -3.7zM569.2 165.9l2.0 -1.2l2.0 1.8l-2.0 1.9zM567.3 169.2l2.0 -3.3l2.0 2.5l-2.0 3.2zM563.3 167.5l2.0 4.6l2.0 0.7l-2.0 -2.3zM561.3 172.0l2.0 -4.4l2.0 3.0l-2.0 4.6zM559.3 168.2l2.0 3.7l2.0 3.1l-2.0 -2.1zM557.3 172.0l2.0 -3.8l1.9 4.7l-2.0 0.1zM555.3 169.3l2.0 2.7l1.9 1.0l-2.0 0.3zM553.4 172.0l2.0 -2.7l1.9 4.0l-2.0 0.2zM551.4 169.9l2.0 2.2l1.9 1.5l-2.0 -1.4zM547.4 174.4l2.0 -2.5l1.9 0.4l-2.0 1.7z" stroke="#736de5"/>
<path d="M565.3 172.1l2.0 -2.9l2.0 2.4l-2.0 1.2zM507.7 192.3l2.0 -3.7l1.8 0.6l-2.0 4.0z" stroke="#7669e2"/>
<path d="M525.6 173.0l2.0 0.2l1.8 1.0l-2.0 1.8zM523.6 174.1l2.0 -1.1l1.8 3.0l-2.0 0.2zM515.7 175.8l2.0 1.5l1.8 4.3l-2.0 -1.4z" stroke="#687dea"/>
<path d="M505.7 195.5l2.0 -3.3l1.8 0.9l-2.0 4.4z" stroke="#7465df"/>
<path d="M503.7 198.8l2.0 -3.3l1.7 2.1l-2.0 2.8zM501.8 200.5l2.0 -1.6l1.7 1.6l-2.0 1.5z" stroke="#7260dc"/>
<path d="M623.0 141.1l2.0 1.8l2.2 1.9l-2.0 0.8zM621.0 143.2l2.0 -2.1l2.2 4.5l-2.0 -0.7zM619.0 143.0l2.0 0.2l2.2 1.7l-2.0 1.3zM617.0 145.7l2.0 -2.7l2.2 3.2l-2.0 3.0zM615.0 147.9l2.0 -2.1l2.1 3.4l-2.0 -1.5zM613.0 146.9l2.0 1.0l2.1 -0.2l-2.0 1.6zM611.1 148.2l2.0 -1.3l2.1 2.4l-2.0 1.0zM609.1 147.1l2.0 1.1l2.1 2.0l-2.0 -0.2zM607.1 150.2l2.0 -3.0l2.1 3.0l-2.0 1.5zM535.4 173.0l2.0 1.0l1.9 2.7l-2.0 -1.0zM533.4 175.2l2.0 -2.2l1.8 2.7l-2.0 2.3zM531.4 176.9l2.0 -1.8l1.8 2.8l-2.0 -0.3zM529.4 174.2l2.0 2.7l1.8 0.7l-2.0 1.2zM527.4 176.0l2.0 -1.8l1.8 4.7l-2.0 -0.5zM525.4 176.1l2.0 -0.2l1.8 2.4l-2.0 -1.3zM523.4 178.4l2.0 -2.3l1.8 0.9l-2.0 2.5zM521.4 178.7l2.0 -0.3l1.8 1.1l-2.0 2.2zM519.4 181.6l2.0 -2.9l1.8 3.0l-2.0 1.8zM517.4 180.2l2.0 1.4l1.8 1.8l-2.0 -0.4zM515.4 183.3l2.0 -3.1l1.8 2.9l-2.0 3.0z" stroke="#6e76e8"/>
<path d="M605.1 153.2l2.0 -3.1l2.1 1.4l-2.0 1.9zM603.1 150.7l2.0 2.5l2.1 0.2l-2.0 -0.0zM601.1 154.7l2.0 -4.0l2.1 2.7l-2.0 2.9zM599.1 153.9l2.0 0.8l2.1 1.6l-2.0 0.8zM597.1 157.4l2.0 -3.5l2.1 3.2l-2.0 1.6zM593.1 155.3l2.0 1.6l2.1 1.7l-2.0 0.9zM591.1 156.1l2.0 -0.8l2.1 4.2l-2.0 -3.3zM589.1 159.4l2.0 -3.3l2.1 0.1l-2.0 2.6zM587.1 160.8l2.0 -1.4l2.0 -0.5l-2.0 3.7zM547.3 171.6l2.0 2.4l1.9 3.1l-2.0 -2.8zM545.3 174.9l2.0 -3.3l1.9 2.8l-2.0 2.0zM543.3 172.4l2.0 2.5l1.9 1.4l-2.0 -1.2zM541.3 174.6l2.0 -2.2l1.9 2.8l-2.0 1.0zM539.3 175.4l2.0 -0.8l1.9 1.5l-2.0 -0.1zM537.4 174.0l2.0 1.4l1.9 0.7l-2.0 0.6zM513.5 185.4l2.0 -2.1l1.8 2.8l-2.0 1.6z" stroke="#7171e7"/>
<path d="M595.1 157.0l2.0 0.4l2.1 1.3l-2.0 -0.0zM585.2 163.9l2.0 -3.1l2.0 1.8l-2.0 3.2zM583.2 162.3l2.0 1.6l2.0 1.9l-2.0 1.1zM581.2 164.5l2.0 -2.2l2.0 4.6l-2.0 0.6zM579.2 165.4l2.0 -0.9l2.0 3.0l-2.0 -0.4zM577.2 165.2l2.0 0.2l2.0 1.7l-2.0 0.8zM573.2 166.5l2.0 3.7l2.0 2.7l-2.0 -4.5zM571.2 168.4l2.0 -1.9l2.0 1.9l-2.0 3.4zM559.3 173.0l2.0 -0.1l1.9 0.2l-2.0 0.6zM557.3 173.3l2.0 -0.3l1.9 0.7l-2.0 0.2zM555.3 173.5l2.0 -0.2l1.9 0.6l-2.0 0.6zM553.3 172.2l2.0 1.4l1.9 1.0l-2.0 0.3zM551.3 172.3l2.0 -0.1l1.9 2.7l-2.0 -1.2zM549.3 174.0l2.0 -1.7l1.9 1.3l-2.0 3.6zM511.5 189.2l2.0 -3.8l1.8 2.3l-2.0 2.4z" stroke="#736de5"/>
<path d="M575.2 170.2l2.0 -4.9l2.0 2.6l-2.0 5.0zM569.2 171.6l2.0 -3.2l2.0 3.3l-2.0 1.1zM567.2 172.8l2.0 -1.2l2.0 1.2l-2.0 1.1zM565.2 170.5l2.0 2.3l2.0 1.1l-2.0 -2.7zM563.2 175.1l2.0 -4.6l2.0 0.7l-2.0 3.9zM561.3 172.9l2.0 2.1l2.0 0.1l-2.0 -2.0zM509.5 193.2l2.0 -4.0l1.8 1.0l-2.0 4.6z" stroke="#7669e2"/>
<path d="M507.5 197.6l2.0 -4.4l1.8 1.6l-2.0 4.5z" stroke="#7465df"/>
<path d="M505.5 200.4l2.0 -2.8l1.7 1.7l-2.0 2.6zM503.5 201.9l2.0 -1.5l1.7 1.5l-2.0 1.4z" stroke="#7260dc"/>
<path d="M625.2 145.6l2.0 -0.8l2.2 2.4l-2.0 0.6zM617.2 147.7l2.0 1.5l2.1 1.3l-2.0 0.3zM613.2 150.2l2.0 -1.0l2.1 2.6l-2.0 2.2zM611.2 150.1l2.0 0.2l2.1 3.7l-2.0 -1.7zM609.2 151.6l2.0 -1.5l2.1 2.2l-2.0 3.2zM607.2 153.4l2.0 -1.9l2.1 4.0l-2.0 -0.1zM605.2 153.4l2.0 0.0l2.1 2.0l-2.0 -0.5zM603.2 156.2l2.0 -2.9l2.1 1.5l-2.0 5.5zM593.2 156.2l2.0 3.3l2.1 2.5l-2.0 -1.2zM591.2 158.9l2.0 -2.6l2.1 4.6l-2.0 -0.6zM589.2 162.6l2.0 -3.7l2.0 1.4l-2.0 3.4zM547.2 176.4l2.0 -2.0l1.9 2.6l-2.0 0.9zM545.2 175.2l2.0 1.2l1.9 1.5l-2.0 -2.7zM543.2 176.1l2.0 -1.0l1.9 -0.1l-2.0 2.6zM541.2 176.1l2.0 0.1l1.9 1.5l-2.0 -0.6zM539.2 176.7l2.0 -0.6l1.9 0.9l-2.0 2.7zM535.2 178.0l2.0 -2.3l1.8 3.1l-2.0 3.7zM533.2 177.7l2.0 0.3l1.8 4.6l-2.0 -2.6zM521.2 183.4l2.0 -1.8l1.8 3.5l-2.0 -1.1zM519.2 183.1l2.0 0.4l1.8 0.7l-2.0 1.8zM517.2 186.1l2.0 -3.0l1.8 2.9l-2.0 2.7zM515.2 187.7l2.0 -1.6l1.8 2.5l-2.0 0.0z" stroke="#7171e7"/>
<path d="M623.2 144.9l2.0 0.7l2.2 2.2l-2.0 1.4zM621.2 146.2l2.0 -1.3l2.2 4.3l-2.0 -0.9zM619.2 149.1l2.0 -3.0l2.2 2.1l-2.0 2.1zM615.2 149.2l2.0 -1.6l2.1 3.0l-2.0 1.1zM537.2 175.7l2.0 1.0l1.9 3.0l-2.0 -0.9zM531.2 178.9l2.0 -1.2l1.8 2.3l-2.0 -1.3zM529.2 178.3l2.0 0.5l1.8 -0.1l-2.0 1.4zM527.2 177.0l2.0 1.3l1.8 1.8l-2.0 1.4zM525.2 179.5l2.0 -2.5l1.8 4.5l-2.0 0.0zM523.2 181.7l2.0 -2.2l1.8 2.0l-2.0 3.6z" stroke="#6e76e8"/>
<path d="M601.2 157.0l2.0 -0.8l2.1 4.2l-2.0 -0.1zM599.2 158.7l2.0 -1.6l2.1 3.3l-2.0 0.2zM597.2 158.6l2.0 0.0l2.1 1.9l-2.0 0.8zM595.2 159.5l2.0 -0.9l2.1 2.8l-2.0 0.6zM587.2 165.8l2.0 -3.2l2.0 1.0l-2.0 4.2zM583.2 167.5l2.0 -0.6l2.0 1.2l-2.0 -1.6zM581.2 167.1l2.0 0.4l2.0 -1.0l-2.0 2.3zM573.2 171.7l2.0 -3.4l2.0 1.2l-2.0 1.3zM559.2 173.9l2.0 -0.2l1.9 4.0l-2.0 -2.0zM557.2 174.5l2.0 -0.6l1.9 1.8l-2.0 -0.1zM555.2 174.8l2.0 -0.3l1.9 1.0l-2.0 0.1zM553.2 173.6l2.0 1.2l1.9 0.8l-2.0 -0.2zM551.2 177.2l2.0 -3.6l1.9 1.9l-2.0 3.5zM549.2 174.4l2.0 2.8l1.9 1.9l-2.0 -2.1zM513.2 190.1l2.0 -2.4l1.8 0.9l-2.0 3.9z" stroke="#736de5"/>
<path d="M585.2 166.9l2.0 -1.1l2.0 2.1l-2.0 0.3zM579.2 167.9l2.0 -0.8l2.0 1.8l-2.0 1.2zM577.2 172.9l2.0 -5.0l2.0 2.2l-2.0 3.8zM575.2 168.4l2.0 4.5l2.0 1.0l-2.0 -4.3zM571.2 172.8l2.0 -1.1l2.0 -0.9l-2.0 3.5zM569.2 173.9l2.0 -1.1l2.0 1.5l-2.0 1.8zM567.2 171.2l2.0 2.7l2.0 2.1l-2.0 -3.5zM565.2 175.1l2.0 -3.9l2.0 1.4l-2.0 6.1zM563.2 173.1l2.0 2.0l2.0 3.5l-2.0 -3.0zM561.2 173.7l2.0 -0.6l1.9 2.5l-2.0 2.1zM511.2 194.8l2.0 -4.6l1.8 2.4l-2.0 4.2z" stroke="#7669e2"/>
<path d="M509.2 199.3l2.0 -4.5l1.8 2.0l-2.0 4.3z" stroke="#7465df"/>
<path d="M507.2 201.9l2.0 -2.6l1.7 1.7l-2.0 2.3z" stroke="#7260dc"/>
<path d="M505.2 203.3l2.0 -1.4l1.7 1.5l-2.0 1.4z" stroke="#705cd8"/>
<path d="M627.3 147.8l2.0 -0.6l2.2 2.2l-2.0 0.6zM625.3 149.2l2.0 -1.4l2.2 2.2l-2.0 0.0zM623.3 148.3l2.0 0.9l2.2 0.9l-2.0 1.2zM621.3 150.4l2.0 -2.1l2.2 3.0l-2.0 2.5zM619.3 150.7l2.0 -0.3l2.1 3.4l-2.0 -0.7zM617.3 151.8l2.0 -1.1l2.1 2.4l-2.0 -0.6zM615.3 154.0l2.0 -2.2l2.1 0.7l-2.0 4.1zM613.3 152.3l2.0 1.7l2.1 2.7l-2.0 -2.4zM611.3 155.5l2.0 -3.2l2.1 1.9l-2.0 1.3zM609.3 155.5l2.0 0.1l2.1 -0.0l-2.0 2.5zM607.3 154.9l2.0 0.5l2.1 2.6l-2.0 -1.6zM605.3 160.4l2.0 -5.5l2.1 1.5l-2.0 4.7zM593.2 160.2l2.0 0.6l2.1 1.2l-2.0 2.4zM591.2 163.6l2.0 -3.4l2.0 4.1l-2.0 1.2zM547.1 175.1l2.0 2.7l1.9 4.0l-2.0 -5.8zM545.1 177.7l2.0 -2.6l1.9 1.0l-2.0 4.5zM543.1 177.0l2.0 0.6l1.9 2.9l-2.0 -1.7zM541.1 179.7l2.0 -2.7l1.9 1.8l-2.0 2.3zM539.1 178.8l2.0 0.9l1.9 1.4l-2.0 -0.6zM537.1 182.6l2.0 -3.7l1.8 1.8l-2.0 2.4zM535.0 180.0l2.0 2.6l1.8 0.4l-2.0 0.2zM525.0 185.2l2.0 -3.6l1.8 3.2l-2.0 2.7zM523.0 184.1l2.0 1.1l1.8 2.3l-2.0 -1.2zM521.0 185.9l2.0 -1.8l1.8 2.2l-2.0 2.5zM519.0 188.6l2.0 -2.7l1.8 2.8l-2.0 -0.4zM517.0 188.6l2.0 -0.0l1.8 -0.2l-2.0 3.1z" stroke="#7171e7"/>
<path d="M603.3 160.3l2.0 0.1l2.1 0.7l-2.0 2.0zM601.3 160.5l2.0 -0.2l2.1 2.8l-2.0 -2.1zM599.3 161.4l2.0 -0.8l2.1 0.5l-2.0 1.5zM597.2 162.0l2.0 -0.6l2.1 1.1l-2.0 2.1zM595.2 160.8l2.0 1.2l2.1 2.6l-2.0 -2.7zM589.2 167.8l2.0 -4.2l2.0 1.9l-2.0 2.2zM585.2 166.6l2.0 1.6l2.0 4.2l-2.0 -3.8zM583.2 168.9l2.0 -2.3l2.0 2.0l-2.0 1.8zM577.2 169.5l2.0 4.3l2.0 1.1l-2.0 -4.6zM575.2 170.8l2.0 -1.3l2.0 0.8l-2.0 4.0zM561.1 175.7l2.0 2.0l1.9 -0.0l-2.0 -1.5zM559.1 175.6l2.0 0.1l1.9 0.4l-2.0 0.1zM557.1 175.7l2.0 -0.1l1.9 0.7l-2.0 1.3zM555.1 175.5l2.0 0.2l1.9 1.9l-2.0 -0.2zM553.1 179.1l2.0 -3.5l1.9 1.8l-2.0 2.9zM551.1 177.0l2.0 2.1l1.9 1.2l-2.0 -2.5zM549.1 177.8l2.0 -0.9l1.9 0.9l-2.0 4.0zM515.0 192.5l2.0 -3.9l1.8 2.9l-2.0 2.7z" stroke="#736de5"/>
<path d="M587.2 168.1l2.0 -0.3l2.0 -0.2l-2.0 4.7zM581.2 170.0l2.0 -1.2l2.0 1.5l-2.0 -0.1zM579.2 173.9l2.0 -3.8l2.0 0.2l-2.0 4.8zM573.2 174.3l2.0 -3.5l2.0 3.6l-2.0 1.6zM571.2 176.0l2.0 -1.8l2.0 1.8l-2.0 0.3zM569.2 172.6l2.0 3.5l2.0 0.3l-2.0 -1.0zM567.1 178.7l2.0 -6.1l2.0 2.8l-2.0 4.6zM565.1 175.6l2.0 3.0l2.0 1.3l-2.0 -0.2zM563.1 177.7l2.0 -2.1l1.9 4.2l-2.0 -2.2zM513.0 196.7l2.0 -4.2l1.8 1.7l-2.0 3.9z" stroke="#7669e2"/>
<path d="M533.0 178.7l2.0 1.3l1.8 3.2l-2.0 -1.0zM531.0 180.1l2.0 -1.4l1.8 3.5l-2.0 1.0zM529.0 181.5l2.0 -1.4l1.8 3.1l-2.0 -1.9zM527.0 181.6l2.0 -0.0l1.8 -0.1l-2.0 3.3z" stroke="#6e76e8"/>
<path d="M511.0 201.0l2.0 -4.3l1.8 1.4l-2.0 4.6z" stroke="#7465df"/>
<path d="M509.0 203.3l2.0 -2.3l1.7 1.7l-2.0 2.1z" stroke="#7260dc"/>
<path d="M507.0 204.7l2.0 -1.4l1.7 1.5l-2.0 1.3z" stroke="#705cd8"/>
<path d="M629.5 150.0l2.0 -0.6l2.2 1.9l-2.0 0.9zM627.5 150.1l2.0 -0.0l2.2 2.1l-2.0 1.6zM625.5 151.3l2.0 -1.2l2.2 3.7l-2.0 -1.0zM623.5 153.8l2.0 -2.5l2.2 1.5l-2.0 2.5zM621.5 153.1l2.0 0.7l2.1 1.5l-2.0 1.1zM619.4 152.5l2.0 0.6l2.1 3.2l-2.0 -1.8zM617.4 156.6l2.0 -4.1l2.1 2.1l-2.0 4.3zM615.4 154.2l2.0 2.4l2.1 2.3l-2.0 -2.0zM613.4 155.5l2.0 -1.3l2.1 2.7l-2.0 2.0zM611.4 158.1l2.0 -2.5l2.1 3.4l-2.0 0.4zM609.4 156.4l2.0 1.6l2.1 1.3l-2.0 0.4zM607.4 161.1l2.0 -4.7l2.1 3.3l-2.0 4.0zM549.0 176.1l2.0 5.8l1.9 1.2l-2.0 -3.7zM546.9 180.5l2.0 -4.5l1.9 3.3l-2.0 4.6zM544.9 178.8l2.0 1.7l1.9 3.4l-2.0 -2.9zM542.9 181.1l2.0 -2.3l1.9 2.2l-2.0 2.7zM540.9 180.6l2.0 0.6l1.9 2.6l-2.0 -0.3zM538.9 183.0l2.0 -2.4l1.8 2.8l-2.0 -0.5zM536.9 183.2l2.0 -0.2l1.8 -0.1l-2.0 3.4zM534.9 182.3l2.0 1.0l1.8 3.1l-2.0 -3.0zM532.9 183.3l2.0 -1.0l1.8 1.1l-2.0 2.5zM526.8 187.5l2.0 -2.7l1.8 2.1l-2.0 2.1zM524.8 186.3l2.0 1.2l1.8 1.4l-2.0 -0.8zM522.8 188.8l2.0 -2.5l1.8 1.8l-2.0 3.5zM520.8 188.4l2.0 0.4l1.8 2.8l-2.0 -0.6z" stroke="#7171e7"/>
<path d="M605.3 163.1l2.0 -2.0l2.1 2.6l-2.0 0.0zM603.3 161.1l2.0 2.1l2.1 0.6l-2.0 1.0zM601.3 162.5l2.0 -1.5l2.1 3.7l-2.0 -0.8zM599.3 164.6l2.0 -2.1l2.1 1.4l-2.0 1.7zM597.3 161.9l2.0 2.7l2.1 1.1l-2.0 -1.2zM595.3 164.3l2.0 -2.4l2.1 2.5l-2.0 0.8zM593.3 165.5l2.0 -1.2l2.0 1.0l-2.0 3.0zM591.3 167.7l2.0 -2.2l2.0 2.8l-2.0 0.4zM577.2 174.4l2.0 -4.0l2.0 1.6l-2.0 4.2zM563.1 176.1l2.0 1.5l1.9 2.3l-2.0 -0.9zM561.0 176.2l2.0 -0.1l1.9 2.9l-2.0 0.1zM559.0 177.6l2.0 -1.3l1.9 2.8l-2.0 1.1zM557.0 177.4l2.0 0.2l1.9 2.6l-2.0 -2.5zM555.0 180.3l2.0 -2.9l1.9 0.3l-2.0 4.2zM553.0 177.9l2.0 2.5l1.9 1.6l-2.0 -1.8zM551.0 181.9l2.0 -4.0l1.9 2.3l-2.0 3.0zM518.8 191.6l2.0 -3.1l1.8 2.6l-2.0 3.1zM516.7 194.3l2.0 -2.7l1.8 2.6l-2.0 1.3z" stroke="#736de5"/>
<path d="M589.2 172.4l2.0 -4.7l2.0 1.0l-2.0 4.2zM587.2 168.6l2.0 3.8l2.0 0.5l-2.0 -1.9zM585.2 170.4l2.0 -1.8l2.0 2.3l-2.0 1.9zM583.2 170.2l2.0 0.1l2.0 2.4l-2.0 0.8zM581.2 175.0l2.0 -4.8l2.0 3.4l-2.0 4.1zM579.2 170.4l2.0 4.6l2.0 2.8l-2.0 -5.8zM575.1 176.0l2.0 -1.6l2.0 1.8l-2.0 1.9zM573.1 176.3l2.0 -0.3l2.0 2.0l-2.0 0.3zM571.1 175.4l2.0 1.0l2.0 2.1l-2.0 -2.3zM569.1 180.0l2.0 -4.6l2.0 0.7l-2.0 5.8zM565.1 177.7l2.0 2.2l1.9 0.6l-2.0 -0.5zM514.7 198.1l2.0 -3.9l1.8 1.2l-2.0 4.1z" stroke="#7669e2"/>
<path d="M567.1 179.8l2.0 0.2l2.0 2.0l-2.0 -1.6zM512.7 202.7l2.0 -4.6l1.8 1.5l-2.0 4.6z" stroke="#7465df"/>
<path d="M530.8 181.4l2.0 1.9l1.8 2.6l-2.0 -1.6zM528.8 184.7l2.0 -3.3l1.8 2.8l-2.0 2.6z" stroke="#6e76e8"/>
<path d="M510.7 204.8l2.0 -2.1l1.7 1.4l-2.0 2.2z" stroke="#7260dc"/>
<path d="M508.7 206.1l2.0 -1.3l1.7 1.5l-2.0 1.2z" stroke="#705cd8"/>
<path d="M631.7 152.1l2.0 -0.9l2.2 2.2l-2.0 0.8zM629.7 153.8l2.0 -1.6l2.2 2.1l-2.0 1.6zM623.6 156.4l2.0 -1.1l2.1 1.6l-2.0 2.0zM617.5 156.9l2.0 2.0l2.1 1.2l-2.0 -1.5zM615.5 158.9l2.0 -2.0l2.1 1.8l-2.0 2.6zM613.5 159.3l2.0 -0.4l2.1 2.5l-2.0 1.4zM611.5 159.7l2.0 -0.4l2.1 3.5l-2.0 -1.4zM609.5 163.7l2.0 -4.0l2.1 1.7l-2.0 3.5zM603.4 164.0l2.0 0.8l2.1 1.6l-2.0 1.0zM601.4 165.7l2.0 -1.7l2.1 3.4l-2.0 1.6zM599.3 164.5l2.0 1.2l2.1 3.2l-2.0 -2.7zM597.3 165.3l2.0 -0.8l2.1 1.7l-2.0 2.4zM595.3 168.2l2.0 -3.0l2.0 3.3l-2.0 1.1zM563.0 179.1l2.0 -0.1l1.9 0.4l-2.0 1.4zM560.9 180.2l2.0 -1.1l1.9 1.7l-2.0 0.6zM558.9 177.7l2.0 2.5l1.9 1.3l-2.0 -1.3zM556.9 181.9l2.0 -4.2l1.9 2.4l-2.0 3.9zM554.9 180.1l2.0 1.8l1.9 2.1l-2.0 -2.9zM552.9 183.1l2.0 -3.0l1.9 1.0l-2.0 2.7zM522.5 191.0l2.0 0.6l1.8 0.8l-2.0 -0.3zM520.5 194.2l2.0 -3.1l1.8 1.1l-2.0 4.8z" stroke="#736de5"/>
<path d="M627.6 152.8l2.0 1.0l2.2 2.0l-2.0 1.0zM625.6 155.3l2.0 -2.5l2.2 4.0l-2.0 0.1zM621.6 154.6l2.0 1.8l2.1 2.6l-2.0 -2.3zM619.6 159.0l2.0 -4.3l2.1 2.0l-2.0 3.6zM550.8 179.4l2.0 3.7l1.9 0.7l-2.0 -2.8zM548.8 184.0l2.0 -4.6l1.9 1.6l-2.0 3.3zM546.8 181.1l2.0 2.9l1.9 0.3l-2.0 -2.4zM544.8 183.7l2.0 -2.7l1.9 0.8l-2.0 3.7zM542.8 183.4l2.0 0.3l1.9 1.9l-2.0 -1.3zM540.7 182.9l2.0 0.5l1.8 0.9l-2.0 1.5zM538.7 186.3l2.0 -3.4l1.8 2.9l-2.0 0.2zM536.7 183.3l2.0 3.0l1.8 -0.3l-2.0 1.1zM534.7 185.9l2.0 -2.5l1.8 3.8l-2.0 0.4zM532.6 184.2l2.0 1.6l1.8 1.7l-2.0 -0.2zM530.6 186.8l2.0 -2.6l1.8 3.1l-2.0 1.6zM528.6 188.9l2.0 -2.1l1.8 2.1l-2.0 1.4zM526.6 188.1l2.0 0.8l1.8 1.4l-2.0 0.7zM524.6 191.6l2.0 -3.5l1.8 2.9l-2.0 1.4z" stroke="#7171e7"/>
<path d="M607.4 163.7l2.0 -0.0l2.1 1.2l-2.0 0.6zM605.4 164.7l2.0 -1.0l2.1 1.8l-2.0 0.9zM593.3 168.6l2.0 -0.4l2.0 1.4l-2.0 2.5zM591.3 172.9l2.0 -4.2l2.0 3.5l-2.0 2.2zM589.2 170.9l2.0 1.9l2.0 1.6l-2.0 -2.4zM587.2 172.8l2.0 -1.9l2.0 1.0l-2.0 2.6zM585.2 173.7l2.0 -0.8l2.0 1.8l-2.0 0.8zM583.2 177.8l2.0 -4.1l2.0 1.7l-2.0 2.6zM581.2 172.0l2.0 5.8l2.0 0.2l-2.0 -2.9zM579.1 176.2l2.0 -4.2l2.0 3.1l-2.0 3.8zM573.1 176.1l2.0 2.3l2.0 1.6l-2.0 -1.4zM571.0 182.0l2.0 -5.8l2.0 2.5l-2.0 3.1zM567.0 179.9l2.0 0.5l1.9 0.8l-2.0 -0.3zM565.0 179.0l2.0 0.9l1.9 1.0l-2.0 -1.5zM518.5 195.4l2.0 -1.3l1.8 2.8l-2.0 0.6zM516.5 199.6l2.0 -4.1l1.8 2.2l-2.0 4.0z" stroke="#7669e2"/>
<path d="M577.1 178.1l2.0 -1.9l2.0 2.7l-2.0 1.5zM575.1 178.4l2.0 -0.3l2.0 2.2l-2.0 -0.3zM569.0 180.4l2.0 1.6l2.0 -0.2l-2.0 -0.6zM514.5 204.1l2.0 -4.6l1.8 2.0l-2.0 4.2z" stroke="#7465df"/>
<path d="M512.4 206.3l2.0 -2.2l1.7 1.7l-2.0 1.9z" stroke="#7260dc"/>
<path d="M510.4 207.5l2.0 -1.2l1.7 1.3l-2.0 1.3z" stroke="#705cd8"/>
<path d="M633.9 154.2l2.0 -0.8l2.2 1.9l-2.0 -0.1zM631.8 155.8l2.0 -1.6l2.2 1.1l-2.0 2.0zM629.8 156.8l2.0 -1.0l2.2 1.5l-2.0 -0.1zM627.8 156.9l2.0 -0.1l2.2 0.4l-2.0 0.5zM625.7 158.9l2.0 -2.0l2.1 0.8l-2.0 2.5zM623.7 156.6l2.0 2.3l2.1 1.2l-2.0 -0.2zM621.7 160.2l2.0 -3.6l2.1 3.4l-2.0 4.2zM619.7 158.7l2.0 1.5l2.1 4.0l-2.0 -2.2zM617.6 161.4l2.0 -2.6l2.1 3.3l-2.0 2.2zM615.6 162.8l2.0 -1.4l2.1 2.8l-2.0 -0.3zM613.6 161.4l2.0 1.4l2.1 1.1l-2.0 0.9zM611.5 164.9l2.0 -3.5l2.1 3.4l-2.0 2.8zM601.4 166.2l2.0 2.7l2.1 1.2l-2.0 0.1zM599.4 168.5l2.0 -2.4l2.1 4.0l-2.0 0.8zM564.9 180.8l2.0 -1.4l1.9 2.5l-2.0 0.7zM560.8 180.1l2.0 1.3l1.9 1.9l-2.0 -1.6zM558.8 184.0l2.0 -3.9l1.9 1.6l-2.0 3.6zM556.8 181.1l2.0 2.9l1.9 1.3l-2.0 -1.8zM554.7 183.8l2.0 -2.7l1.9 2.4l-2.0 1.5zM544.6 184.3l2.0 1.3l1.9 0.9l-2.0 0.8zM526.3 192.4l2.0 -1.4l1.8 2.1l-2.0 0.8zM524.3 192.2l2.0 0.3l1.8 1.5l-2.0 -0.0zM522.3 197.0l2.0 -4.8l1.8 1.7l-2.0 4.1z" stroke="#736de5"/>
<path d="M609.5 165.5l2.0 -0.6l2.1 2.8l-2.0 0.3zM607.5 166.4l2.0 -0.9l2.1 2.5l-2.0 0.2zM605.5 167.4l2.0 -1.0l2.1 1.8l-2.0 0.6zM603.4 168.9l2.0 -1.6l2.1 1.4l-2.0 1.3zM597.3 169.7l2.0 -1.1l2.0 2.5l-2.0 0.9zM595.3 172.2l2.0 -2.5l2.0 2.3l-2.0 0.7zM593.3 174.4l2.0 -2.2l2.0 0.6l-2.0 3.0zM591.3 172.0l2.0 2.4l2.0 1.3l-2.0 -1.2zM589.2 174.6l2.0 -2.6l2.0 2.6l-2.0 2.3zM587.2 175.4l2.0 -0.8l2.0 2.3l-2.0 -0.0zM583.1 175.1l2.0 2.9l2.0 2.1l-2.0 -3.9zM581.1 178.9l2.0 -3.8l2.0 1.0l-2.0 4.9zM575.0 178.6l2.0 1.4l2.0 1.4l-2.0 -0.5zM573.0 181.8l2.0 -3.1l2.0 2.2l-2.0 3.0zM571.0 181.2l2.0 0.6l2.0 2.1l-2.0 -1.6zM568.9 180.9l2.0 0.3l1.9 1.0l-2.0 0.7zM566.9 179.4l2.0 1.5l1.9 2.0l-2.0 -0.9zM562.9 181.4l2.0 -0.6l1.9 1.9l-2.0 0.6zM520.3 197.6l2.0 -0.6l1.8 1.1l-2.0 2.3zM518.2 201.6l2.0 -4.0l1.8 2.7l-2.0 2.9z" stroke="#7669e2"/>
<path d="M585.2 178.0l2.0 -2.6l2.0 1.4l-2.0 3.2zM579.1 180.3l2.0 -1.5l2.0 2.1l-2.0 -0.6zM577.1 180.0l2.0 0.3l2.0 0.1l-2.0 1.0zM516.2 205.8l2.0 -4.2l1.8 1.6l-2.0 3.8z" stroke="#7465df"/>
<path d="M552.7 181.0l2.0 2.8l1.9 1.2l-2.0 -1.3zM550.7 184.3l2.0 -3.3l1.9 2.7l-2.0 3.8zM548.7 181.9l2.0 2.4l1.9 3.2l-2.0 -1.3zM546.6 185.6l2.0 -3.7l1.9 4.3l-2.0 0.3zM542.6 185.8l2.0 -1.5l1.8 3.0l-2.0 -0.9zM540.5 186.0l2.0 -0.2l1.8 0.7l-2.0 1.3zM538.5 187.1l2.0 -1.1l1.8 1.7l-2.0 -0.9zM536.5 187.5l2.0 -0.4l1.8 -0.3l-2.0 3.2zM534.5 187.4l2.0 0.2l1.8 2.5l-2.0 -2.8zM532.4 188.9l2.0 -1.6l1.8 -0.1l-2.0 3.3zM530.4 190.3l2.0 -1.4l1.8 1.6l-2.0 0.2zM528.4 191.0l2.0 -0.7l1.8 0.5l-2.0 2.4z" stroke="#7171e7"/>
<path d="M514.2 207.7l2.0 -1.9l1.7 1.2l-2.0 2.2z" stroke="#7260dc"/>
<path d="M512.1 208.9l2.0 -1.3l1.7 1.5l-2.0 1.2z" stroke="#705cd8"/>
<path d="M636.0 155.3l2.0 0.1l2.2 2.0l-2.0 -0.6zM634.0 157.3l2.0 -2.0l2.2 1.5l-2.0 3.4zM632.0 157.2l2.0 0.1l2.2 2.9l-2.0 0.3zM629.9 157.7l2.0 -0.5l2.2 3.3l-2.0 1.3zM627.9 160.2l2.0 -2.5l2.1 4.1l-2.0 1.5zM625.8 160.0l2.0 0.2l2.1 3.1l-2.0 -0.4zM623.8 164.2l2.0 -4.2l2.1 2.9l-2.0 1.4zM621.8 162.0l2.0 2.2l2.1 0.1l-2.0 -0.7zM619.7 164.2l2.0 -2.2l2.1 1.6l-2.0 2.4zM562.7 181.7l2.0 1.6l1.9 0.8l-2.0 -0.1zM560.7 185.3l2.0 -3.6l1.9 2.3l-2.0 3.4zM558.7 183.5l2.0 1.8l1.9 2.1l-2.0 -2.5zM556.6 185.0l2.0 -1.5l1.9 1.3l-2.0 0.7zM554.6 183.7l2.0 1.3l1.9 0.6l-2.0 0.8zM552.6 187.5l2.0 -3.8l1.9 2.7l-2.0 3.0zM550.5 186.2l2.0 1.3l1.9 1.9l-2.0 0.1zM548.5 186.5l2.0 -0.3l1.9 3.3l-2.0 -0.6zM546.4 187.3l2.0 -0.8l1.9 2.4l-2.0 -0.4zM530.2 193.2l2.0 -2.4l1.8 3.6l-2.0 0.0zM528.1 193.9l2.0 -0.8l1.8 1.3l-2.0 1.3zM526.1 193.9l2.0 0.0l1.8 1.8l-2.0 1.2zM524.1 198.0l2.0 -4.1l1.8 3.0l-2.0 2.9z" stroke="#736de5"/>
<path d="M617.7 163.9l2.0 0.3l2.1 1.8l-2.0 -0.6zM615.7 164.8l2.0 -0.9l2.1 1.5l-2.0 1.6zM613.6 167.7l2.0 -2.8l2.1 2.1l-2.0 2.9zM611.6 168.0l2.0 -0.3l2.1 2.3l-2.0 0.5zM609.6 168.2l2.0 -0.2l2.1 2.4l-2.0 0.1zM607.5 168.8l2.0 -0.6l2.1 2.4l-2.0 -0.1zM605.5 170.1l2.0 -1.3l2.1 1.7l-2.0 1.5zM603.5 170.2l2.0 -0.1l2.1 1.8l-2.0 -1.1zM601.4 171.1l2.0 -0.8l2.1 0.6l-2.0 3.3zM599.4 172.0l2.0 -0.9l2.0 3.0l-2.0 -1.1zM597.3 172.7l2.0 -0.7l2.0 0.9l-2.0 2.3zM595.3 175.7l2.0 -3.0l2.0 2.4l-2.0 2.7zM593.3 174.5l2.0 1.2l2.0 2.1l-2.0 -2.2zM591.2 176.9l2.0 -2.3l2.0 1.2l-2.0 1.3zM589.2 176.8l2.0 0.0l2.0 0.1l-2.0 2.3zM585.1 176.1l2.0 3.9l2.0 -0.5l-2.0 -2.0zM583.1 181.0l2.0 -4.9l2.0 1.4l-2.0 4.4zM579.0 181.3l2.0 -1.0l2.0 1.9l-2.0 -1.4zM577.0 180.8l2.0 0.5l2.0 -0.4l-2.0 2.1zM574.9 183.9l2.0 -3.0l2.0 2.2l-2.0 0.8zM572.9 182.2l2.0 1.6l2.0 -0.1l-2.0 -0.6zM570.9 182.9l2.0 -0.7l1.9 1.0l-2.0 2.0zM568.8 182.0l2.0 0.9l1.9 2.3l-2.0 -0.2zM566.8 182.7l2.0 -0.7l1.9 3.1l-2.0 -0.6zM564.8 183.3l2.0 -0.6l1.9 1.8l-2.0 -0.4zM522.0 200.3l2.0 -2.3l1.8 1.7l-2.0 2.3z" stroke="#7669e2"/>
<path d="M587.2 180.0l2.0 -3.2l2.0 2.5l-2.0 0.3zM581.1 180.4l2.0 0.6l2.0 0.9l-2.0 0.4zM520.0 203.2l2.0 -2.9l1.8 1.7l-2.0 2.8zM517.9 207.0l2.0 -3.8l1.8 1.7l-2.0 3.6z" stroke="#7465df"/>
<path d="M544.4 186.5l2.0 0.9l1.8 1.2l-2.0 -0.4zM542.4 187.7l2.0 -1.3l1.8 1.7l-2.0 1.8zM540.3 186.8l2.0 0.9l1.8 2.2l-2.0 1.4zM538.3 190.1l2.0 -3.2l1.8 4.5l-2.0 1.0zM536.3 187.3l2.0 2.8l1.8 2.2l-2.0 -0.8zM534.2 190.5l2.0 -3.3l1.8 4.2l-2.0 0.7zM532.2 190.8l2.0 -0.2l1.8 1.6l-2.0 2.2z" stroke="#7171e7"/>
<path d="M515.9 209.2l2.0 -2.2l1.7 1.5l-2.0 2.1z" stroke="#7260dc"/>
<path d="M513.9 210.4l2.0 -1.2l1.7 1.4l-2.0 1.2z" stroke="#705cd8"/>
<path d="M638.2 156.7l2.0 0.6l2.2 3.2l-2.1 -1.8zM636.2 160.2l2.0 -3.4l2.2 2.1l-2.1 5.0zM564.6 184.0l2.0 0.1l1.9 1.2l-2.1 1.1zM562.6 187.4l2.0 -3.4l1.9 2.4l-2.1 1.4zM560.6 184.9l2.0 2.5l1.9 0.4l-2.1 0.0zM558.5 185.6l2.0 -0.7l1.9 3.0l-2.1 0.5zM556.5 186.4l2.0 -0.8l1.9 2.8l-2.1 0.2zM554.4 189.4l2.0 -3.0l1.9 2.2l-2.1 1.4zM550.3 188.9l2.0 0.6l1.9 1.8l-2.1 0.1zM548.3 188.5l2.0 0.4l1.9 2.5l-2.1 -0.5zM546.3 188.1l2.0 0.4l1.8 2.4l-2.1 -0.0zM544.2 189.9l2.0 -1.8l1.8 2.8l-2.1 1.0zM542.2 191.3l2.0 -1.4l1.8 2.0l-2.1 -0.9zM540.1 192.3l2.0 -1.0l1.8 -0.3l-2.1 2.2zM538.1 191.5l2.0 0.8l1.8 0.9l-2.1 -0.4zM536.0 192.2l2.0 -0.7l1.8 1.3l-2.1 2.2zM534.0 194.4l2.0 -2.2l1.8 2.9l-2.1 1.6zM532.0 194.4l2.0 -0.0l1.8 2.3l-2.1 0.4zM529.9 195.7l2.0 -1.3l1.8 2.7l-2.1 -0.7zM527.9 196.9l2.0 -1.2l1.8 0.7l-2.1 2.0zM525.8 199.8l2.0 -2.9l1.8 1.5l-2.1 4.8z" stroke="#736de5"/>
<path d="M634.1 160.5l2.0 -0.3l2.2 3.7l-2.1 -0.3zM632.1 161.8l2.0 -1.3l2.2 3.0l-2.1 -0.5zM630.0 163.3l2.0 -1.5l2.1 1.2l-2.1 2.6zM628.0 162.9l2.0 0.4l2.1 2.4l-2.1 -1.4zM625.9 164.3l2.0 -1.4l2.1 1.4l-2.1 3.1zM623.9 163.6l2.0 0.7l2.1 3.1l-2.1 0.6zM621.8 166.0l2.0 -2.4l2.1 4.4l-2.1 -0.1zM619.8 165.4l2.0 0.6l2.1 1.9l-2.1 0.7zM617.8 167.0l2.0 -1.6l2.1 3.3l-2.1 0.0zM615.7 169.9l2.0 -2.9l2.1 1.7l-2.1 2.8zM613.7 170.4l2.0 -0.5l2.1 1.6l-2.1 -1.1zM611.6 170.5l2.0 -0.1l2.1 -0.0l-2.1 2.4zM609.6 170.4l2.0 0.1l2.1 2.2l-2.1 -0.1zM607.5 171.9l2.0 -1.5l2.1 2.2l-2.1 1.2zM605.5 170.8l2.0 1.1l2.1 1.9l-2.1 -0.8zM603.5 174.0l2.0 -3.3l2.1 2.2l-2.1 3.6zM601.4 172.9l2.0 1.1l2.0 2.5l-2.1 -0.8zM599.4 175.2l2.0 -2.3l2.0 2.9l-2.1 1.4zM595.3 175.7l2.0 2.2l2.0 1.2l-2.1 -1.3zM593.2 177.0l2.0 -1.3l2.0 2.1l-2.1 2.0zM587.1 177.5l2.0 2.0l2.0 2.4l-2.1 -2.1zM585.1 181.9l2.0 -4.4l2.0 2.4l-2.1 3.2zM581.0 180.9l2.0 1.4l2.0 1.3l-2.1 0.2zM578.9 183.0l2.0 -2.1l2.0 2.8l-2.1 1.4zM574.9 183.2l2.0 0.6l2.0 0.9l-2.1 1.3zM572.8 185.2l2.0 -2.0l1.9 2.8l-2.1 1.2zM570.8 185.1l2.0 0.2l1.9 2.0l-2.1 -1.3zM568.7 184.5l2.0 0.6l1.9 0.8l-2.1 0.8zM566.7 184.1l2.0 0.4l1.9 2.2l-2.1 -1.4zM552.4 189.5l2.0 -0.1l1.9 0.5l-2.1 1.4zM523.8 202.0l2.0 -2.3l1.8 3.4l-2.1 0.9z" stroke="#7669e2"/>
<path d="M597.3 177.8l2.0 -2.7l2.0 2.0l-2.1 1.8zM591.2 179.3l2.0 -2.3l2.0 2.8l-2.1 1.8zM589.2 179.6l2.0 -0.3l2.0 2.3l-2.1 0.3zM583.0 182.3l2.0 -0.4l2.0 1.2l-2.1 0.5zM576.9 183.8l2.0 -0.8l2.0 2.2l-2.1 -0.5zM521.7 204.9l2.0 -2.8l1.8 2.1l-2.1 2.9zM519.7 208.4l2.0 -3.6l1.8 2.1l-2.1 2.7z" stroke="#7465df"/>
<path d="M517.6 210.5l2.0 -2.1l1.7 1.2l-2.1 2.3z" stroke="#7260dc"/>
<path d="M515.6 211.8l2.0 -1.2l1.7 1.4l-2.1 1.2z" stroke="#705cd8"/>
<path d="M640.4 158.8l2.1 1.8l2.2 3.1l-2.1 -3.1zM638.3 163.9l2.1 -5.0l2.2 1.8l-2.1 4.6zM550.1 190.9l2.1 0.5l1.9 1.3l-2.1 0.4zM548.1 190.9l2.1 0.0l1.8 2.2l-2.1 -1.2zM546.0 191.9l2.1 -1.0l1.8 1.0l-2.1 2.6zM544.0 191.0l2.1 0.9l1.8 2.7l-2.1 -1.3zM541.9 193.2l2.1 -2.2l1.8 2.2l-2.1 2.8zM539.9 192.8l2.1 0.4l1.8 2.9l-2.1 -0.9zM537.8 195.0l2.1 -2.2l1.8 2.3l-2.1 2.4zM535.8 196.7l2.1 -1.6l1.8 2.5l-2.1 0.6zM533.7 197.1l2.1 -0.4l1.8 1.5l-2.1 1.3zM531.7 196.4l2.1 0.7l1.8 2.3l-2.1 -2.2zM529.6 198.4l2.1 -2.0l1.8 0.9l-2.1 2.4z" stroke="#736de5"/>
<path d="M636.3 163.5l2.1 0.3l2.2 1.3l-2.1 -0.8zM634.2 163.1l2.1 0.5l2.2 0.9l-2.1 1.5zM632.2 165.7l2.1 -2.6l2.1 2.9l-2.1 2.4zM630.1 164.3l2.1 1.4l2.1 2.7l-2.1 -1.4zM628.1 167.4l2.1 -3.1l2.1 2.7l-2.1 3.3zM624.0 167.9l2.1 0.1l2.1 2.0l-2.1 0.7zM621.9 168.7l2.1 -0.7l2.1 2.8l-2.1 -0.3zM619.9 168.7l2.1 -0.0l2.1 1.7l-2.1 0.1zM617.8 171.5l2.1 -2.8l2.1 1.8l-2.1 4.6zM615.8 170.4l2.1 1.1l2.1 3.6l-2.1 -2.5zM613.7 172.8l2.1 -2.4l2.1 2.2l-2.1 3.4zM611.7 172.7l2.1 0.1l2.1 3.2l-2.1 -2.3zM609.6 173.8l2.1 -1.2l2.1 1.0l-2.1 1.6zM607.6 173.0l2.1 0.8l2.1 1.4l-2.1 0.3zM605.5 176.6l2.1 -3.6l2.1 2.5l-2.1 4.3zM601.4 177.2l2.1 -1.4l2.0 1.2l-2.1 2.5zM589.1 179.9l2.1 2.1l2.0 2.1l-2.1 -2.0zM587.1 183.1l2.1 -3.2l2.0 2.2l-2.1 3.0zM576.8 186.0l2.1 -1.3l2.0 2.6l-2.1 -1.6zM574.7 187.2l2.1 -1.2l1.9 -0.3l-2.1 1.5zM572.7 185.9l2.1 1.3l1.9 -0.0l-2.1 2.1zM570.6 186.7l2.1 -0.8l1.9 3.3l-2.1 -0.8zM568.6 185.3l2.1 1.4l1.9 1.7l-2.1 -0.9zM566.5 186.4l2.1 -1.1l1.9 2.2l-2.1 1.1zM564.5 187.8l2.1 -1.4l1.9 2.2l-2.1 2.1zM562.4 187.8l2.1 -0.0l1.9 2.8l-2.1 -0.5zM560.4 188.3l2.1 -0.5l1.9 2.3l-2.1 0.4zM558.3 188.6l2.1 -0.2l1.9 2.3l-2.1 0.7zM556.3 189.9l2.1 -1.4l1.9 2.8l-2.1 1.7zM554.2 191.3l2.1 -1.4l1.9 3.1l-2.1 0.2zM552.2 191.4l2.1 -0.1l1.9 1.9l-2.1 -0.5zM527.6 203.2l2.1 -4.8l1.8 1.3l-2.1 4.3z" stroke="#7669e2"/>
<path d="M626.0 168.0l2.1 -0.6l2.1 2.9l-2.1 -0.3zM603.5 175.8l2.1 0.8l2.0 3.2l-2.1 -2.8zM599.4 179.1l2.1 -1.8l2.0 2.2l-2.1 2.2zM597.3 177.8l2.1 1.3l2.0 2.5l-2.1 -1.9zM595.3 179.8l2.1 -2.0l2.0 1.9l-2.1 1.4zM593.2 181.6l2.1 -1.8l2.0 1.3l-2.1 0.4zM591.2 182.0l2.1 -0.3l2.0 -0.1l-2.1 2.6zM585.0 183.6l2.1 -0.5l2.0 2.0l-2.1 0.7zM583.0 183.8l2.1 -0.2l2.0 2.2l-2.1 0.0zM580.9 185.2l2.1 -1.4l2.0 2.0l-2.1 1.9zM578.8 184.6l2.1 0.5l2.0 2.5l-2.1 -0.4zM525.5 204.1l2.1 -0.9l1.8 0.9l-2.1 2.0zM523.5 206.9l2.1 -2.9l1.8 2.0l-2.1 2.5z" stroke="#7465df"/>
<path d="M521.4 209.7l2.1 -2.7l1.8 1.6l-2.1 2.5zM519.4 212.0l2.1 -2.3l1.7 1.4l-2.1 2.3z" stroke="#7260dc"/>
<path d="M517.3 213.2l2.1 -1.2l1.7 1.4l-2.1 1.2z" stroke="#705cd8"/>
<path d="M642.5 160.6l2.1 3.1l2.2 3.7l-2.1 -2.4zM640.5 165.2l2.1 -4.6l2.2 4.4l-2.1 4.4zM638.4 164.4l2.1 0.8l2.2 4.2l-2.1 -1.1zM636.4 165.9l2.1 -1.5l2.2 3.9l-2.1 1.5zM630.2 170.3l2.1 -3.3l2.1 3.2l-2.1 2.1zM622.0 170.5l2.1 -0.1l2.1 2.7l-2.1 0.8zM611.7 175.2l2.1 -1.6l2.1 3.2l-2.1 0.7zM578.7 185.7l2.1 1.6l2.0 1.4l-2.1 -0.3zM576.7 187.2l2.1 -1.5l1.9 2.7l-2.1 1.6zM570.5 187.5l2.1 0.9l1.9 2.1l-2.1 -2.5zM568.5 188.6l2.1 -1.1l1.9 0.6l-2.1 1.6zM566.4 190.7l2.1 -2.1l1.9 1.1l-2.1 2.8zM564.3 190.2l2.1 0.5l1.9 1.8l-2.1 -1.3zM562.3 190.6l2.1 -0.4l1.9 1.0l-2.1 0.6zM560.2 191.3l2.1 -0.7l1.9 1.2l-2.1 2.3zM558.2 193.0l2.1 -1.7l1.9 2.8l-2.1 -0.2zM556.1 193.2l2.1 -0.2l1.9 0.9l-2.1 1.5zM554.0 192.7l2.1 0.5l1.9 2.3l-2.1 -0.2zM535.5 199.5l2.1 -1.3l1.8 1.4l-2.1 1.3zM529.4 204.1l2.1 -4.3l1.8 3.1l-2.1 4.3z" stroke="#7669e2"/>
<path d="M634.3 168.3l2.1 -2.4l2.1 3.8l-2.1 1.7zM632.2 167.0l2.1 1.4l2.1 3.1l-2.1 -1.3zM628.1 170.0l2.1 0.3l2.1 2.0l-2.1 1.3zM626.1 170.7l2.1 -0.7l2.1 3.5l-2.1 0.0zM624.0 170.4l2.1 0.3l2.1 2.9l-2.1 -0.5zM619.9 175.1l2.1 -4.6l2.1 3.4l-2.1 1.7zM617.8 172.6l2.1 2.5l2.1 0.4l-2.1 0.2zM615.8 176.0l2.1 -3.4l2.1 3.2l-2.1 2.7zM613.7 173.6l2.1 2.3l2.1 2.5l-2.1 -1.6zM609.6 175.5l2.1 -0.3l2.1 2.4l-2.1 1.4zM607.6 179.8l2.1 -4.3l2.1 3.6l-2.1 2.5zM605.5 177.0l2.1 2.8l2.0 1.7l-2.1 -0.0zM603.4 179.4l2.1 -2.5l2.0 4.5l-2.1 0.6zM601.4 181.6l2.1 -2.2l2.0 2.7l-2.1 0.8zM599.3 179.7l2.1 1.9l2.0 1.2l-2.1 -0.6zM597.3 181.1l2.1 -1.4l2.0 2.5l-2.1 1.0zM595.2 181.5l2.1 -0.4l2.0 2.2l-2.1 2.1zM593.1 184.1l2.1 -2.6l2.0 3.9l-2.1 -1.6zM591.1 182.1l2.1 2.0l2.0 -0.2l-2.1 -0.3zM589.0 185.1l2.1 -3.0l2.0 1.5l-2.1 3.2zM587.0 185.8l2.1 -0.7l2.0 1.6l-2.1 1.0zM584.9 185.8l2.1 -0.0l2.0 1.9l-2.1 -0.2zM582.9 187.7l2.1 -1.9l2.0 1.7l-2.1 2.0zM580.8 187.3l2.1 0.4l2.0 1.8l-2.1 -0.8zM574.6 189.2l2.1 -2.1l1.9 2.9l-2.1 1.1zM572.6 188.4l2.1 0.8l1.9 1.9l-2.1 -0.6zM527.3 206.0l2.1 -2.0l1.8 3.0l-2.1 0.7zM525.2 208.5l2.1 -2.5l1.8 1.7l-2.1 2.5z" stroke="#7465df"/>
<path d="M552.0 193.1l2.1 -0.4l1.9 2.5l-2.1 -1.2zM549.9 191.9l2.1 1.2l1.9 1.0l-2.1 0.1zM547.9 194.6l2.1 -2.6l1.8 2.2l-2.1 3.6zM545.8 193.3l2.1 1.3l1.8 3.1l-2.1 -3.4zM543.8 196.1l2.1 -2.8l1.8 1.0l-2.1 3.7zM541.7 195.2l2.1 0.9l1.8 1.9l-2.1 -1.9zM539.6 197.6l2.1 -2.4l1.8 1.0l-2.1 2.6zM537.6 198.2l2.1 -0.6l1.8 1.2l-2.1 0.8zM533.5 197.3l2.1 2.2l1.8 1.4l-2.1 -1.5zM531.4 199.7l2.1 -2.4l1.8 2.1l-2.1 3.4z" stroke="#736de5"/>
<path d="M523.2 211.0l2.1 -2.5l1.8 1.7l-2.1 2.4zM521.1 213.4l2.1 -2.3l1.8 1.5l-2.1 2.3z" stroke="#7260dc"/>
<path d="M519.1 214.6l2.1 -1.2l1.7 1.5l-2.1 1.1z" stroke="#705cd8"/>
<path d="M644.7 165.0l2.1 2.4l2.2 1.5l-2.1 -0.1zM642.6 169.4l2.1 -4.4l2.2 3.8l-2.1 2.0zM640.6 168.3l2.1 1.1l2.2 1.4l-2.1 0.7zM638.5 169.8l2.1 -1.5l2.2 3.2l-2.1 -0.3zM636.4 171.5l2.1 -1.7l2.2 1.4l-2.1 2.4zM634.4 170.2l2.1 1.3l2.1 2.1l-2.1 -1.6zM632.3 172.3l2.1 -2.1l2.1 1.8l-2.1 3.1zM630.2 173.5l2.1 -1.3l2.1 2.8l-2.1 0.1zM628.2 173.6l2.1 -0.0l2.1 1.7l-2.1 2.1zM626.1 173.0l2.1 0.5l2.1 3.7l-2.1 -1.1zM624.1 173.8l2.1 -0.8l2.1 3.1l-2.1 0.3zM622.0 175.5l2.1 -1.7l2.1 2.6l-2.1 1.6zM619.9 175.8l2.1 -0.2l2.1 2.6l-2.1 -1.1zM617.9 178.4l2.1 -2.7l2.1 1.2l-2.1 4.4zM615.8 176.9l2.1 1.6l2.1 3.0l-2.1 -2.1zM613.7 177.6l2.1 -0.7l2.1 2.5l-2.1 0.3zM611.7 179.0l2.1 -1.4l2.1 2.0l-2.1 0.6zM609.6 181.5l2.1 -2.5l2.1 1.1l-2.1 3.2zM607.5 181.5l2.1 0.0l2.1 1.9l-2.1 -1.9zM605.5 182.1l2.1 -0.6l2.1 0.0l-2.1 2.4zM601.3 182.3l2.1 0.6l2.0 2.8l-2.1 -1.0zM599.3 183.3l2.1 -1.0l2.0 2.3l-2.1 0.6zM597.2 185.4l2.1 -2.1l2.0 2.0l-2.1 1.4zM595.1 183.8l2.1 1.6l2.0 1.2l-2.1 0.1zM593.1 183.6l2.1 0.3l2.0 2.9l-2.1 -0.1zM591.0 186.7l2.1 -3.2l2.0 3.1l-2.1 1.4zM589.0 187.7l2.1 -1.0l2.0 1.4l-2.1 0.7zM586.9 187.4l2.1 0.2l2.0 1.1l-2.1 0.2zM584.8 189.5l2.1 -2.0l2.0 1.5l-2.1 1.2zM582.8 188.7l2.1 0.8l2.0 0.7l-2.1 -0.7zM580.7 188.4l2.1 0.3l2.0 0.8l-2.1 0.6zM578.6 190.1l2.1 -1.6l2.0 1.6l-2.1 2.0zM576.6 191.1l2.1 -1.1l2.0 1.9l-2.1 0.4zM574.5 190.5l2.1 0.6l2.0 1.3l-2.1 -0.7zM529.1 207.8l2.1 -0.7l1.8 0.6l-2.1 1.6zM527.0 210.2l2.1 -2.5l1.8 1.5l-2.1 2.3z" stroke="#7465df"/>
<path d="M603.4 182.8l2.1 -0.8l2.0 1.8l-2.1 1.8zM524.9 212.6l2.1 -2.4l1.8 1.3l-2.1 2.8zM522.9 214.9l2.1 -2.3l1.8 1.7l-2.1 2.0z" stroke="#7260dc"/>
<path d="M572.4 188.1l2.1 2.5l1.9 1.2l-2.1 0.2zM570.4 189.7l2.1 -1.6l1.9 3.8l-2.1 2.0zM568.3 192.5l2.1 -2.8l1.9 4.2l-2.1 -0.1zM566.2 191.2l2.1 1.3l1.9 1.3l-2.1 -0.3zM564.2 191.8l2.1 -0.6l1.9 2.3l-2.1 -0.5zM562.1 194.1l2.1 -2.3l1.9 1.2l-2.1 2.7zM560.0 194.0l2.1 0.2l1.9 1.6l-2.1 0.4zM558.0 195.5l2.1 -1.5l1.9 2.1l-2.1 -0.2zM555.9 195.2l2.1 0.2l1.9 0.4l-2.1 0.7zM553.8 194.1l2.1 1.2l1.9 1.4l-2.1 0.2zM539.4 199.6l2.1 -0.8l1.8 2.9l-2.1 -0.5zM537.3 200.9l2.1 -1.3l1.8 1.6l-2.1 1.0zM531.1 207.1l2.1 -4.3l1.8 1.4l-2.1 3.4z" stroke="#7669e2"/>
<path d="M551.8 194.1l2.1 -0.1l1.9 2.8l-2.1 -1.1zM549.7 197.7l2.1 -3.6l1.9 1.6l-2.1 2.3zM547.7 194.3l2.1 3.4l1.9 0.3l-2.1 -0.9zM545.6 198.0l2.1 -3.7l1.9 2.8l-2.1 2.8zM543.5 196.1l2.1 1.9l1.9 1.8l-2.1 -1.8zM541.5 198.8l2.1 -2.6l1.8 1.9l-2.1 3.7zM535.3 199.3l2.1 1.5l1.8 1.3l-2.1 -0.7zM533.2 202.8l2.1 -3.4l1.8 2.1l-2.1 2.8z" stroke="#736de5"/>
<path d="M520.8 216.0l2.1 -1.1l1.8 1.4l-2.1 1.1z" stroke="#705cd8"/>
<path d="M646.9 168.8l2.1 0.1l2.2 3.4l-2.1 -2.1zM644.8 170.8l2.1 -2.0l2.2 1.4l-2.1 4.3zM640.7 171.2l2.1 0.3l2.2 2.6l-2.1 0.5zM636.5 172.0l2.1 1.6l2.1 1.6l-2.1 0.6zM634.4 175.1l2.1 -3.1l2.1 3.9l-2.1 0.2zM626.2 176.5l2.1 -0.3l2.1 2.8l-2.1 -0.1zM624.1 178.1l2.1 -1.6l2.1 2.4l-2.1 1.6zM622.0 177.0l2.1 1.1l2.1 2.4l-2.1 -0.7zM619.9 181.4l2.1 -4.4l2.1 2.7l-2.1 2.7zM615.8 179.6l2.1 -0.3l2.1 3.0l-2.1 -0.9zM613.7 180.2l2.1 -0.6l2.1 1.8l-2.1 2.8zM611.7 183.4l2.1 -3.2l2.1 4.1l-2.1 1.5zM609.6 181.5l2.1 1.9l2.1 2.4l-2.1 -1.1zM607.5 183.9l2.1 -2.4l2.1 3.1l-2.1 1.5zM601.3 185.3l2.1 -0.6l2.0 1.7l-2.1 0.8zM599.2 186.7l2.1 -1.4l2.0 1.8l-2.1 2.1zM597.2 186.8l2.1 -0.1l2.0 2.5l-2.1 -0.5zM595.1 186.7l2.1 0.1l2.0 1.9l-2.1 0.5zM593.0 188.1l2.1 -1.4l2.0 2.5l-2.1 1.2zM590.9 188.8l2.1 -0.7l2.0 2.2l-2.1 -0.4zM588.9 189.0l2.1 -0.2l2.0 1.1l-2.1 1.8zM586.8 190.2l2.1 -1.2l2.0 2.7l-2.1 -1.0zM584.7 189.5l2.1 0.7l2.0 0.5l-2.1 1.3zM582.7 190.0l2.1 -0.6l2.0 2.6l-2.1 1.7zM580.6 192.0l2.1 -2.0l2.0 3.7l-2.1 -0.8zM578.5 192.4l2.1 -0.4l2.0 1.0l-2.1 0.8zM576.4 191.7l2.1 0.7l2.0 1.4l-2.1 0.2zM570.2 193.8l2.1 0.1l1.9 0.9l-2.1 1.0zM530.9 209.3l2.1 -1.6l1.8 2.1l-2.1 0.9zM528.8 211.5l2.1 -2.3l1.8 1.3l-2.1 2.5z" stroke="#7465df"/>
<path d="M642.7 171.5l2.1 -0.7l2.2 3.7l-2.1 -0.4zM638.6 173.6l2.1 -2.4l2.2 3.4l-2.1 0.6zM632.4 175.2l2.1 -0.1l2.1 1.0l-2.1 0.5zM630.3 177.3l2.1 -2.1l2.1 1.4l-2.1 2.2zM628.2 176.2l2.1 1.1l2.1 1.5l-2.1 0.2zM617.9 179.3l2.1 2.1l2.1 1.0l-2.1 -0.0zM605.4 185.6l2.1 -1.8l2.0 2.2l-2.1 0.6zM603.4 184.6l2.1 1.0l2.0 1.0l-2.1 -0.4zM526.7 214.3l2.1 -2.8l1.8 1.6l-2.1 2.6zM524.7 216.3l2.1 -2.0l1.8 1.4l-2.1 1.9z" stroke="#7260dc"/>
<path d="M574.4 191.9l2.1 -0.2l1.9 2.3l-2.1 -1.6zM572.3 193.9l2.1 -2.0l1.9 0.6l-2.1 2.3zM568.2 193.5l2.1 0.3l1.9 2.0l-2.1 0.8zM566.1 193.0l2.1 0.5l1.9 3.1l-2.1 0.5zM564.0 195.7l2.1 -2.7l1.9 4.1l-2.1 1.4zM561.9 196.1l2.1 -0.4l1.9 2.8l-2.1 0.1zM559.9 195.9l2.1 0.2l1.9 2.5l-2.1 -0.6zM557.8 196.6l2.1 -0.7l1.9 2.1l-2.1 1.0zM555.7 196.8l2.1 -0.2l1.9 2.4l-2.1 0.1zM541.2 201.2l2.1 0.5l1.8 2.3l-2.1 0.2zM539.2 202.2l2.1 -1.0l1.8 3.0l-2.1 0.8zM532.9 207.7l2.1 -3.4l1.8 1.6l-2.1 4.0z" stroke="#7669e2"/>
<path d="M553.7 195.7l2.1 1.1l1.9 2.4l-2.1 -1.1zM551.6 198.0l2.1 -2.3l1.9 2.3l-2.1 2.7zM549.5 197.1l2.1 0.9l1.9 2.7l-2.1 -1.6zM547.4 199.8l2.1 -2.8l1.9 2.1l-2.1 2.5zM545.4 198.0l2.1 1.8l1.9 1.9l-2.1 0.0zM543.3 201.7l2.1 -3.7l1.8 3.7l-2.1 2.3zM537.1 201.5l2.1 0.7l1.8 2.8l-2.1 -1.4zM535.0 204.2l2.1 -2.8l1.8 2.1l-2.1 2.2z" stroke="#736de5"/>
<path d="M522.6 217.4l2.1 -1.1l1.8 1.4l-2.1 1.1z" stroke="#705cd8"/>
<path d="M649.0 170.2l2.1 2.1l2.2 2.1l-2.1 -0.7zM647.0 174.5l2.1 -4.3l2.2 3.5l-2.1 2.3zM644.9 174.1l2.1 0.4l2.2 1.6l-2.1 1.0zM642.8 174.6l2.1 -0.5l2.2 3.0l-2.1 0.1zM640.7 175.2l2.1 -0.6l2.2 2.5l-2.1 1.2zM638.7 175.9l2.1 -0.6l2.1 3.1l-2.1 -1.2zM636.6 176.1l2.1 -0.2l2.1 1.2l-2.1 2.2zM634.5 176.6l2.1 -0.5l2.1 3.2l-2.1 0.2zM632.4 178.8l2.1 -2.2l2.1 2.9l-2.1 0.7zM630.3 178.9l2.1 -0.2l2.1 1.4l-2.1 -0.0zM628.3 178.9l2.1 0.1l2.1 1.2l-2.1 0.9zM626.2 180.4l2.1 -1.6l2.1 2.2l-2.1 1.8zM624.1 179.7l2.1 0.7l2.1 2.5l-2.1 -1.7zM622.0 182.4l2.1 -2.7l2.1 1.5l-2.1 2.4zM620.0 182.4l2.1 0.0l2.1 1.2l-2.1 -0.3zM615.8 184.2l2.1 -2.8l2.1 1.2l-2.1 3.0zM613.7 185.7l2.1 -1.5l2.1 1.4l-2.1 0.4zM611.6 184.6l2.1 1.1l2.1 0.3l-2.1 -1.1zM609.6 186.1l2.1 -1.5l2.1 0.3l-2.1 2.3zM607.5 186.7l2.1 -0.6l2.0 1.2l-2.1 2.1zM605.4 186.3l2.1 0.4l2.0 2.7l-2.1 -0.8zM603.3 187.1l2.1 -0.8l2.0 2.3l-2.1 0.9zM601.2 189.2l2.1 -2.1l2.0 2.4l-2.1 1.1zM599.2 188.6l2.1 0.5l2.0 1.4l-2.1 -0.6zM597.1 189.1l2.1 -0.5l2.0 1.4l-2.1 1.8zM595.0 190.3l2.1 -1.2l2.0 2.7l-2.1 -0.5zM528.5 215.7l2.1 -2.6l1.8 1.7l-2.1 2.6zM526.4 217.7l2.1 -1.9l1.8 1.7l-2.1 1.8z" stroke="#7260dc"/>
<path d="M617.9 181.4l2.1 0.9l2.1 0.9l-2.1 -0.6zM592.9 189.9l2.1 0.4l2.0 1.1l-2.1 -0.0zM590.9 191.7l2.1 -1.8l2.0 1.5l-2.1 2.3zM588.8 190.7l2.1 1.0l2.0 2.0l-2.1 -0.5zM586.7 192.0l2.1 -1.3l2.0 2.4l-2.1 -1.1zM584.6 193.8l2.1 -1.7l2.0 -0.0l-2.1 1.1zM582.5 193.0l2.1 0.8l2.0 -0.7l-2.1 2.6zM580.5 193.8l2.1 -0.8l2.0 2.7l-2.1 -0.9zM578.4 194.0l2.1 -0.2l2.0 1.1l-2.1 0.9zM572.2 195.7l2.1 -1.0l1.9 0.9l-2.1 1.9zM570.1 196.6l2.1 -0.8l1.9 1.8l-2.1 0.8zM568.0 197.1l2.1 -0.5l1.9 1.8l-2.1 -0.3zM565.9 198.5l2.1 -1.4l1.9 1.0l-2.1 4.5zM563.8 198.6l2.1 -0.1l1.9 4.0l-2.1 -1.8zM532.7 210.6l2.1 -0.9l1.8 2.8l-2.1 -1.1zM530.6 213.1l2.1 -2.5l1.8 0.8l-2.1 3.4z" stroke="#7465df"/>
<path d="M576.3 192.4l2.1 1.6l1.9 1.7l-2.1 -0.1zM574.2 194.8l2.1 -2.3l1.9 3.2l-2.1 0.1zM561.8 198.0l2.1 0.6l1.9 2.1l-2.1 -2.0zM559.7 199.0l2.1 -1.0l1.9 0.7l-2.1 1.9zM557.6 199.2l2.1 -0.1l1.9 1.5l-2.1 0.4zM555.5 198.0l2.1 1.1l1.9 1.8l-2.1 -0.8zM553.4 200.7l2.1 -2.7l1.9 2.2l-2.1 0.5zM551.4 199.2l2.1 1.6l1.9 -0.0l-2.1 1.1zM549.3 201.7l2.1 -2.5l1.9 2.6l-2.1 1.6zM547.2 201.7l2.1 -0.0l1.9 1.7l-2.1 -0.7zM545.1 204.0l2.1 -2.3l1.8 0.9l-2.1 3.1zM543.1 204.2l2.1 -0.2l1.8 1.7l-2.1 0.7zM541.0 205.0l2.1 -0.8l1.8 2.2l-2.1 1.5zM538.9 203.6l2.1 1.4l1.8 2.9l-2.1 -3.0zM536.8 205.8l2.1 -2.2l1.8 1.3l-2.1 2.3zM534.7 209.7l2.1 -4.0l1.8 1.4l-2.1 5.3z" stroke="#7669e2"/>
<path d="M524.4 218.8l2.1 -1.1l1.8 1.5l-2.1 1.1z" stroke="#705cd8"/>
<path d="M651.2 173.7l2.1 0.7l2.2 2.7l-2.1 -0.4zM649.1 176.1l2.1 -2.3l2.2 2.9l-2.1 1.7zM640.8 177.0l2.1 1.2l2.1 1.3l-2.1 0.4zM638.7 179.3l2.1 -2.2l2.1 2.9l-2.1 0.5zM636.6 179.5l2.1 -0.2l2.1 1.2l-2.1 1.6zM634.5 180.2l2.1 -0.7l2.1 2.6l-2.1 1.7zM632.5 180.2l2.1 0.0l2.1 3.5l-2.1 -0.9zM630.4 181.1l2.1 -0.9l2.1 2.6l-2.1 1.2zM628.3 182.9l2.1 -1.8l2.1 2.9l-2.1 0.0zM626.2 181.2l2.1 1.7l2.1 1.1l-2.1 -0.4zM624.1 183.6l2.1 -2.4l2.1 2.4l-2.1 1.7zM622.0 183.3l2.1 0.3l2.1 1.7l-2.1 0.1zM619.9 182.6l2.1 0.6l2.1 2.1l-2.1 0.1zM617.9 185.6l2.1 -3.0l2.1 2.9l-2.1 2.6zM615.8 186.0l2.1 -0.4l2.1 2.4l-2.1 0.4zM613.7 184.9l2.1 1.1l2.1 2.5l-2.1 -1.6zM611.6 187.3l2.1 -2.3l2.1 2.0l-2.1 3.0zM609.5 189.4l2.1 -2.1l2.0 2.7l-2.1 0.5zM607.4 188.6l2.1 0.8l2.0 1.1l-2.1 0.0zM605.4 189.5l2.1 -0.9l2.0 1.8l-2.1 1.0zM603.3 190.6l2.1 -1.1l2.0 2.0l-2.1 -0.3zM601.2 190.0l2.1 0.6l2.0 0.6l-2.1 2.6zM599.1 191.8l2.1 -1.8l2.0 3.7l-2.1 -0.8zM597.0 191.4l2.1 0.5l2.0 1.1l-2.1 -0.5zM590.8 193.2l2.1 0.5l2.0 1.6l-2.1 0.1zM530.3 217.4l2.1 -2.6l1.8 1.8l-2.1 2.5zM528.2 219.2l2.1 -1.8l1.8 1.7l-2.1 1.5z" stroke="#7260dc"/>
<path d="M647.0 177.0l2.1 -1.0l2.2 2.3l-2.1 0.2zM645.0 177.1l2.1 -0.1l2.2 1.5l-2.1 0.9zM642.9 178.3l2.1 -1.2l2.2 2.3l-2.1 0.2zM526.1 220.2l2.1 -1.1l1.8 1.4l-2.1 1.0z" stroke="#705cd8"/>
<path d="M594.9 191.4l2.1 0.0l2.0 1.1l-2.1 -0.1zM592.8 193.7l2.1 -2.3l2.0 1.0l-2.1 2.9zM588.7 192.0l2.1 1.1l2.0 2.2l-2.1 -1.9zM586.6 193.1l2.1 -1.1l2.0 1.4l-2.1 3.7zM584.5 195.7l2.1 -2.6l2.0 4.0l-2.1 -0.6zM582.4 194.8l2.1 0.9l2.0 0.8l-2.1 -0.2zM580.3 195.7l2.1 -0.9l2.0 1.5l-2.1 1.4zM578.2 195.6l2.1 0.1l1.9 2.0l-2.1 -0.1zM576.2 195.7l2.1 -0.1l1.9 2.0l-2.1 1.9zM574.1 197.5l2.1 -1.9l1.9 3.8l-2.1 -0.5zM572.0 198.4l2.1 -0.8l1.9 1.4l-2.1 1.1zM569.9 198.1l2.1 0.3l1.9 1.7l-2.1 0.3zM567.8 202.5l2.1 -4.5l1.9 2.3l-2.1 3.5zM565.7 200.7l2.1 1.8l1.9 1.2l-2.1 -0.4zM534.5 211.4l2.1 1.1l1.8 0.6l-2.1 0.9zM532.4 214.8l2.1 -3.4l1.8 2.6l-2.1 2.6z" stroke="#7465df"/>
<path d="M563.7 198.7l2.1 2.0l1.9 2.6l-2.1 -2.9zM561.6 200.6l2.1 -1.9l1.9 1.8l-2.1 1.3zM559.5 201.0l2.1 -0.4l1.9 1.2l-2.1 0.1zM557.4 200.2l2.1 0.8l1.9 0.9l-2.1 0.6zM555.3 200.7l2.1 -0.5l1.9 2.2l-2.1 1.5zM553.2 201.8l2.1 -1.1l1.9 3.3l-2.1 1.3zM551.1 203.4l2.1 -1.6l1.9 3.5l-2.1 1.3zM549.1 202.6l2.1 0.7l1.9 3.2l-2.1 -1.7zM547.0 205.7l2.1 -3.1l1.8 2.3l-2.1 3.7zM544.9 206.4l2.1 -0.7l1.8 2.9l-2.1 -1.3zM542.8 207.9l2.1 -1.5l1.8 0.9l-2.1 1.8zM540.7 204.9l2.1 3.0l1.8 1.2l-2.1 -1.3zM538.6 207.1l2.1 -2.3l1.8 2.9l-2.1 0.7zM536.6 212.5l2.1 -5.3l1.8 1.3l-2.1 4.7z" stroke="#7669e2"/>
<path d="M653.4 176.6l2.1 0.4l2.2 1.0l-2.1 0.9zM651.3 178.4l2.1 -1.7l2.2 2.4l-2.1 0.7zM649.2 178.5l2.1 -0.2l2.2 1.4l-2.1 0.3zM647.1 179.4l2.1 -0.9l2.2 1.6l-2.1 1.1zM645.0 179.6l2.1 -0.2l2.2 1.9l-2.1 0.3zM642.9 180.0l2.1 -0.4l2.1 2.0l-2.1 0.2zM636.7 183.7l2.1 -1.7l2.1 0.7l-2.1 2.2zM634.6 182.8l2.1 0.9l2.1 1.2l-2.1 -0.3zM530.0 220.6l2.1 -1.5l1.8 1.2l-2.1 1.8zM527.9 221.6l2.1 -1.0l1.8 1.5l-2.1 0.9z" stroke="#705cd8"/>
<path d="M640.8 180.4l2.1 -0.5l2.1 1.8l-2.1 -0.6zM638.7 182.0l2.1 -1.6l2.1 0.7l-2.1 1.6zM632.5 184.0l2.1 -1.2l2.1 1.9l-2.1 -0.0zM630.4 184.0l2.1 -0.0l2.1 0.7l-2.1 1.7zM628.3 183.6l2.1 0.4l2.1 2.4l-2.1 -0.1zM626.2 185.3l2.1 -1.7l2.1 2.6l-2.1 -0.1zM624.1 185.4l2.1 -0.1l2.1 0.8l-2.1 1.8zM622.0 185.5l2.1 -0.1l2.1 2.5l-2.1 -2.0zM619.9 188.1l2.1 -2.6l2.1 0.4l-2.1 4.4zM617.8 188.5l2.1 -0.4l2.1 2.2l-2.1 -1.0zM615.7 186.9l2.1 1.6l2.1 0.8l-2.1 -0.3zM613.7 189.9l2.1 -3.0l2.1 2.1l-2.1 1.9zM611.6 190.4l2.1 -0.5l2.0 1.0l-2.1 2.3zM609.5 190.4l2.1 -0.0l2.0 2.9l-2.1 -1.0zM607.4 191.5l2.1 -1.0l2.0 1.9l-2.1 0.8zM605.3 191.2l2.1 0.3l2.0 1.7l-2.1 -1.8zM603.2 193.8l2.1 -2.6l2.0 0.1l-2.1 3.6zM601.1 193.0l2.1 0.8l2.0 1.1l-2.1 0.4zM599.0 192.4l2.1 0.5l2.0 2.3l-2.1 -1.8zM592.7 195.4l2.1 -0.1l2.0 0.5l-2.1 0.1zM567.6 203.4l2.1 0.4l1.9 3.1l-2.1 -0.9zM532.1 219.0l2.1 -2.5l1.8 1.5l-2.1 2.2z" stroke="#7260dc"/>
<path d="M596.9 192.4l2.1 0.1l2.0 1.0l-2.1 -0.1zM594.8 195.3l2.1 -2.9l2.0 0.9l-2.1 2.5zM590.6 193.5l2.1 1.9l2.0 0.5l-2.1 -0.0zM588.6 197.1l2.1 -3.7l2.0 2.4l-2.1 1.9zM586.5 196.5l2.1 0.6l2.0 0.6l-2.1 1.2zM584.4 196.3l2.1 0.2l2.0 2.4l-2.1 -2.1zM582.3 197.7l2.1 -1.4l2.0 0.5l-2.1 1.7zM580.2 197.6l2.1 0.1l1.9 0.9l-2.1 -0.0zM578.1 199.5l2.1 -1.9l1.9 0.9l-2.1 1.1zM576.0 199.0l2.1 0.5l1.9 0.2l-2.1 1.2zM573.9 200.0l2.1 -1.1l1.9 1.9l-2.1 1.8zM571.8 200.3l2.1 -0.3l1.9 2.6l-2.1 0.4zM569.7 203.8l2.1 -3.5l1.9 2.8l-2.1 3.8zM565.5 200.5l2.1 2.9l1.9 2.6l-2.1 -4.3zM553.0 206.6l2.1 -1.3l1.9 1.5l-2.1 0.9zM536.3 214.0l2.1 -0.9l1.8 2.2l-2.1 -1.5zM534.2 216.5l2.1 -2.6l1.8 -0.2l-2.1 4.3z" stroke="#7465df"/>
<path d="M563.5 201.8l2.1 -1.3l1.9 1.3l-2.1 4.0zM561.4 201.8l2.1 -0.1l1.9 3.9l-2.1 -2.6zM559.3 202.4l2.1 -0.6l1.9 1.3l-2.1 0.9zM557.2 204.0l2.1 -1.5l1.9 1.6l-2.1 0.3zM555.1 205.3l2.1 -1.3l1.9 0.4l-2.1 2.4zM550.9 204.9l2.1 1.7l1.9 1.1l-2.1 -0.3zM548.8 208.6l2.1 -3.7l1.8 2.5l-2.1 2.5zM546.7 207.3l2.1 1.3l1.8 1.3l-2.1 -0.1zM544.6 209.1l2.1 -1.8l1.8 2.5l-2.1 1.0zM542.5 207.8l2.1 1.3l1.8 1.7l-2.1 -2.0zM540.5 208.4l2.1 -0.7l1.8 1.0l-2.1 0.7zM538.4 213.1l2.1 -4.7l1.8 1.1l-2.1 5.8z" stroke="#7669e2"/>
<path d="M655.6 179.0l2.1 -0.9l2.2 1.4l-2.1 0.7zM653.5 179.7l2.1 -0.7l2.2 1.2l-2.1 0.7zM651.4 180.1l2.1 -0.3l2.2 1.2l-2.1 0.7zM649.3 181.2l2.1 -1.1l2.2 1.6l-2.1 0.7zM647.2 181.5l2.1 -0.3l2.2 1.2l-2.1 0.7zM645.1 181.8l2.1 -0.2l2.1 1.7l-2.1 0.7zM636.7 184.7l2.1 0.3l2.1 1.2l-2.1 -0.2zM531.8 222.1l2.1 -1.8l1.8 1.6l-2.1 1.7zM529.7 223.0l2.1 -0.9l1.8 1.4l-2.1 0.9z" stroke="#705cd8"/>
<path d="M643.0 181.1l2.1 0.6l2.1 2.2l-2.1 -1.4zM640.9 182.7l2.1 -1.6l2.1 1.4l-2.1 0.8zM638.8 184.9l2.1 -2.2l2.1 0.7l-2.1 2.8zM634.6 184.6l2.1 0.0l2.1 1.3l-2.1 0.8zM632.5 186.3l2.1 -1.7l2.1 2.1l-2.1 0.5zM630.4 186.2l2.1 0.1l2.1 0.9l-2.1 -0.0zM628.3 186.1l2.1 0.1l2.1 1.0l-2.1 -0.9zM626.2 187.9l2.1 -1.8l2.1 0.1l-2.1 3.3zM624.1 185.9l2.1 2.0l2.1 1.6l-2.1 -0.9zM622.0 190.3l2.1 -4.4l2.1 2.8l-2.1 2.5zM619.9 189.3l2.1 1.0l2.1 0.9l-2.1 0.5zM617.8 189.0l2.1 0.3l2.1 2.4l-2.1 -3.5zM615.7 191.0l2.1 -1.9l2.1 -0.8l-2.1 3.9zM613.6 193.3l2.1 -2.3l2.0 1.2l-2.1 1.3zM611.5 192.4l2.1 1.0l2.0 0.2l-2.1 -0.3zM609.4 193.1l2.1 -0.8l2.0 0.9l-2.1 2.0zM607.3 191.3l2.1 1.8l2.0 2.1l-2.1 -1.6zM605.2 194.9l2.1 -3.6l2.0 2.4l-2.1 2.3zM603.1 195.2l2.1 -0.4l2.0 1.1l-2.1 -0.2zM601.0 193.4l2.1 1.8l2.0 0.6l-2.1 -0.5zM594.7 195.9l2.1 -0.1l2.0 4.2l-2.1 -2.3zM588.4 198.9l2.1 -1.2l2.0 2.3l-2.1 -0.5zM571.6 206.9l2.1 -3.8l1.9 1.9l-2.1 4.4zM569.5 206.0l2.1 0.9l1.9 2.4l-2.1 -1.1zM533.9 220.3l2.1 -2.2l1.8 1.5l-2.1 2.3z" stroke="#7260dc"/>
<path d="M598.9 193.3l2.1 0.1l2.0 1.9l-2.1 -2.1zM596.8 195.8l2.1 -2.5l2.0 -0.1l-2.1 6.7zM592.6 195.9l2.1 0.0l2.0 1.8l-2.1 -0.6zM590.5 197.8l2.1 -1.9l2.0 1.2l-2.1 3.0zM586.3 196.8l2.1 2.1l2.0 0.6l-2.1 -0.7zM584.2 198.6l2.1 -1.7l2.0 2.0l-2.1 0.7zM582.1 198.5l2.1 0.0l1.9 1.0l-2.1 0.4zM580.0 199.7l2.1 -1.1l1.9 1.4l-2.1 1.6zM577.9 200.9l2.1 -1.2l1.9 1.8l-2.1 1.3zM575.8 202.7l2.1 -1.8l1.9 1.9l-2.1 1.4zM573.7 203.1l2.1 -0.4l1.9 1.5l-2.1 0.8zM567.4 201.7l2.1 4.3l1.9 2.2l-2.1 -5.0zM554.9 207.7l2.1 -0.9l1.9 0.7l-2.1 2.3zM552.8 207.5l2.1 0.3l1.9 2.0l-2.1 -0.1zM550.7 209.9l2.1 -2.5l1.8 2.2l-2.1 3.2zM548.6 209.8l2.1 0.1l1.8 2.9l-2.1 -0.8zM546.5 210.8l2.1 -1.0l1.8 2.2l-2.1 1.2zM538.1 213.8l2.1 1.5l1.8 0.1l-2.1 0.7zM536.0 218.1l2.1 -4.3l1.8 2.3l-2.1 3.4z" stroke="#7465df"/>
<path d="M565.3 205.7l2.1 -4.0l1.9 1.5l-2.1 1.2zM563.2 203.2l2.1 2.6l1.9 -1.3l-2.1 0.1zM561.1 204.0l2.1 -0.9l1.9 1.4l-2.1 0.5zM559.0 204.4l2.1 -0.3l1.9 1.0l-2.1 1.4zM557.0 206.8l2.1 -2.4l1.9 2.1l-2.1 0.9zM544.4 208.8l2.1 2.0l1.8 2.4l-2.1 -2.4zM542.3 209.5l2.1 -0.7l1.8 2.1l-2.1 -0.1zM540.2 215.3l2.1 -5.8l1.8 1.3l-2.1 4.6z" stroke="#7669e2"/>
<path d="M657.7 180.2l2.1 -0.7l2.2 1.2l-2.1 0.7zM655.6 181.0l2.1 -0.7l2.2 1.2l-2.1 0.7zM653.5 181.7l2.1 -0.7l2.2 1.2l-2.1 0.7zM651.4 182.5l2.1 -0.7l2.2 1.2l-2.1 0.7zM649.3 183.2l2.1 -0.7l2.2 1.2l-2.1 0.0zM647.2 183.9l2.1 -0.7l2.1 0.5l-2.1 -0.4zM638.8 185.9l2.1 0.2l2.1 1.2l-2.1 -0.1zM636.7 186.7l2.1 -0.8l2.1 1.3l-2.1 1.1zM634.6 187.2l2.1 -0.5l2.1 1.6l-2.1 0.8zM622.0 191.7l2.1 -0.5l2.1 2.1l-2.1 -0.8zM533.6 223.5l2.1 -1.7l1.8 1.7l-2.1 1.4zM531.4 224.4l2.1 -0.9l1.8 1.4l-2.1 0.9z" stroke="#705cd8"/>
<path d="M645.1 182.5l2.1 1.4l2.1 -0.6l-2.1 0.9zM643.0 183.4l2.1 -0.8l2.1 1.7l-2.1 1.4zM640.9 186.2l2.1 -2.8l2.1 2.3l-2.1 1.7zM632.5 187.2l2.1 0.0l2.1 1.9l-2.1 -2.1zM630.4 186.2l2.1 0.9l2.1 -0.1l-2.1 1.1zM628.3 189.5l2.1 -3.3l2.1 1.9l-2.1 2.2zM626.2 188.7l2.1 0.9l2.1 0.8l-2.1 -0.9zM624.1 191.2l2.1 -2.5l2.1 0.8l-2.1 3.9zM619.8 188.3l2.1 3.5l2.1 0.8l-2.1 -1.3zM617.7 192.2l2.1 -3.9l2.1 3.1l-2.1 2.6zM615.6 193.5l2.1 -1.3l2.0 1.7l-2.1 1.0zM613.5 193.2l2.1 0.3l2.0 1.4l-2.1 1.1zM611.4 195.3l2.1 -2.0l2.0 2.8l-2.1 -1.4zM609.3 193.7l2.1 1.6l2.0 -0.6l-2.1 0.3zM607.2 196.0l2.1 -2.3l2.0 1.2l-2.1 2.7zM605.1 195.8l2.1 0.2l2.0 1.7l-2.1 -0.9zM603.0 195.3l2.1 0.5l2.0 0.9l-2.1 -0.1zM596.7 197.7l2.1 2.3l2.0 0.6l-2.1 -0.7zM590.4 199.5l2.1 0.5l2.0 2.0l-2.1 0.2zM575.6 204.9l2.1 -0.8l1.9 2.8l-2.1 -0.4zM573.5 209.3l2.1 -4.4l1.9 1.6l-2.1 4.5zM571.4 208.2l2.1 1.1l1.9 1.7l-2.1 -1.8zM535.7 221.8l2.1 -2.3l1.8 2.0l-2.1 2.0z" stroke="#7260dc"/>
<path d="M600.9 193.2l2.1 2.1l2.0 1.3l-2.1 0.4zM598.8 199.9l2.1 -6.7l2.0 3.8l-2.1 3.6zM594.6 197.0l2.1 0.6l2.0 2.2l-2.1 -0.5zM592.5 200.1l2.1 -3.0l2.0 2.3l-2.1 2.7zM588.3 198.8l2.1 0.7l2.0 2.7l-2.1 -1.6zM586.2 199.5l2.1 -0.7l2.0 1.8l-2.1 0.5zM584.1 199.9l2.1 -0.4l1.9 1.6l-2.1 2.2zM582.0 201.5l2.1 -1.6l1.9 3.4l-2.1 -0.4zM579.9 202.8l2.1 -1.3l1.9 1.4l-2.1 1.1zM577.8 204.2l2.1 -1.4l1.9 1.3l-2.1 2.9zM569.3 203.2l2.1 5.0l1.9 1.0l-2.1 -4.1zM558.8 207.4l2.1 -0.9l1.9 2.8l-2.1 1.7zM556.7 209.7l2.1 -2.3l1.9 3.5l-2.1 1.4zM554.6 209.6l2.1 0.1l1.9 2.7l-2.1 1.2zM552.5 212.9l2.1 -3.2l1.8 4.0l-2.1 1.7zM550.4 212.0l2.1 0.8l1.8 2.4l-2.1 -1.4zM548.3 213.3l2.1 -1.2l1.8 1.8l-2.1 0.7zM539.9 216.1l2.1 -0.7l1.8 3.1l-2.1 -1.0zM537.8 219.5l2.1 -3.4l1.8 1.4l-2.1 4.0z" stroke="#7465df"/>
<path d="M567.2 204.5l2.1 -1.2l1.9 1.9l-2.1 3.1zM565.1 204.6l2.1 -0.1l1.9 3.8l-2.1 -1.4zM563.0 205.1l2.1 -0.5l1.9 2.4l-2.1 0.2zM560.9 206.5l2.1 -1.4l1.9 2.1l-2.1 2.1zM546.2 210.9l2.1 2.4l1.8 1.3l-2.1 -1.9zM544.1 210.8l2.1 0.1l1.8 1.8l-2.1 0.6zM542.0 215.4l2.1 -4.6l1.8 2.6l-2.1 5.1z" stroke="#7669e2"/>
<path d="M659.9 181.5l2.1 -0.7l2.2 1.2l-2.1 0.7zM657.8 182.2l2.1 -0.7l2.2 1.2l-2.1 0.7zM655.7 182.9l2.1 -0.7l2.1 1.2l-2.1 0.7zM653.6 183.7l2.1 -0.7l2.1 1.2l-2.1 0.7zM651.5 183.7l2.1 -0.0l2.1 1.2l-2.1 0.4zM649.3 183.3l2.1 0.4l2.1 1.6l-2.1 0.8zM645.1 185.6l2.1 -1.4l2.1 2.6l-2.1 1.1zM643.0 187.3l2.1 -1.7l2.1 2.3l-2.1 0.1zM640.9 187.2l2.1 0.1l2.0 0.6l-2.1 1.1zM638.8 188.3l2.1 -1.1l2.0 1.9l-2.1 0.5zM636.7 189.2l2.1 -0.8l2.0 1.2l-2.1 1.2zM624.0 192.6l2.1 0.8l1.9 0.2l-2.1 0.1zM535.3 224.9l2.1 -1.4l1.3 1.3l-2.1 1.7zM533.2 225.8l2.1 -0.9l1.3 1.7l-2.1 0.8z" stroke="#705cd8"/>
<path d="M647.2 184.2l2.1 -0.9l2.1 2.9l-2.1 0.6zM634.6 187.1l2.1 2.1l2.0 1.6l-2.1 -1.4zM632.5 188.2l2.1 -1.1l2.0 2.3l-2.1 1.1zM630.3 190.4l2.1 -2.2l2.0 2.3l-2.1 1.8zM628.2 189.5l2.1 0.9l2.0 1.9l-2.1 -0.8zM626.1 193.3l2.1 -3.9l1.9 2.0l-2.1 2.1zM621.9 191.3l2.1 1.3l1.9 1.1l-2.1 0.0zM619.8 193.9l2.1 -2.6l1.9 2.4l-2.1 0.4zM617.7 194.9l2.1 -1.0l1.9 0.2l-2.1 1.6zM615.6 196.0l2.1 -1.1l1.9 0.7l-2.1 0.4zM613.5 194.6l2.1 1.4l1.9 0.1l-2.1 0.4zM611.3 194.9l2.1 -0.3l1.8 1.9l-2.1 0.3zM609.2 197.7l2.1 -2.7l1.8 1.8l-2.1 1.0zM607.1 196.7l2.1 0.9l1.8 0.1l-2.1 0.4zM605.0 196.6l2.1 0.1l1.8 1.5l-2.1 1.5zM600.8 200.6l2.1 -3.6l1.8 0.6l-2.1 4.3zM598.7 199.8l2.1 0.7l1.7 1.3l-2.1 0.1zM596.6 199.3l2.1 0.5l1.7 2.2l-2.1 -1.1zM594.5 202.1l2.1 -2.7l1.7 1.6l-2.1 2.9zM592.3 202.3l2.1 -0.2l1.7 1.8l-2.1 -1.4zM579.7 207.0l2.1 -2.9l1.6 2.8l-2.1 1.5zM577.6 206.6l2.1 0.4l1.6 1.4l-2.1 0.5zM575.4 211.0l2.1 -4.5l1.6 2.2l-2.1 3.0zM573.3 209.3l2.1 1.8l1.6 0.8l-2.1 -0.8zM537.4 223.6l2.1 -2.0l1.3 1.3l-2.1 2.1z" stroke="#7260dc"/>
<path d="M602.9 197.0l2.1 -0.4l1.8 3.1l-2.1 -2.1zM590.2 200.6l2.1 1.6l1.7 0.1l-2.1 0.7zM588.1 201.2l2.1 -0.5l1.7 2.4l-2.1 -0.6zM586.0 203.3l2.1 -2.2l1.7 1.3l-2.1 1.2zM583.9 202.9l2.1 0.4l1.6 0.4l-2.1 1.1zM581.8 204.0l2.1 -1.1l1.6 1.9l-2.1 2.0zM571.2 205.2l2.1 4.1l1.6 1.7l-2.1 -2.9zM569.1 208.3l2.1 -3.1l1.5 2.9l-2.1 1.3zM567.0 206.9l2.1 1.4l1.5 1.0l-2.1 -0.1zM564.9 207.2l2.1 -0.2l1.5 2.3l-2.1 0.9zM562.8 209.3l2.1 -2.1l1.5 2.9l-2.1 0.1zM560.7 211.0l2.1 -1.7l1.5 0.8l-2.1 2.3zM558.6 212.4l2.1 -1.4l1.5 1.4l-2.1 1.7zM556.4 213.6l2.1 -1.2l1.4 1.7l-2.1 -0.2zM554.3 215.3l2.1 -1.7l1.4 0.3l-2.1 3.3zM552.2 213.9l2.1 1.4l1.4 2.0l-2.1 -0.8zM550.1 214.6l2.1 -0.7l1.4 2.6l-2.1 1.0zM548.0 212.7l2.1 1.9l1.4 2.8l-2.1 -2.8zM543.8 218.5l2.1 -5.1l1.4 1.5l-2.1 4.3zM541.7 217.5l2.1 1.0l1.3 0.6l-2.1 0.7zM539.6 221.5l2.1 -4.0l1.3 2.3l-2.1 2.9z" stroke="#7465df"/>
<path d="M545.9 213.4l2.1 -0.6l1.4 1.9l-2.1 0.2z" stroke="#7669e2"/>
<path d="M662.1 182.7l2.1 -0.7l2.2 1.2l-2.1 0.6zM659.9 183.4l2.1 -0.7l2.2 1.0l-2.1 1.0zM657.8 184.2l2.1 -0.7l2.1 1.2l-2.1 0.7zM655.7 184.9l2.1 -0.7l2.1 1.1l-2.1 0.9zM653.6 185.3l2.1 -0.4l2.1 1.2l-2.1 -0.6zM651.4 186.2l2.1 -0.8l2.1 0.2l-2.1 2.1zM649.3 186.8l2.1 -0.6l2.1 1.5l-2.1 -0.3zM647.2 187.9l2.1 -1.1l2.1 0.6l-2.1 1.5zM645.1 188.0l2.1 -0.1l2.1 1.0l-2.1 0.3zM642.9 189.1l2.1 -1.1l2.0 1.3l-2.1 1.2zM640.8 189.6l2.1 -0.5l2.0 1.4l-2.1 0.6zM638.7 190.7l2.1 -1.2l2.0 1.5l-2.1 0.4zM536.6 226.6l2.1 -1.7l1.2 1.9l-2.1 1.4zM534.5 227.4l2.1 -0.8l1.2 1.5l-2.1 0.9z" stroke="#705cd8"/>
<path d="M636.5 189.4l2.1 1.4l2.0 0.8l-2.1 -0.3zM634.4 190.4l2.1 -1.1l2.0 1.9l-2.1 0.1zM632.3 192.3l2.1 -1.8l2.0 0.9l-2.1 2.7zM630.2 191.5l2.1 0.8l1.9 1.7l-2.1 -0.4zM628.0 193.6l2.1 -2.1l1.9 2.1l-2.1 1.9zM625.9 193.6l2.1 -0.1l1.9 1.9l-2.1 -0.4zM623.8 193.7l2.1 -0.0l1.9 1.4l-2.1 -0.1zM621.7 194.1l2.1 -0.4l1.9 1.3l-2.1 0.2zM619.5 195.7l2.1 -1.6l1.9 1.1l-2.1 1.8zM617.4 196.1l2.1 -0.4l1.8 1.3l-2.1 0.5zM615.3 196.5l2.1 -0.4l1.8 1.4l-2.1 -0.6zM613.2 196.7l2.1 -0.3l1.8 0.4l-2.1 2.1zM611.0 197.8l2.1 -1.0l1.8 2.3l-2.1 0.5zM608.9 198.2l2.1 -0.4l1.8 1.7l-2.1 0.3zM606.8 199.7l2.1 -1.5l1.8 1.6l-2.1 0.9zM600.4 202.0l2.1 -0.1l1.7 0.6l-2.1 1.7zM598.3 200.9l2.1 1.1l1.7 2.2l-2.1 -0.5zM596.2 203.8l2.1 -2.9l1.7 2.7l-2.1 2.7zM594.0 202.4l2.1 1.4l1.7 2.5l-2.1 -0.6zM591.9 203.1l2.1 -0.7l1.7 3.4l-2.1 -0.3zM581.3 208.4l2.1 -1.5l1.6 1.8l-2.1 1.3zM579.1 208.8l2.1 -0.5l1.6 1.5l-2.1 1.3zM577.0 211.8l2.1 -3.0l1.5 2.4l-2.1 2.5zM574.9 211.0l2.1 0.8l1.5 2.0l-2.1 -1.2zM553.6 216.4l2.1 0.8l1.4 0.7l-2.1 -0.0zM551.5 217.4l2.1 -1.0l1.4 1.5l-2.1 1.1zM540.9 222.8l2.1 -2.9l1.3 2.2l-2.1 2.5zM538.7 224.8l2.1 -2.1l1.3 1.8l-2.1 2.2z" stroke="#7260dc"/>
<path d="M604.7 197.6l2.1 2.1l1.8 1.0l-2.1 -0.9zM602.5 201.8l2.1 -4.3l1.7 2.2l-2.1 2.7zM589.8 202.5l2.1 0.6l1.6 2.4l-2.1 -2.4zM587.6 203.7l2.1 -1.2l1.6 0.6l-2.1 2.7zM585.5 204.8l2.1 -1.1l1.6 2.0l-2.1 0.4zM583.4 206.8l2.1 -2.0l1.6 1.3l-2.1 2.4zM572.8 208.1l2.1 2.9l1.5 1.6l-2.1 -2.4zM570.6 209.3l2.1 -1.3l1.5 2.1l-2.1 0.9zM568.5 209.2l2.1 0.1l1.5 1.8l-2.1 -0.2zM566.4 210.1l2.1 -0.9l1.5 1.7l-2.1 0.9zM564.3 210.2l2.1 -0.1l1.5 1.8l-2.1 1.3zM562.1 212.4l2.1 -2.3l1.4 3.0l-2.1 2.4zM560.0 214.1l2.1 -1.7l1.4 3.2l-2.1 0.5zM557.9 214.0l2.1 0.2l1.4 1.9l-2.1 0.9zM555.8 217.3l2.1 -3.3l1.4 3.0l-2.1 1.0zM549.4 214.6l2.1 2.8l1.3 1.7l-2.1 -1.6zM545.1 219.1l2.1 -4.3l1.3 1.6l-2.1 4.4zM543.0 219.8l2.1 -0.7l1.3 1.8l-2.1 1.1z" stroke="#7465df"/>
<path d="M547.3 214.8l2.1 -0.2l1.3 2.8l-2.1 -1.0z" stroke="#7669e2"/>
<path d="M664.2 183.7l2.1 -0.6l2.2 1.2l-2.2 0.8zM662.1 184.7l2.1 -1.0l2.2 1.4l-2.2 0.8zM659.9 185.3l2.1 -0.7l2.1 1.2l-2.2 0.6zM657.8 186.2l2.1 -0.9l2.1 1.1l-2.2 1.0zM655.7 185.5l2.1 0.6l2.1 1.2l-2.2 -0.6zM653.5 187.7l2.1 -2.1l2.1 1.2l-2.2 2.2zM651.4 187.4l2.1 0.3l2.1 1.3l-2.2 0.6zM649.2 188.9l2.1 -1.5l2.1 2.1l-2.2 0.9zM647.1 189.2l2.1 -0.3l2.1 1.5l-2.2 -1.0zM644.9 190.5l2.1 -1.2l2.0 0.2l-2.2 2.6zM642.8 191.1l2.1 -0.6l2.0 1.5l-2.2 0.1zM640.7 191.5l2.1 -0.4l2.0 0.9l-2.2 0.2zM638.5 191.2l2.1 0.3l2.0 0.7l-2.2 1.4zM630.0 195.5l2.1 -1.9l1.9 1.3l-2.2 1.7zM627.8 195.0l2.1 0.4l1.9 1.1l-2.2 -0.1zM537.8 228.1l2.1 -1.4l1.2 1.7l-2.2 1.2zM535.7 229.0l2.1 -0.9l1.2 1.5l-2.2 0.9z" stroke="#705cd8"/>
<path d="M636.4 191.3l2.1 -0.1l2.0 2.3l-2.2 -1.2zM634.2 194.0l2.1 -2.7l2.0 1.1l-2.2 1.1zM632.1 193.5l2.1 0.4l1.9 -0.5l-2.2 1.4zM625.7 195.0l2.1 0.1l1.9 1.4l-2.2 0.2zM623.5 195.2l2.1 -0.2l1.9 1.7l-2.2 1.1zM621.4 197.0l2.1 -1.8l1.9 2.6l-2.2 0.2zM619.2 197.5l2.1 -0.5l1.8 1.0l-2.2 1.2zM617.1 196.9l2.1 0.6l1.8 1.7l-2.2 0.8zM615.0 199.0l2.1 -2.1l1.8 3.0l-2.2 -0.3zM612.8 199.5l2.1 -0.5l1.8 0.6l-2.2 1.9zM610.7 199.8l2.1 -0.3l1.8 2.0l-2.2 -1.3zM608.5 200.7l2.1 -0.9l1.8 0.4l-2.2 2.9zM602.1 204.2l2.1 -1.7l1.7 2.5l-2.2 1.2zM600.0 203.6l2.1 0.5l1.7 1.9l-2.2 -0.9zM597.8 206.4l2.1 -2.7l1.7 1.6l-2.2 1.7zM595.7 205.8l2.1 0.6l1.7 0.5l-2.2 -0.8zM593.5 205.5l2.1 0.3l1.7 0.3l-2.2 0.1zM585.0 208.6l2.1 -2.4l1.6 1.8l-2.2 3.1zM582.8 209.9l2.1 -1.3l1.6 2.4l-2.2 0.9zM580.7 211.2l2.1 -1.3l1.6 2.1l-2.2 1.3zM578.5 213.8l2.1 -2.5l1.5 2.1l-2.2 1.3zM576.4 212.6l2.1 1.2l1.5 0.8l-2.2 -0.7zM561.4 216.1l2.1 -0.5l1.4 1.9l-2.2 0.1zM559.3 216.9l2.1 -0.9l1.4 1.5l-2.2 2.8zM557.1 218.0l2.1 -1.0l1.4 3.4l-2.2 0.6zM555.0 217.9l2.1 0.0l1.4 3.0l-2.2 -1.6zM552.8 219.1l2.1 -1.1l1.4 1.5l-2.2 1.1zM542.1 224.5l2.1 -2.5l1.3 2.2l-2.2 1.9zM540.0 226.8l2.1 -2.2l1.3 1.6l-2.2 2.4z" stroke="#7260dc"/>
<path d="M606.4 199.8l2.1 0.9l1.8 2.4l-2.2 -3.2zM604.3 202.5l2.1 -2.7l1.7 0.1l-2.2 5.0zM591.4 203.1l2.1 2.4l1.6 0.7l-2.2 -0.5zM589.3 205.7l2.1 -2.7l1.6 2.6l-2.2 1.0zM587.1 206.1l2.1 -0.4l1.6 0.9l-2.2 1.3zM574.3 210.2l2.1 2.4l1.5 1.3l-2.2 -1.2zM572.1 211.1l2.1 -0.9l1.5 2.5l-2.2 0.4zM570.0 210.9l2.1 0.2l1.5 1.9l-2.2 0.2zM567.8 211.8l2.1 -0.9l1.5 2.3l-2.2 0.3zM565.7 213.2l2.1 -1.3l1.5 1.8l-2.2 0.4zM563.6 215.6l2.1 -2.4l1.4 0.8l-2.2 3.5zM550.7 217.5l2.1 1.6l1.3 1.5l-2.2 -1.0zM546.4 220.9l2.1 -4.4l1.3 1.9l-2.2 3.8zM544.3 222.0l2.1 -1.1l1.3 1.2l-2.2 2.1z" stroke="#7465df"/>
<path d="M548.6 216.5l2.1 1.0l1.3 2.0l-2.2 -1.2z" stroke="#7669e2"/>
<path d="M666.4 185.1l2.2 -0.8l2.2 1.2l-2.2 0.8zM664.2 185.9l2.2 -0.8l2.2 1.2l-2.2 0.8zM662.1 186.4l2.2 -0.6l2.1 1.2l-2.2 0.0zM659.9 187.4l2.2 -1.0l2.1 0.7l-2.2 1.5zM657.8 186.8l2.2 0.6l2.1 1.2l-2.2 -0.8zM655.6 188.9l2.2 -2.2l2.1 1.1l-2.2 2.4zM653.4 189.5l2.2 -0.6l2.1 1.3l-2.2 0.3zM651.3 190.4l2.2 -0.9l2.1 0.9l-2.2 1.3zM649.1 189.4l2.2 1.0l2.1 1.3l-2.2 -1.0zM647.0 192.0l2.2 -2.6l2.0 1.3l-2.2 2.6zM644.8 192.0l2.2 -0.1l2.0 1.3l-2.2 0.3zM642.7 192.2l2.2 -0.2l2.0 1.5l-2.2 1.2zM640.5 193.6l2.2 -1.4l2.0 2.5l-2.2 0.7zM631.9 196.6l2.2 -1.7l1.9 1.4l-2.2 1.4zM603.8 206.1l2.2 -1.2l1.7 1.6l-2.2 2.0zM580.1 214.6l2.2 -1.3l1.5 1.7l-2.2 0.8zM539.1 229.7l2.2 -1.2l1.2 1.6l-2.2 1.2zM536.9 230.6l2.2 -0.9l1.2 1.6l-2.2 0.9z" stroke="#705cd8"/>
<path d="M638.3 192.4l2.2 1.2l2.0 1.9l-2.2 -0.8zM636.2 193.5l2.2 -1.1l2.0 2.3l-2.2 1.6zM634.0 194.9l2.2 -1.4l1.9 2.8l-2.2 -0.0zM629.7 196.5l2.2 0.1l1.9 1.1l-2.2 -0.2zM627.5 196.7l2.2 -0.2l1.9 1.0l-2.2 1.4zM625.4 197.8l2.2 -1.1l1.9 2.2l-2.2 -0.1zM623.2 198.0l2.2 -0.2l1.9 1.0l-2.2 -0.4zM621.1 199.2l2.2 -1.2l1.8 0.4l-2.2 0.5zM618.9 199.9l2.2 -0.8l1.8 -0.3l-2.2 1.8zM616.8 199.6l2.2 0.3l1.8 0.8l-2.2 0.9zM614.6 201.5l2.2 -1.9l1.8 2.0l-2.2 0.1zM612.4 200.2l2.2 1.3l1.8 0.2l-2.2 -0.3zM610.3 203.1l2.2 -2.9l1.8 1.2l-2.2 4.0zM601.7 205.2l2.2 0.9l1.7 2.4l-2.2 -1.8zM599.5 206.9l2.2 -1.7l1.7 1.5l-2.2 2.6zM597.3 206.1l2.2 0.8l1.7 2.5l-2.2 -1.9zM595.2 206.2l2.2 -0.1l1.7 1.4l-2.2 0.9zM586.5 211.0l2.2 -3.1l1.6 1.6l-2.2 3.3zM584.4 212.0l2.2 -0.9l1.6 1.7l-2.2 0.6zM582.2 213.3l2.2 -1.3l1.6 1.4l-2.2 1.6zM577.9 213.9l2.2 0.7l1.5 1.2l-2.2 -0.2zM575.8 212.7l2.2 1.2l1.5 1.7l-2.2 -0.1zM573.6 213.0l2.2 -0.4l1.5 2.9l-2.2 1.0zM562.8 217.6l2.2 -0.1l1.4 2.2l-2.2 -0.2zM560.7 220.3l2.2 -2.8l1.4 1.9l-2.2 1.9zM558.5 220.9l2.2 -0.6l1.4 1.0l-2.2 0.6zM556.3 219.4l2.2 1.6l1.4 1.0l-2.2 0.4zM554.2 220.5l2.2 -1.1l1.4 2.9l-2.2 -0.3zM543.4 226.1l2.2 -1.9l1.3 1.4l-2.2 2.1zM541.2 228.5l2.2 -2.4l1.3 1.5l-2.2 2.5z" stroke="#7260dc"/>
<path d="M608.1 199.9l2.2 3.2l1.8 2.3l-2.2 -2.5zM606.0 204.9l2.2 -5.0l1.7 3.1l-2.2 3.6zM593.0 205.6l2.2 0.5l1.6 2.2l-2.2 -1.5zM590.9 206.6l2.2 -1.0l1.6 1.3l-2.2 1.4zM588.7 207.9l2.2 -1.3l1.6 1.7l-2.2 1.2zM571.4 213.2l2.2 -0.2l1.5 3.4l-2.2 -1.0zM569.3 213.6l2.2 -0.3l1.5 2.2l-2.2 -0.7zM567.1 214.0l2.2 -0.4l1.5 1.1l-2.2 1.8zM565.0 217.5l2.2 -3.5l1.4 2.6l-2.2 3.1zM552.0 219.5l2.2 1.0l1.3 1.5l-2.2 -0.2zM549.9 218.3l2.2 1.2l1.3 2.3l-2.2 -1.9zM547.7 222.1l2.2 -3.8l1.3 1.6l-2.2 4.2zM545.6 224.2l2.2 -2.1l1.3 2.0l-2.2 1.5z" stroke="#7465df"/>
<path d="M668.5 186.3l2.2 -0.8l2.2 1.2l-2.2 0.8zM666.4 187.1l2.2 -0.8l2.2 1.2l-2.2 0.8zM664.2 187.1l2.2 -0.0l2.1 1.2l-2.2 -0.4zM662.0 188.6l2.2 -1.5l2.1 0.8l-2.2 2.0zM655.5 190.4l2.2 -0.3l2.1 1.2l-2.2 0.8zM653.3 191.7l2.2 -1.3l2.1 1.8l-2.2 0.8zM646.8 193.5l2.2 -0.3l2.0 1.3l-2.2 0.8zM644.6 194.8l2.2 -1.2l2.0 1.7l-2.2 0.8zM642.5 195.4l2.2 -0.7l2.0 1.3l-2.2 0.8zM635.9 196.3l2.2 0.0l1.9 1.2l-2.2 0.1zM633.8 197.7l2.2 -1.4l1.9 1.3l-2.2 1.4zM605.5 208.5l2.2 -2.0l1.7 1.9l-2.2 1.1zM581.6 215.8l2.2 -0.8l1.5 1.3l-2.2 1.3zM540.3 231.3l2.2 -1.2l1.2 1.5l-2.2 1.2zM538.1 232.2l2.2 -0.9l1.2 1.6l-2.2 0.9z" stroke="#705cd8"/>
<path d="M659.9 187.8l2.2 0.8l2.1 1.2l-2.2 -2.4zM657.7 190.2l2.2 -2.4l2.1 -0.3l-2.2 3.9zM651.2 190.7l2.2 1.0l2.1 1.3l-2.2 -1.7zM649.0 193.2l2.2 -2.6l2.0 0.6l-2.2 3.3zM640.3 194.7l2.2 0.8l2.0 1.4l-2.2 -2.1zM638.1 196.3l2.2 -1.6l2.0 0.1l-2.2 2.7zM631.6 197.5l2.2 0.2l1.9 1.3l-2.2 0.3zM629.4 198.8l2.2 -1.4l1.9 1.9l-2.2 1.0zM627.3 198.7l2.2 0.1l1.9 1.6l-2.2 -0.2zM625.1 198.4l2.2 0.4l1.9 1.4l-2.2 -0.4zM622.9 198.9l2.2 -0.5l1.8 1.3l-2.2 1.2zM620.7 200.7l2.2 -1.8l1.8 2.0l-2.2 1.1zM618.6 201.7l2.2 -0.9l1.8 1.3l-2.2 1.4zM616.4 201.7l2.2 -0.1l1.8 1.7l-2.2 -0.3zM614.2 201.5l2.2 0.3l1.8 1.4l-2.2 0.2zM612.0 205.4l2.2 -4.0l1.8 1.9l-2.2 3.5zM609.9 202.9l2.2 2.5l1.8 1.4l-2.2 -2.0zM607.7 206.5l2.2 -3.6l1.7 1.9l-2.2 3.7zM603.3 206.8l2.2 1.8l1.7 1.0l-2.2 -0.1zM601.2 209.4l2.2 -2.6l1.7 2.7l-2.2 2.0zM599.0 207.5l2.2 1.9l1.7 2.1l-2.2 -1.8zM596.8 208.4l2.2 -0.9l1.7 2.2l-2.2 -0.5zM588.1 212.8l2.2 -3.3l1.6 2.2l-2.2 2.5zM586.0 213.4l2.2 -0.6l1.6 1.5l-2.2 0.9zM583.8 214.9l2.2 -1.6l1.6 1.8l-2.2 1.1zM579.4 215.6l2.2 0.2l1.5 1.8l-2.2 -0.1zM577.3 215.5l2.2 0.1l1.5 1.9l-2.2 0.5zM575.1 216.5l2.2 -1.0l1.5 2.4l-2.2 -1.3zM564.2 219.4l2.2 0.2l1.4 1.1l-2.2 0.5zM562.0 221.3l2.2 -1.9l1.4 1.8l-2.2 2.9zM559.9 221.9l2.2 -0.6l1.4 2.9l-2.2 -0.9zM557.7 222.3l2.2 -0.4l1.4 1.4l-2.2 0.9zM555.5 222.0l2.2 0.3l1.4 1.9l-2.2 -0.5zM546.8 225.6l2.2 -1.5l1.3 1.5l-2.2 1.8zM544.7 227.6l2.2 -2.1l1.3 1.9l-2.2 2.0zM542.5 230.1l2.2 -2.5l1.3 1.8l-2.2 2.1z" stroke="#7260dc"/>
<path d="M594.6 206.9l2.2 1.5l1.6 0.7l-2.2 -0.9zM592.5 208.3l2.2 -1.4l1.6 1.4l-2.2 2.3zM590.3 209.5l2.2 -1.2l1.6 2.3l-2.2 1.2zM572.9 215.5l2.2 1.0l1.5 0.2l-2.2 -0.0zM570.7 214.7l2.2 0.7l1.5 1.1l-2.2 -0.0zM568.6 216.5l2.2 -1.8l1.5 1.8l-2.2 1.3zM566.4 219.7l2.2 -3.1l1.4 1.4l-2.2 2.9zM553.3 221.8l2.2 0.2l1.3 1.7l-2.2 0.6zM551.2 219.9l2.2 1.9l1.3 2.4l-2.2 -2.8zM549.0 224.1l2.2 -4.2l1.3 1.5l-2.2 4.2z" stroke="#7465df"/></g>
<path d="M431.3 46.6L431.3 174.6L538.0 234.3L672.9 186.8M431.3 174.6l-2.8 -1.6M431.3 142.6l-2.8 -1.6M431.3 110.6l-2.8 -1.6M431.3 78.6l-2.8 -1.6M431.3 46.6l-2.8 -1.6M538.0 234.3l-3.3 1.2M484.6 204.5l-3.3 1.2M431.3 174.6l-3.3 1.2M538.0 234.3l3.1 1.7M583.0 218.5l3.1 1.7M627.9 202.6l3.1 1.7M672.9 186.8l3.1 1.7" stroke="#262626" stroke-width="0.8" fill="none" stroke-opacity="0.9"/>
<text x="7.9" y="17.8" font-size="19" font-weight="bold" fill="#000">a</text>
<text x="371.6" y="17.8" font-size="19.5" font-weight="bold" fill="#000">b</text>
<line x1="49.4" y1="212.00" x2="51.8" y2="212.00" stroke="#555" stroke-width="0.9"/>
<text x="45.50" y="216.65" font-size="11" text-anchor="end" fill="#262626" >0</text>
<line x1="49.4" y1="180.28" x2="51.8" y2="180.28" stroke="#555" stroke-width="0.9"/>
<text x="45.50" y="184.93" font-size="11" text-anchor="end" fill="#262626" >2</text>
<line x1="49.4" y1="148.56" x2="51.8" y2="148.56" stroke="#555" stroke-width="0.9"/>
<text x="45.50" y="153.21" font-size="11" text-anchor="end" fill="#262626" >4</text>
<line x1="49.4" y1="116.84" x2="51.8" y2="116.84" stroke="#555" stroke-width="0.9"/>
<text x="45.50" y="121.49" font-size="11" text-anchor="end" fill="#262626" >6</text>
<line x1="49.4" y1="85.12" x2="51.8" y2="85.12" stroke="#555" stroke-width="0.9"/>
<text x="45.50" y="89.77" font-size="11" text-anchor="end" fill="#262626" >8</text>
<line x1="49.4" y1="53.40" x2="51.8" y2="53.40" stroke="#555" stroke-width="0.9"/>
<text x="45.50" y="58.05" font-size="11" text-anchor="end" fill="#262626" >10</text>
<line x1="49.4" y1="53.2" x2="49.4" y2="212.2" stroke="#666" stroke-width="1.2"/>
<line x1="296.8" y1="212.00" x2="299.2" y2="212.00" stroke="#e05a50" stroke-width="0.9"/>
<text x="302.40" y="215.75" font-size="11" text-anchor="start" fill="#d52a22" >0</text>
<line x1="296.8" y1="188.10" x2="299.2" y2="188.10" stroke="#e05a50" stroke-width="0.9"/>
<text x="302.40" y="191.85" font-size="11" text-anchor="start" fill="#d52a22" >50</text>
<line x1="296.8" y1="164.20" x2="299.2" y2="164.20" stroke="#e05a50" stroke-width="0.9"/>
<text x="302.40" y="167.95" font-size="11" text-anchor="start" fill="#d52a22" >100</text>
<line x1="296.8" y1="140.30" x2="299.2" y2="140.30" stroke="#e05a50" stroke-width="0.9"/>
<text x="302.40" y="144.05" font-size="11" text-anchor="start" fill="#d52a22" >150</text>
<line x1="296.8" y1="116.40" x2="299.2" y2="116.40" stroke="#e05a50" stroke-width="0.9"/>
<text x="302.40" y="120.15" font-size="11" text-anchor="start" fill="#d52a22" >200</text>
<line x1="296.8" y1="92.50" x2="299.2" y2="92.50" stroke="#e05a50" stroke-width="0.9"/>
<text x="302.40" y="96.25" font-size="11" text-anchor="start" fill="#d52a22" >250</text>
<line x1="296.8" y1="68.60" x2="299.2" y2="68.60" stroke="#e05a50" stroke-width="0.9"/>
<text x="302.40" y="72.35" font-size="11" text-anchor="start" fill="#d52a22" >300</text>
<line x1="299.2" y1="53.2" x2="299.2" y2="212.2" stroke="#e8706a" stroke-width="1.0"/>
<text x="94.65" y="227.00" font-size="11.2" text-anchor="middle" fill="#262626" >May 13</text>
<text x="156.52" y="227.00" font-size="11.2" text-anchor="middle" fill="#262626" >May 16</text>
<text x="218.39" y="227.00" font-size="11.2" text-anchor="middle" fill="#262626" >May 19</text>
<text x="280.26" y="227.00" font-size="11.2" text-anchor="middle" fill="#262626" >May 22</text>
<text x="277.05" y="242.00" font-size="11.2" text-anchor="middle" fill="#262626" >2018</text>
<text transform="translate(10.80,136.60) rotate(-90)" x="0" y="0" font-size="14.5" text-anchor="middle" fill="#262626" textLength="102.5" lengthAdjust="spacingAndGlyphs">Physical activity</text>
<text transform="translate(30.50,135.60) rotate(-90)" x="0" y="0" font-size="14.5" text-anchor="middle" fill="#262626" textLength="96.0" lengthAdjust="spacingAndGlyphs">(Actigraphy, D)</text>
<text transform="translate(338.30,135.50) rotate(-90)" x="0" y="0" font-size="14.5" text-anchor="middle" fill="#d52a22" textLength="123.7" lengthAdjust="spacingAndGlyphs">No. of taps per min</text>
<text transform="translate(376.00,132.50) rotate(-90)" x="0" y="0" font-size="14.5" text-anchor="middle" fill="#262626" textLength="133.3" lengthAdjust="spacingAndGlyphs">Smartphone activity</text>
<text transform="translate(395.60,133.25) rotate(-90)" x="0" y="0" font-size="14.5" text-anchor="middle" fill="#262626" textLength="106.3" lengthAdjust="spacingAndGlyphs">(Tappigraphy, P)</text>
<text x="396.00" y="237.00" font-size="14.5" fill="#262626" textLength="75.6" lengthAdjust="spacingAndGlyphs">Subject No.</text>
<text x="563.60" y="252.70" font-size="14.5" fill="#262626" textLength="104.6" lengthAdjust="spacingAndGlyphs">Physical activity</text>
<text x="568.40" y="269.70" font-size="14.5" fill="#262626" textLength="99.0" lengthAdjust="spacingAndGlyphs">(Actigraphy, D)</text>
<text x="425.80" y="176.15" font-size="11" text-anchor="end" fill="#262626" >0</text>
<text x="425.80" y="143.90" font-size="11" text-anchor="end" fill="#262626" >0.2</text>
<text x="425.80" y="111.65" font-size="11" text-anchor="end" fill="#262626" >0.4</text>
<text x="425.80" y="79.40" font-size="11" text-anchor="end" fill="#262626" >0.6</text>
<text x="425.80" y="47.15" font-size="11" text-anchor="end" fill="#262626" >0.8</text>
<text x="423.80" y="188.15" font-size="11" text-anchor="end" fill="#262626" >100</text>
<text x="476.90" y="217.75" font-size="11" text-anchor="end" fill="#262626" >50</text>
<text x="528.80" y="246.95" font-size="11" text-anchor="end" fill="#262626" >0</text>
<text x="542.30" y="248.25" font-size="11" text-anchor="start" fill="#262626" >0</text>
<text x="587.20" y="233.75" font-size="11" text-anchor="start" fill="#262626" >2</text>
<text x="632.70" y="217.85" font-size="11" text-anchor="start" fill="#262626" >4.5</text>
<text x="678.10" y="202.65" font-size="11" text-anchor="start" fill="#262626" >7</text>
</svg>
</body></html>
